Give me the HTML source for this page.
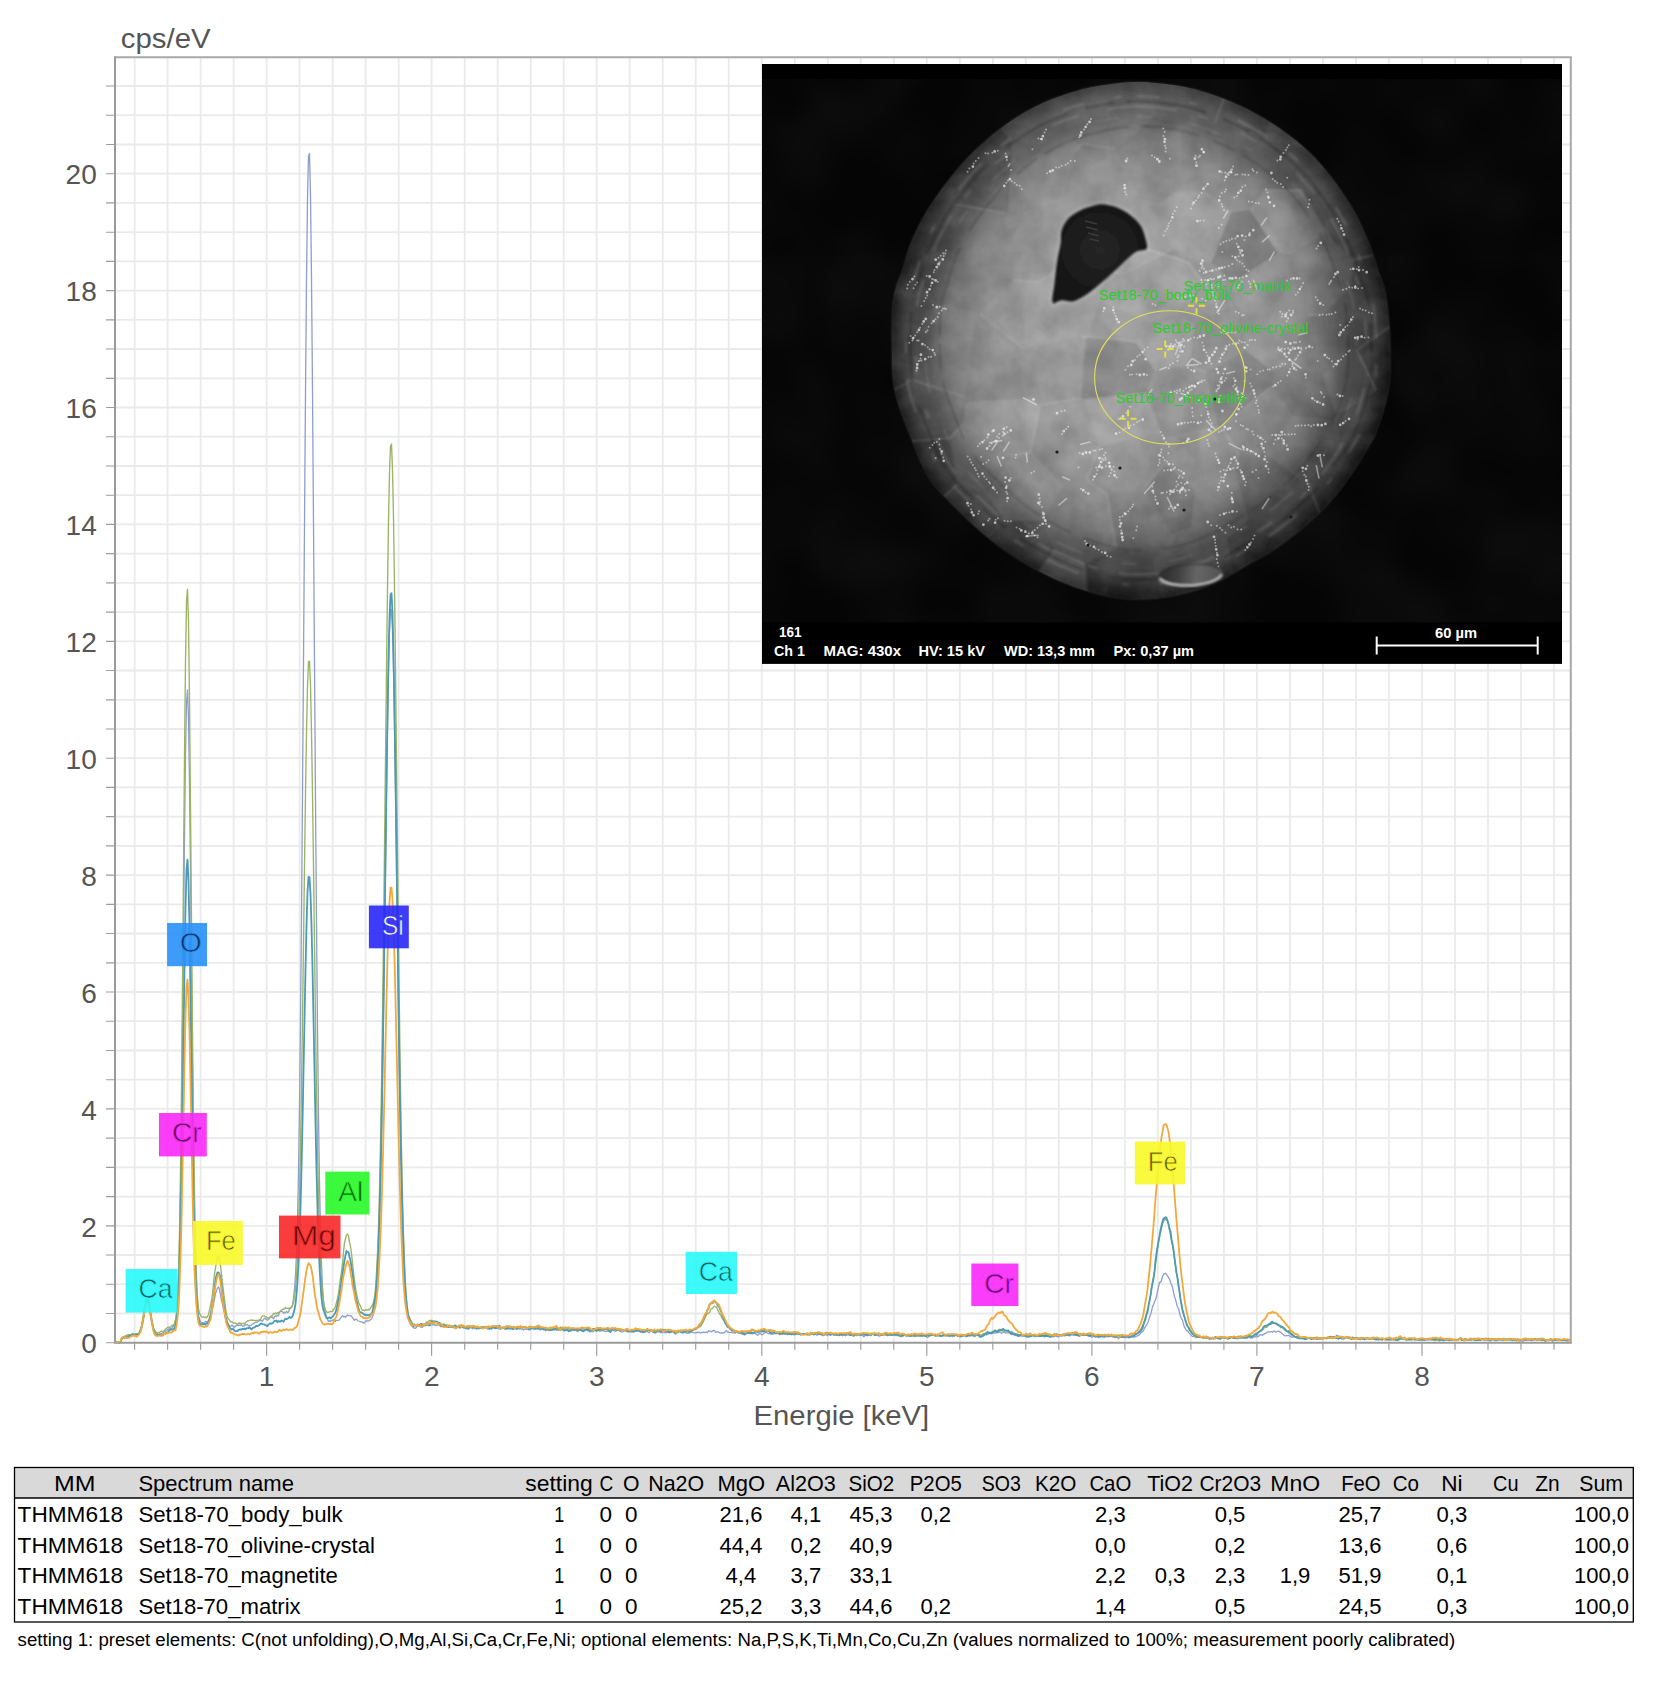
<!DOCTYPE html>
<html><head><meta charset="utf-8"><title>EDS spectrum Set18-70</title>
<style>
html,body{margin:0;padding:0;background:#fff;}
body{width:1659px;height:1692px;overflow:hidden;font-family:"Liberation Sans",sans-serif;}
svg{display:block;}
</style></head><body>
<svg width="1659" height="1692" viewBox="0 0 1659 1692">
<defs>
<clipPath id="plotclip"><rect x="115.0" y="57.3" width="1455.8" height="1286.4"/></clipPath>
<clipPath id="semclip"><rect x="762.0" y="64.0" width="800.0" height="599.8"/></clipPath>
<clipPath id="sphclip"><path d="M1137.0 81.9C1150.1 81.9 1165.8 83.8 1177.8 85.7C1189.8 87.6 1198.5 90.1 1209.0 93.5C1219.5 96.9 1230.0 101.0 1240.5 106.0C1251.0 111.0 1261.3 116.5 1271.8 123.3C1282.2 130.1 1293.8 138.5 1303.2 146.8C1312.6 155.2 1320.5 163.7 1328.3 173.4C1336.1 183.1 1343.9 194.4 1350.2 204.8C1356.5 215.2 1361.5 225.6 1365.9 236.0C1370.4 246.4 1373.6 257.3 1376.9 267.5C1380.2 277.7 1383.8 284.2 1386.0 297.0C1388.2 309.8 1389.7 328.3 1390.0 344.0C1390.3 359.7 1390.3 376.3 1388.0 391.0C1385.7 405.7 1379.5 422.3 1376.0 432.0C1372.5 441.7 1371.0 442.2 1367.0 449.0C1363.0 455.8 1357.5 464.9 1352.0 473.0C1346.5 481.1 1341.0 489.2 1334.0 497.3C1327.0 505.4 1319.0 513.4 1309.9 521.4C1300.9 529.4 1289.8 538.5 1279.7 545.5C1269.7 552.5 1259.4 557.8 1249.6 563.6C1239.8 569.4 1230.8 575.5 1221.0 580.2C1211.2 584.9 1200.7 588.9 1190.5 591.8C1180.3 594.7 1169.2 596.6 1160.0 597.8C1150.8 599.0 1143.2 599.4 1135.0 599.2C1126.8 599.0 1120.0 598.4 1111.0 596.7C1102.0 595.0 1090.8 592.3 1080.8 589.0C1070.8 585.7 1060.7 581.7 1050.7 577.0C1040.7 572.3 1030.7 566.9 1020.6 560.6C1010.5 554.4 1000.5 547.6 990.4 539.5C980.3 531.4 970.1 522.1 960.0 512.0C949.9 501.9 938.0 491.0 930.0 479.0C922.0 467.0 917.8 454.7 912.0 440.0C906.2 425.3 898.3 407.0 895.0 391.0C891.7 375.0 892.2 359.7 892.0 344.0C891.8 328.3 892.1 309.8 894.0 297.0C895.9 284.2 900.6 276.6 903.5 267.5C906.4 258.4 907.4 251.8 911.3 242.4C915.2 233.0 920.7 221.4 927.0 211.0C933.3 200.6 941.2 189.6 949.0 179.7C956.8 169.8 964.6 160.6 974.0 151.5C983.4 142.4 994.9 132.5 1005.4 124.9C1015.9 117.3 1026.3 111.2 1036.7 106.0C1047.1 100.8 1057.5 96.9 1068.0 93.5C1078.5 90.1 1087.9 87.6 1099.4 85.7C1110.9 83.8 1123.9 81.9 1137.0 81.9Z"/></clipPath>
<radialGradient id="sphg" gradientUnits="userSpaceOnUse" cx="1141" cy="340" r="262" fx="1105" fy="300">
<stop offset="0" stop-color="#989898"/><stop offset="0.40" stop-color="#929292"/>
<stop offset="0.65" stop-color="#888888"/><stop offset="0.80" stop-color="#7a7a7a"/>
<stop offset="0.90" stop-color="#686868"/><stop offset="0.96" stop-color="#525252"/>
<stop offset="1" stop-color="#303030"/></radialGradient>
<linearGradient id="shade" gradientUnits="userSpaceOnUse" x1="1000" y1="200" x2="1350" y2="520">
<stop offset="0" stop-color="#000" stop-opacity="0"/><stop offset="0.55" stop-color="#000" stop-opacity="0"/>
<stop offset="1" stop-color="#000" stop-opacity="0.12"/></linearGradient>
<linearGradient id="toplight" gradientUnits="userSpaceOnUse" x1="1141" y1="82" x2="1141" y2="598">
<stop offset="0" stop-color="#fff" stop-opacity="0.17"/><stop offset="0.13" stop-color="#fff" stop-opacity="0.10"/>
<stop offset="0.36" stop-color="#fff" stop-opacity="0"/><stop offset="1" stop-color="#fff" stop-opacity="0"/></linearGradient>
<linearGradient id="cavg" gradientUnits="userSpaceOnUse" x1="1160" y1="570" x2="1224" y2="580">
<stop offset="0" stop-color="#2a2a2a"/><stop offset="0.3" stop-color="#3e3e3e"/><stop offset="0.6" stop-color="#666"/><stop offset="1" stop-color="#505050"/></linearGradient>
<filter id="soft4" x="-5%" y="-5%" width="110%" height="110%"><feGaussianBlur stdDeviation="4"/></filter>
<radialGradient id="holeg" gradientUnits="userSpaceOnUse" cx="1100" cy="250" r="52">
<stop offset="0" stop-color="#262626"/><stop offset="1" stop-color="#151515"/></radialGradient>
<filter id="grain" x="0" y="0" width="100%" height="100%" color-interpolation-filters="sRGB">
<feTurbulence type="fractalNoise" baseFrequency="0.035 0.03" numOctaves="4" seed="5" result="n"/>
<feColorMatrix in="n" type="matrix" values="0 0 0 0 0  0 0 0 0 0  0 0 0 0 0  2.2 0 0 0 -0.75"/>
</filter>
<filter id="grainw" x="0" y="0" width="100%" height="100%" color-interpolation-filters="sRGB">
<feTurbulence type="fractalNoise" baseFrequency="0.03 0.04" numOctaves="4" seed="23" result="n"/>
<feColorMatrix in="n" type="matrix" values="0 0 0 0 1  0 0 0 0 1  0 0 0 0 1  2.0 0 0 0 -0.72"/>
</filter>
<filter id="bgn" x="0" y="0" width="100%" height="100%" color-interpolation-filters="sRGB">
<feTurbulence type="fractalNoise" baseFrequency="0.012" numOctaves="2" seed="3" result="n"/>
<feColorMatrix in="n" type="matrix" values="0 0 0 0 1  0 0 0 0 1  0 0 0 0 1  0.35 0 0 0 -0.1"/>
</filter>
<filter id="soft" x="-5%" y="-5%" width="110%" height="110%"><feGaussianBlur stdDeviation="0.8"/></filter>
<filter id="soft3" x="-5%" y="-5%" width="110%" height="110%"><feGaussianBlur stdDeviation="0.55"/></filter>
<filter id="soft2" x="-5%" y="-5%" width="110%" height="110%"><feGaussianBlur stdDeviation="2.2"/></filter>
</defs>
<rect width="1659" height="1692" fill="#ffffff"/>
<path d="M134.6 57.3V1342.7M167.6 57.3V1342.7M200.6 57.3V1342.7M233.6 57.3V1342.7M266.6 57.3V1342.7M299.6 57.3V1342.7M332.6 57.3V1342.7M365.6 57.3V1342.7M398.6 57.3V1342.7M431.6 57.3V1342.7M464.7 57.3V1342.7M497.7 57.3V1342.7M530.7 57.3V1342.7M563.7 57.3V1342.7M596.7 57.3V1342.7M629.7 57.3V1342.7M662.7 57.3V1342.7M695.7 57.3V1342.7M728.7 57.3V1342.7M761.8 57.3V1342.7M794.8 57.3V1342.7M827.8 57.3V1342.7M860.8 57.3V1342.7M893.8 57.3V1342.7M926.8 57.3V1342.7M959.8 57.3V1342.7M992.8 57.3V1342.7M1025.8 57.3V1342.7M1058.8 57.3V1342.7M1091.9 57.3V1342.7M1124.9 57.3V1342.7M1157.9 57.3V1342.7M1190.9 57.3V1342.7M1223.9 57.3V1342.7M1256.9 57.3V1342.7M1289.9 57.3V1342.7M1322.9 57.3V1342.7M1355.9 57.3V1342.7M1388.9 57.3V1342.7M1422.0 57.3V1342.7M1455.0 57.3V1342.7M1488.0 57.3V1342.7M1521.0 57.3V1342.7M1554.0 57.3V1342.7M115.0 1313.5H1570.8M115.0 1284.2H1570.8M115.0 1255.0H1570.8M115.0 1225.8H1570.8M115.0 1196.6H1570.8M115.0 1167.3H1570.8M115.0 1138.1H1570.8M115.0 1108.9H1570.8M115.0 1079.7H1570.8M115.0 1050.5H1570.8M115.0 1021.2H1570.8M115.0 992.0H1570.8M115.0 962.8H1570.8M115.0 933.5H1570.8M115.0 904.3H1570.8M115.0 875.1H1570.8M115.0 845.9H1570.8M115.0 816.6H1570.8M115.0 787.4H1570.8M115.0 758.2H1570.8M115.0 729.0H1570.8M115.0 699.8H1570.8M115.0 670.5H1570.8M115.0 641.3H1570.8M115.0 612.1H1570.8M115.0 582.9H1570.8M115.0 553.6H1570.8M115.0 524.4H1570.8M115.0 495.2H1570.8M115.0 466.0H1570.8M115.0 436.7H1570.8M115.0 407.5H1570.8M115.0 378.3H1570.8M115.0 349.0H1570.8M115.0 319.8H1570.8M115.0 290.6H1570.8M115.0 261.4H1570.8M115.0 232.2H1570.8M115.0 202.9H1570.8M115.0 173.7H1570.8M115.0 144.5H1570.8M115.0 115.2H1570.8M115.0 86.0H1570.8" fill="none" stroke="#eaeaea" stroke-width="1.8"/>
<path d="M115.0 57.3H1570.8V1342.7" fill="none" stroke="#a9a9a9" stroke-width="2"/>
<path d="M115.0 56.3V1342.7H1571.8" fill="none" stroke="#9a9a9a" stroke-width="2"/>
<path d="M106.0 1342.7H115.0M106.0 1313.5H115.0M106.0 1284.2H115.0M106.0 1255.0H115.0M106.0 1225.8H115.0M106.0 1196.6H115.0M106.0 1167.3H115.0M106.0 1138.1H115.0M106.0 1108.9H115.0M106.0 1079.7H115.0M106.0 1050.5H115.0M106.0 1021.2H115.0M106.0 992.0H115.0M106.0 962.8H115.0M106.0 933.5H115.0M106.0 904.3H115.0M106.0 875.1H115.0M106.0 845.9H115.0M106.0 816.6H115.0M106.0 787.4H115.0M106.0 758.2H115.0M106.0 729.0H115.0M106.0 699.8H115.0M106.0 670.5H115.0M106.0 641.3H115.0M106.0 612.1H115.0M106.0 582.9H115.0M106.0 553.6H115.0M106.0 524.4H115.0M106.0 495.2H115.0M106.0 466.0H115.0M106.0 436.7H115.0M106.0 407.5H115.0M106.0 378.3H115.0M106.0 349.0H115.0M106.0 319.8H115.0M106.0 290.6H115.0M106.0 261.4H115.0M106.0 232.2H115.0M106.0 202.9H115.0M106.0 173.7H115.0M106.0 144.5H115.0M106.0 115.2H115.0M106.0 86.0H115.0M134.6 1342.7V1349.7M167.6 1342.7V1349.7M200.6 1342.7V1349.7M233.6 1342.7V1349.7M266.6 1342.7V1355.7M299.6 1342.7V1349.7M332.6 1342.7V1349.7M365.6 1342.7V1349.7M398.6 1342.7V1349.7M431.6 1342.7V1355.7M464.7 1342.7V1349.7M497.7 1342.7V1349.7M530.7 1342.7V1349.7M563.7 1342.7V1349.7M596.7 1342.7V1355.7M629.7 1342.7V1349.7M662.7 1342.7V1349.7M695.7 1342.7V1349.7M728.7 1342.7V1349.7M761.8 1342.7V1355.7M794.8 1342.7V1349.7M827.8 1342.7V1349.7M860.8 1342.7V1349.7M893.8 1342.7V1349.7M926.8 1342.7V1355.7M959.8 1342.7V1349.7M992.8 1342.7V1349.7M1025.8 1342.7V1349.7M1058.8 1342.7V1349.7M1091.9 1342.7V1355.7M1124.9 1342.7V1349.7M1157.9 1342.7V1349.7M1190.9 1342.7V1349.7M1223.9 1342.7V1349.7M1256.9 1342.7V1355.7M1289.9 1342.7V1349.7M1322.9 1342.7V1349.7M1355.9 1342.7V1349.7M1388.9 1342.7V1349.7M1422.0 1342.7V1355.7M1455.0 1342.7V1349.7M1488.0 1342.7V1349.7M1521.0 1342.7V1349.7M1554.0 1342.7V1349.7" fill="none" stroke="#9c9c9c" stroke-width="1.15"/>
<g font-family="Liberation Sans, sans-serif" fill="#555555" font-size="27.3">
<text x="120.8" y="47.7" textLength="89.8" lengthAdjust="spacingAndGlyphs">cps/eV</text>
<text x="81.2" y="1353.4" textLength="15.6" lengthAdjust="spacingAndGlyphs">0</text>
<text x="81.2" y="1236.5" textLength="15.6" lengthAdjust="spacingAndGlyphs">2</text>
<text x="81.2" y="1119.6" textLength="15.6" lengthAdjust="spacingAndGlyphs">4</text>
<text x="81.2" y="1002.7" textLength="15.6" lengthAdjust="spacingAndGlyphs">6</text>
<text x="81.2" y="885.8" textLength="15.6" lengthAdjust="spacingAndGlyphs">8</text>
<text x="65.6" y="768.9" textLength="31.2" lengthAdjust="spacingAndGlyphs">10</text>
<text x="65.6" y="652.0" textLength="31.2" lengthAdjust="spacingAndGlyphs">12</text>
<text x="65.6" y="535.1" textLength="31.2" lengthAdjust="spacingAndGlyphs">14</text>
<text x="65.6" y="418.2" textLength="31.2" lengthAdjust="spacingAndGlyphs">16</text>
<text x="65.6" y="301.3" textLength="31.2" lengthAdjust="spacingAndGlyphs">18</text>
<text x="65.6" y="184.4" textLength="31.2" lengthAdjust="spacingAndGlyphs">20</text>
<text x="258.8" y="1385.8" textLength="15.6" lengthAdjust="spacingAndGlyphs">1</text>
<text x="423.9" y="1385.8" textLength="15.6" lengthAdjust="spacingAndGlyphs">2</text>
<text x="588.9" y="1385.8" textLength="15.6" lengthAdjust="spacingAndGlyphs">3</text>
<text x="754.0" y="1385.8" textLength="15.6" lengthAdjust="spacingAndGlyphs">4</text>
<text x="919.0" y="1385.8" textLength="15.6" lengthAdjust="spacingAndGlyphs">5</text>
<text x="1084.0" y="1385.8" textLength="15.6" lengthAdjust="spacingAndGlyphs">6</text>
<text x="1249.1" y="1385.8" textLength="15.6" lengthAdjust="spacingAndGlyphs">7</text>
<text x="1414.2" y="1385.8" textLength="15.6" lengthAdjust="spacingAndGlyphs">8</text>
<text x="753.6" y="1425" textLength="175.6" lengthAdjust="spacingAndGlyphs">Energie [keV]</text>
</g>
<g clip-path="url(#plotclip)">
<path d="M116.5 1342.6 117.5 1342.3 118.5 1341.8 119.5 1342.1 120.5 1342.0 121.5 1338.9 122.5 1337.3 123.5 1336.7 124.5 1337.4 125.5 1337.7 126.5 1336.7 127.5 1336.1 128.5 1335.1 129.5 1334.7 130.5 1334.9 131.5 1335.0 132.5 1333.4 133.5 1334.1 134.5 1334.7 135.5 1335.2 136.5 1334.7 137.5 1334.3 138.5 1333.9 139.5 1332.7 140.5 1330.5 141.5 1326.9 142.5 1321.8 143.5 1316.4 144.5 1312.1 145.5 1305.6 146.5 1303.3 147.5 1302.2 148.5 1305.3 149.5 1309.1 150.5 1315.3 151.5 1320.7 152.5 1323.6 153.5 1328.5 154.5 1331.1 155.5 1333.8 156.5 1334.6 157.5 1334.3 158.5 1334.4 159.5 1333.9 160.5 1333.6 161.5 1333.8 162.5 1332.8 163.5 1332.7 164.5 1330.9 165.5 1331.0 166.5 1330.2 167.5 1329.9 168.5 1328.9 169.5 1329.2 170.5 1328.2 171.5 1328.2 172.5 1327.1 173.5 1326.3 174.5 1324.9 175.5 1322.3 176.5 1314.8 177.5 1302.0 178.5 1278.9 179.5 1245.1 180.5 1192.8 181.5 1121.8 182.5 1033.6 183.5 934.8 184.5 836.7 185.5 754.9 186.5 703.0 187.5 689.9 188.5 718.6 189.5 783.6 190.5 874.4 191.5 974.5 192.5 1070.5 193.5 1152.2 194.5 1215.7 195.5 1259.7 196.5 1287.2 197.5 1305.7 198.5 1315.9 199.5 1319.1 200.5 1321.7 201.5 1322.3 202.5 1322.6 203.5 1323.9 204.5 1322.2 205.5 1321.6 206.5 1322.0 207.5 1321.5 208.5 1320.9 209.5 1320.2 210.5 1317.8 211.5 1314.1 212.5 1309.1 213.5 1304.0 214.5 1299.3 215.5 1293.4 216.5 1290.9 217.5 1287.9 218.5 1286.9 219.5 1289.6 220.5 1295.0 221.5 1299.9 222.5 1304.4 223.5 1309.0 224.5 1312.7 225.5 1318.0 226.5 1321.0 227.5 1322.8 228.5 1324.6 229.5 1327.1 230.5 1326.5 231.5 1325.3 232.5 1325.5 233.5 1326.9 234.5 1327.3 235.5 1326.3 236.5 1324.8 237.5 1325.1 238.5 1325.7 239.5 1325.0 240.5 1325.7 241.5 1324.8 242.5 1325.9 243.5 1326.3 244.5 1325.7 245.5 1324.7 246.5 1324.6 247.5 1324.6 248.5 1325.9 249.5 1325.7 250.5 1325.4 251.5 1325.0 252.5 1323.8 253.5 1323.7 254.5 1322.6 255.5 1322.3 256.5 1322.3 257.5 1321.8 258.5 1321.2 259.5 1320.4 260.5 1320.7 261.5 1320.6 262.5 1321.2 263.5 1319.4 264.5 1318.4 265.5 1318.9 266.5 1319.4 267.5 1320.2 268.5 1319.4 269.5 1318.8 270.5 1316.9 271.5 1317.0 272.5 1317.6 273.5 1318.9 274.5 1316.5 275.5 1315.9 276.5 1316.6 277.5 1315.4 278.5 1315.9 279.5 1312.0 280.5 1311.4 281.5 1311.3 282.5 1311.7 283.5 1313.2 284.5 1312.4 285.5 1312.9 286.5 1311.4 287.5 1312.6 288.5 1312.0 289.5 1309.6 290.5 1307.3 291.5 1307.1 292.5 1305.2 293.5 1298.4 294.5 1288.6 295.5 1275.4 296.5 1253.3 297.5 1219.9 298.5 1172.7 299.5 1107.4 300.5 1021.0 301.5 916.4 302.5 793.3 303.5 660.7 304.5 523.6 305.5 393.7 306.5 280.9 307.5 199.0 308.5 155.9 309.5 153.5 310.5 195.3 311.5 277.8 312.5 390.4 313.5 523.3 314.5 664.0 315.5 799.4 316.5 923.0 317.5 1029.1 318.5 1116.0 319.5 1182.7 320.5 1230.2 321.5 1263.5 322.5 1286.6 323.5 1299.6 324.5 1308.9 325.5 1314.0 326.5 1316.4 327.5 1319.2 328.5 1321.5 329.5 1320.8 330.5 1321.4 331.5 1320.3 332.5 1320.3 333.5 1319.8 334.5 1319.6 335.5 1321.4 336.5 1320.3 337.5 1320.4 338.5 1320.3 339.5 1319.7 340.5 1318.2 341.5 1316.9 342.5 1315.7 343.5 1316.8 344.5 1316.3 345.5 1317.3 346.5 1316.1 347.5 1315.0 348.5 1315.7 349.5 1315.6 350.5 1316.0 351.5 1316.0 352.5 1317.8 353.5 1319.2 354.5 1320.2 355.5 1319.2 356.5 1319.4 357.5 1320.5 358.5 1321.0 359.5 1321.4 360.5 1321.6 361.5 1322.0 362.5 1322.2 363.5 1323.0 364.5 1322.9 365.5 1321.2 366.5 1320.9 367.5 1321.0 368.5 1321.0 369.5 1320.6 370.5 1319.6 371.5 1319.0 372.5 1316.7 373.5 1313.4 374.5 1309.1 375.5 1302.1 376.5 1291.5 377.5 1275.9 378.5 1252.0 379.5 1224.5 380.5 1185.4 381.5 1137.7 382.5 1080.8 383.5 1014.8 384.5 942.0 385.5 867.8 386.5 795.0 387.5 728.5 388.5 672.2 389.5 630.5 390.5 609.4 391.5 609.6 392.5 630.4 393.5 670.2 394.5 726.1 395.5 790.9 396.5 864.0 397.5 939.5 398.5 1010.5 399.5 1078.2 400.5 1135.7 401.5 1184.1 402.5 1225.5 403.5 1257.2 404.5 1280.1 405.5 1294.8 406.5 1305.1 407.5 1314.3 408.5 1318.4 409.5 1322.2 410.5 1324.4 411.5 1325.8 412.5 1326.5 413.5 1327.8 414.5 1328.0 415.5 1328.3 416.5 1327.3 417.5 1325.7 418.5 1324.4 419.5 1325.6 420.5 1327.2 421.5 1327.1 422.5 1327.3 423.5 1325.5 424.5 1325.3 425.5 1325.9 426.5 1325.0 427.5 1324.7 428.5 1325.9 429.5 1325.7 430.5 1325.4 431.5 1325.0 432.5 1324.7 433.5 1324.9 434.5 1324.7 435.5 1325.2 436.5 1325.7 437.5 1324.6 438.5 1324.8 439.5 1325.0 440.5 1326.6 441.5 1326.6 442.5 1326.1 443.5 1327.2 444.5 1326.4 445.5 1326.9 446.5 1326.7 447.5 1327.0 448.5 1327.0 449.5 1326.3 450.5 1327.0 451.5 1326.2 452.5 1327.2 453.5 1327.9 454.5 1327.2 455.5 1328.0 456.5 1328.0 457.5 1327.2 458.5 1326.6 459.5 1328.2 460.5 1327.6 461.5 1326.4 462.5 1326.2 463.5 1327.0 464.5 1327.7 465.5 1327.9 466.5 1328.6 467.5 1328.4 468.5 1328.3 469.5 1328.2 470.5 1327.3 471.5 1327.7 472.5 1328.7 473.5 1327.7 474.5 1328.5 475.5 1328.6 476.5 1328.4 477.5 1328.5 478.5 1328.9 479.5 1328.7 480.5 1327.1 481.5 1328.0 482.5 1328.2 483.5 1327.5 484.5 1327.4 485.5 1327.3 486.5 1327.2 487.5 1329.0 488.5 1329.2 489.5 1328.8 490.5 1328.3 491.5 1327.5 492.5 1327.7 493.5 1328.2 494.5 1328.3 495.5 1328.5 496.5 1328.4 497.5 1328.0 498.5 1328.5 499.5 1329.0 500.5 1329.4 501.5 1328.3 502.5 1327.7 503.5 1327.5 504.5 1327.5 505.5 1327.5 506.5 1328.0 507.5 1327.9 508.5 1328.9 509.5 1328.9 510.5 1329.3 511.5 1328.5 512.5 1329.0 513.5 1328.9 514.5 1328.5 515.5 1327.8 516.5 1328.7 517.5 1329.3 518.5 1328.5 519.5 1329.3 520.5 1328.7 521.5 1329.1 522.5 1329.0 523.5 1330.0 524.5 1329.0 525.5 1329.2 526.5 1329.6 527.5 1327.9 528.5 1327.9 529.5 1326.1 530.5 1327.1 531.5 1328.1 532.5 1328.4 533.5 1327.7 534.5 1328.3 535.5 1328.3 536.5 1328.3 537.5 1329.2 538.5 1329.1 539.5 1329.4 540.5 1330.0 541.5 1329.1 542.5 1328.7 543.5 1328.9 544.5 1329.6 545.5 1330.7 546.5 1329.8 547.5 1329.6 548.5 1330.6 549.5 1330.1 550.5 1330.7 551.5 1330.2 552.5 1329.8 553.5 1329.4 554.5 1329.4 555.5 1329.4 556.5 1330.2 557.5 1330.2 558.5 1330.3 559.5 1330.2 560.5 1329.8 561.5 1329.4 562.5 1328.6 563.5 1330.7 564.5 1330.1 565.5 1330.1 566.5 1328.7 567.5 1328.7 568.5 1330.3 569.5 1329.9 570.5 1330.3 571.5 1329.6 572.5 1330.5 573.5 1330.4 574.5 1330.3 575.5 1330.3 576.5 1330.6 577.5 1331.5 578.5 1330.7 579.5 1329.9 580.5 1330.1 581.5 1330.8 582.5 1330.5 583.5 1330.1 584.5 1330.3 585.5 1330.3 586.5 1329.5 587.5 1330.6 588.5 1330.8 589.5 1331.8 590.5 1331.6 591.5 1331.5 592.5 1331.6 593.5 1331.5 594.5 1329.9 595.5 1330.3 596.5 1330.4 597.5 1329.1 598.5 1329.7 599.5 1331.1 600.5 1330.6 601.5 1331.1 602.5 1329.8 603.5 1330.9 604.5 1331.0 605.5 1331.8 606.5 1331.1 607.5 1331.5 608.5 1331.1 609.5 1331.1 610.5 1331.2 611.5 1330.4 612.5 1329.9 613.5 1330.2 614.5 1331.0 615.5 1331.5 616.5 1331.0 617.5 1329.4 618.5 1330.3 619.5 1331.0 620.5 1331.3 621.5 1331.8 622.5 1331.9 623.5 1331.6 624.5 1330.4 625.5 1330.7 626.5 1331.1 627.5 1332.0 628.5 1331.5 629.5 1331.3 630.5 1331.9 631.5 1332.2 632.5 1331.8 633.5 1330.9 634.5 1330.7 635.5 1330.8 636.5 1331.2 637.5 1331.1 638.5 1331.2 639.5 1330.0 640.5 1331.3 641.5 1331.6 642.5 1330.8 643.5 1331.3 644.5 1330.6 645.5 1331.0 646.5 1331.2 647.5 1331.6 648.5 1332.5 649.5 1332.7 650.5 1331.0 651.5 1330.9 652.5 1331.0 653.5 1330.8 654.5 1330.9 655.5 1330.8 656.5 1331.4 657.5 1331.8 658.5 1331.3 659.5 1331.8 660.5 1332.6 661.5 1332.5 662.5 1332.6 663.5 1332.0 664.5 1332.4 665.5 1332.9 666.5 1332.7 667.5 1331.5 668.5 1331.8 669.5 1331.9 670.5 1332.0 671.5 1331.9 672.5 1331.5 673.5 1331.0 674.5 1332.5 675.5 1331.5 676.5 1331.8 677.5 1332.2 678.5 1330.8 679.5 1331.5 680.5 1330.7 681.5 1330.8 682.5 1332.0 683.5 1331.8 684.5 1331.6 685.5 1331.9 686.5 1333.4 687.5 1333.1 688.5 1332.8 689.5 1333.2 690.5 1331.7 691.5 1332.1 692.5 1332.4 693.5 1332.5 694.5 1332.8 695.5 1333.0 696.5 1332.6 697.5 1332.2 698.5 1332.5 699.5 1332.3 700.5 1333.0 701.5 1332.3 702.5 1332.6 703.5 1332.1 704.5 1332.5 705.5 1332.5 706.5 1332.0 707.5 1332.6 708.5 1330.7 709.5 1331.1 710.5 1331.4 711.5 1331.9 712.5 1330.8 713.5 1330.4 714.5 1330.7 715.5 1332.0 716.5 1332.2 717.5 1331.6 718.5 1332.0 719.5 1332.7 720.5 1333.1 721.5 1333.1 722.5 1332.7 723.5 1332.9 724.5 1332.7 725.5 1331.0 726.5 1330.7 727.5 1332.1 728.5 1332.2 729.5 1332.4 730.5 1332.6 731.5 1332.1 732.5 1332.6 733.5 1332.9 734.5 1333.1 735.5 1333.1 736.5 1332.3 737.5 1332.1 738.5 1333.3 739.5 1333.4 740.5 1333.7 741.5 1332.9 742.5 1332.9 743.5 1332.5 744.5 1332.8 745.5 1334.0 746.5 1333.4 747.5 1333.1 748.5 1332.9 749.5 1333.7 750.5 1333.5 751.5 1333.7 752.5 1333.9 753.5 1333.4 754.5 1333.1 755.5 1333.7 756.5 1334.4 757.5 1335.3 758.5 1334.7 759.5 1333.4 760.5 1333.4 761.5 1334.6 762.5 1334.5 763.5 1333.7 764.5 1332.6 765.5 1332.3 766.5 1332.6 767.5 1332.9 768.5 1333.7 769.5 1333.9 770.5 1333.9 771.5 1334.2 772.5 1333.9 773.5 1334.0 774.5 1333.7 775.5 1332.9 776.5 1332.9 777.5 1333.1 778.5 1333.6 779.5 1334.6 780.5 1334.3 781.5 1333.9 782.5 1334.5 783.5 1333.6 784.5 1334.0 785.5 1333.8 786.5 1334.1 787.5 1334.8 788.5 1333.4 789.5 1334.4 790.5 1333.8 791.5 1334.3 792.5 1334.1 793.5 1334.6 794.5 1334.7 795.5 1334.0 796.5 1333.1 797.5 1334.1 798.5 1334.2 799.5 1333.8 800.5 1334.4 801.5 1334.0 802.5 1334.6 803.5 1334.2 804.5 1334.1 805.5 1333.6 806.5 1333.8 807.5 1334.8 808.5 1334.3 809.5 1335.0 810.5 1334.4 811.5 1333.6 812.5 1333.7 813.5 1334.4 814.5 1333.9 815.5 1334.1 816.5 1335.0 817.5 1335.0 818.5 1334.1 819.5 1334.5 820.5 1334.5 821.5 1334.8 822.5 1335.7 823.5 1335.5 824.5 1335.0 825.5 1334.7 826.5 1334.8 827.5 1335.9 828.5 1334.7 829.5 1334.4 830.5 1334.0 831.5 1333.6 832.5 1334.4 833.5 1334.9 834.5 1334.7 835.5 1333.8 836.5 1335.2 837.5 1335.1 838.5 1335.4 839.5 1334.8 840.5 1334.0 841.5 1334.5 842.5 1335.3 843.5 1335.1 844.5 1335.1 845.5 1335.8 846.5 1334.9 847.5 1335.1 848.5 1334.6 849.5 1335.4 850.5 1334.6 851.5 1335.5 852.5 1334.6 853.5 1335.7 854.5 1334.6 855.5 1334.9 856.5 1335.7 857.5 1335.5 858.5 1335.0 859.5 1335.5 860.5 1335.5 861.5 1335.1 862.5 1335.1 863.5 1336.7 864.5 1336.1 865.5 1335.4 866.5 1335.0 867.5 1334.5 868.5 1335.1 869.5 1333.7 870.5 1333.9 871.5 1334.2 872.5 1334.0 873.5 1334.0 874.5 1334.4 875.5 1335.1 876.5 1334.5 877.5 1334.6 878.5 1335.9 879.5 1336.1 880.5 1335.5 881.5 1335.3 882.5 1335.1 883.5 1334.8 884.5 1334.9 885.5 1334.2 886.5 1335.0 887.5 1335.4 888.5 1335.2 889.5 1334.8 890.5 1334.7 891.5 1334.2 892.5 1335.0 893.5 1334.5 894.5 1334.7 895.5 1335.6 896.5 1335.6 897.5 1334.4 898.5 1334.5 899.5 1335.2 900.5 1336.6 901.5 1336.5 902.5 1336.4 903.5 1336.0 904.5 1334.6 905.5 1334.6 906.5 1334.9 907.5 1335.7 908.5 1336.3 909.5 1336.1 910.5 1336.1 911.5 1334.3 912.5 1335.1 913.5 1335.7 914.5 1335.1 915.5 1335.3 916.5 1336.1 917.5 1335.2 918.5 1335.6 919.5 1336.3 920.5 1335.9 921.5 1335.5 922.5 1335.8 923.5 1335.4 924.5 1335.1 925.5 1335.8 926.5 1336.8 927.5 1337.6 928.5 1336.8 929.5 1335.6 930.5 1335.1 931.5 1334.7 932.5 1334.2 933.5 1334.8 934.5 1334.7 935.5 1335.9 936.5 1335.5 937.5 1335.4 938.5 1335.6 939.5 1335.9 940.5 1336.4 941.5 1336.0 942.5 1335.2 943.5 1335.6 944.5 1335.4 945.5 1335.9 946.5 1335.7 947.5 1336.2 948.5 1335.8 949.5 1335.9 950.5 1335.6 951.5 1336.0 952.5 1336.5 953.5 1336.3 954.5 1335.5 955.5 1334.8 956.5 1335.4 957.5 1335.1 958.5 1335.0 959.5 1335.1 960.5 1336.2 961.5 1335.8 962.5 1336.3 963.5 1335.4 964.5 1335.2 965.5 1335.1 966.5 1336.7 967.5 1336.0 968.5 1335.5 969.5 1336.3 970.5 1335.5 971.5 1335.6 972.5 1335.8 973.5 1336.1 974.5 1336.5 975.5 1336.3 976.5 1334.4 977.5 1334.8 978.5 1335.0 979.5 1335.5 980.5 1335.7 981.5 1335.8 982.5 1335.9 983.5 1335.0 984.5 1335.0 985.5 1334.3 986.5 1335.0 987.5 1334.1 988.5 1334.0 989.5 1333.5 990.5 1333.5 991.5 1333.8 992.5 1332.7 993.5 1333.0 994.5 1332.9 995.5 1333.1 996.5 1332.6 997.5 1332.6 998.5 1332.3 999.5 1332.0 1000.5 1332.5 1001.5 1333.2 1002.5 1332.6 1003.5 1332.0 1004.5 1332.0 1005.5 1333.1 1006.5 1332.8 1007.5 1332.9 1008.5 1333.1 1009.5 1333.2 1010.5 1333.8 1011.5 1334.0 1012.5 1333.8 1013.5 1334.5 1014.5 1335.5 1015.5 1335.4 1016.5 1335.3 1017.5 1336.4 1018.5 1336.4 1019.5 1335.8 1020.5 1335.8 1021.5 1335.8 1022.5 1336.5 1023.5 1335.8 1024.5 1335.0 1025.5 1335.5 1026.5 1336.1 1027.5 1336.7 1028.5 1335.9 1029.5 1335.9 1030.5 1336.4 1031.5 1335.6 1032.5 1335.5 1033.5 1335.4 1034.5 1336.6 1035.5 1336.5 1036.5 1336.0 1037.5 1336.7 1038.5 1336.0 1039.5 1335.3 1040.5 1335.1 1041.5 1336.0 1042.5 1336.4 1043.5 1335.8 1044.5 1335.4 1045.5 1335.1 1046.5 1335.0 1047.5 1335.5 1048.5 1336.0 1049.5 1337.0 1050.5 1336.2 1051.5 1335.0 1052.5 1335.7 1053.5 1336.1 1054.5 1335.7 1055.5 1335.6 1056.5 1336.5 1057.5 1336.6 1058.5 1336.8 1059.5 1335.3 1060.5 1335.8 1061.5 1335.3 1062.5 1334.4 1063.5 1333.8 1064.5 1333.8 1065.5 1333.6 1066.5 1334.9 1067.5 1335.2 1068.5 1335.5 1069.5 1335.4 1070.5 1333.7 1071.5 1335.1 1072.5 1334.7 1073.5 1335.4 1074.5 1334.4 1075.5 1333.9 1076.5 1334.6 1077.5 1333.6 1078.5 1334.1 1079.5 1333.8 1080.5 1334.2 1081.5 1334.9 1082.5 1335.3 1083.5 1335.4 1084.5 1335.1 1085.5 1335.2 1086.5 1334.1 1087.5 1334.9 1088.5 1335.6 1089.5 1336.1 1090.5 1336.4 1091.5 1337.0 1092.5 1337.0 1093.5 1336.1 1094.5 1336.1 1095.5 1336.2 1096.5 1336.0 1097.5 1335.5 1098.5 1335.5 1099.5 1335.5 1100.5 1336.1 1101.5 1336.3 1102.5 1336.7 1103.5 1336.6 1104.5 1336.9 1105.5 1336.8 1106.5 1336.7 1107.5 1336.6 1108.5 1336.6 1109.5 1336.8 1110.5 1335.9 1111.5 1336.3 1112.5 1336.9 1113.5 1336.6 1114.5 1337.0 1115.5 1337.3 1116.5 1336.9 1117.5 1337.5 1118.5 1338.7 1119.5 1337.5 1120.5 1336.5 1121.5 1337.4 1122.5 1337.4 1123.5 1336.7 1124.5 1337.6 1125.5 1337.6 1126.5 1337.7 1127.5 1337.3 1128.5 1337.9 1129.5 1336.8 1130.5 1336.7 1131.5 1336.3 1132.5 1336.4 1133.5 1337.3 1134.5 1336.7 1135.5 1336.9 1136.5 1336.1 1137.5 1335.9 1138.5 1335.3 1139.5 1334.6 1140.5 1333.3 1141.5 1332.0 1142.5 1331.8 1143.5 1330.5 1144.5 1328.1 1145.5 1326.4 1146.5 1325.3 1147.5 1323.2 1148.5 1320.9 1149.5 1317.4 1150.5 1314.6 1151.5 1311.3 1152.5 1306.3 1153.5 1304.8 1154.5 1302.1 1155.5 1299.6 1156.5 1296.5 1157.5 1291.1 1158.5 1287.2 1159.5 1282.4 1160.5 1282.4 1161.5 1280.4 1162.5 1276.5 1163.5 1274.5 1164.5 1273.5 1165.5 1273.2 1166.5 1274.4 1167.5 1275.8 1168.5 1277.6 1169.5 1279.0 1170.5 1282.1 1171.5 1284.9 1172.5 1287.0 1173.5 1292.3 1174.5 1296.5 1175.5 1299.4 1176.5 1303.3 1177.5 1307.0 1178.5 1308.7 1179.5 1312.5 1180.5 1316.5 1181.5 1318.7 1182.5 1320.1 1183.5 1324.3 1184.5 1327.1 1185.5 1328.8 1186.5 1330.7 1187.5 1330.7 1188.5 1332.1 1189.5 1333.7 1190.5 1334.3 1191.5 1335.6 1192.5 1336.4 1193.5 1336.6 1194.5 1335.7 1195.5 1337.6 1196.5 1337.4 1197.5 1336.8 1198.5 1336.9 1199.5 1336.4 1200.5 1336.8 1201.5 1337.3 1202.5 1337.6 1203.5 1338.2 1204.5 1337.3 1205.5 1338.2 1206.5 1338.2 1207.5 1338.4 1208.5 1338.6 1209.5 1339.5 1210.5 1339.0 1211.5 1338.6 1212.5 1338.3 1213.5 1337.8 1214.5 1338.1 1215.5 1338.4 1216.5 1338.2 1217.5 1337.9 1218.5 1338.4 1219.5 1339.1 1220.5 1339.2 1221.5 1338.3 1222.5 1337.8 1223.5 1338.4 1224.5 1338.3 1225.5 1337.9 1226.5 1337.4 1227.5 1338.1 1228.5 1338.3 1229.5 1337.6 1230.5 1336.8 1231.5 1336.7 1232.5 1338.0 1233.5 1337.9 1234.5 1338.2 1235.5 1338.3 1236.5 1338.6 1237.5 1338.7 1238.5 1338.5 1239.5 1337.5 1240.5 1337.5 1241.5 1337.6 1242.5 1337.9 1243.5 1338.3 1244.5 1338.3 1245.5 1337.6 1246.5 1337.3 1247.5 1336.6 1248.5 1337.0 1249.5 1337.2 1250.5 1338.1 1251.5 1337.5 1252.5 1338.1 1253.5 1336.8 1254.5 1336.9 1255.5 1336.6 1256.5 1336.9 1257.5 1336.5 1258.5 1336.4 1259.5 1335.0 1260.5 1334.6 1261.5 1334.9 1262.5 1335.3 1263.5 1334.3 1264.5 1333.8 1265.5 1333.7 1266.5 1332.6 1267.5 1332.2 1268.5 1331.8 1269.5 1331.8 1270.5 1331.8 1271.5 1331.7 1272.5 1332.3 1273.5 1331.3 1274.5 1331.0 1275.5 1332.2 1276.5 1331.8 1277.5 1331.2 1278.5 1331.5 1279.5 1331.3 1280.5 1332.2 1281.5 1332.8 1282.5 1334.0 1283.5 1334.7 1284.5 1335.7 1285.5 1336.0 1286.5 1335.7 1287.5 1335.6 1288.5 1335.3 1289.5 1335.9 1290.5 1336.9 1291.5 1336.9 1292.5 1337.3 1293.5 1336.6 1294.5 1336.3 1295.5 1336.7 1296.5 1338.0 1297.5 1338.4 1298.5 1338.4 1299.5 1338.8 1300.5 1338.5 1301.5 1338.3 1302.5 1338.1 1303.5 1338.3 1304.5 1339.0 1305.5 1339.3 1306.5 1339.2 1307.5 1338.5 1308.5 1337.9 1309.5 1337.9 1310.5 1338.2 1311.5 1338.2 1312.5 1338.1 1313.5 1337.9 1314.5 1337.9 1315.5 1339.0 1316.5 1338.5 1317.5 1338.4 1318.5 1338.7 1319.5 1338.4 1320.5 1338.3 1321.5 1338.4 1322.5 1339.1 1323.5 1338.7 1324.5 1338.1 1325.5 1338.1 1326.5 1338.7 1327.5 1338.1 1328.5 1337.5 1329.5 1337.4 1330.5 1337.2 1331.5 1337.4 1332.5 1337.6 1333.5 1337.1 1334.5 1337.2 1335.5 1337.0 1336.5 1335.3 1337.5 1335.6 1338.5 1336.1 1339.5 1337.3 1340.5 1337.0 1341.5 1336.6 1342.5 1337.1 1343.5 1337.2 1344.5 1338.3 1345.5 1337.6 1346.5 1337.8 1347.5 1337.4 1348.5 1336.8 1349.5 1337.4 1350.5 1337.2 1351.5 1337.5 1352.5 1337.9 1353.5 1338.2 1354.5 1338.7 1355.5 1338.0 1356.5 1337.9 1357.5 1338.7 1358.5 1338.4 1359.5 1338.9 1360.5 1339.6 1361.5 1338.8 1362.5 1339.5 1363.5 1338.8 1364.5 1338.8 1365.5 1338.6 1366.5 1338.6 1367.5 1338.4 1368.5 1338.6 1369.5 1338.6 1370.5 1338.8 1371.5 1338.5 1372.5 1339.0 1373.5 1338.7 1374.5 1338.3 1375.5 1338.8 1376.5 1338.8 1377.5 1339.3 1378.5 1339.4 1379.5 1339.3 1380.5 1339.4 1381.5 1339.8 1382.5 1339.6 1383.5 1339.4 1384.5 1339.2 1385.5 1339.0 1386.5 1340.0 1387.5 1339.1 1388.5 1339.3 1389.5 1339.7 1390.5 1339.7 1391.5 1339.4 1392.5 1339.0 1393.5 1339.4 1394.5 1339.3 1395.5 1340.1 1396.5 1339.7 1397.5 1339.6 1398.5 1339.8 1399.5 1339.2 1400.5 1338.5 1401.5 1338.5 1402.5 1339.3 1403.5 1338.7 1404.5 1339.2 1405.5 1339.4 1406.5 1339.7 1407.5 1339.4 1408.5 1339.2 1409.5 1339.3 1410.5 1339.5 1411.5 1339.6 1412.5 1339.8 1413.5 1339.2 1414.5 1339.6 1415.5 1339.7 1416.5 1339.7 1417.5 1340.0 1418.5 1339.9 1419.5 1340.4 1420.5 1339.9 1421.5 1339.5 1422.5 1339.7 1423.5 1339.0 1424.5 1339.7 1425.5 1339.4 1426.5 1339.3 1427.5 1339.7 1428.5 1339.8 1429.5 1339.4 1430.5 1339.5 1431.5 1339.5 1432.5 1339.0 1433.5 1339.2 1434.5 1340.2 1435.5 1340.3 1436.5 1339.7 1437.5 1339.8 1438.5 1340.2 1439.5 1340.9 1440.5 1340.3 1441.5 1339.4 1442.5 1340.1 1443.5 1340.9 1444.5 1340.2 1445.5 1340.3 1446.5 1340.2 1447.5 1340.2 1448.5 1340.4 1449.5 1340.0 1450.5 1339.5 1451.5 1339.5 1452.5 1339.9 1453.5 1339.5 1454.5 1339.7 1455.5 1339.5 1456.5 1340.1 1457.5 1339.7 1458.5 1339.5 1459.5 1339.1 1460.5 1339.5 1461.5 1339.5 1462.5 1339.9 1463.5 1339.6 1464.5 1339.4 1465.5 1339.2 1466.5 1339.7 1467.5 1340.3 1468.5 1340.2 1469.5 1340.2 1470.5 1340.4 1471.5 1340.0 1472.5 1339.6 1473.5 1339.6 1474.5 1339.3 1475.5 1339.4 1476.5 1340.1 1477.5 1340.3 1478.5 1340.3 1479.5 1339.9 1480.5 1339.6 1481.5 1339.7 1482.5 1339.4 1483.5 1340.0 1484.5 1340.1 1485.5 1339.4 1486.5 1339.5 1487.5 1339.3 1488.5 1340.4 1489.5 1341.0 1490.5 1340.9 1491.5 1340.1 1492.5 1339.4 1493.5 1340.0 1494.5 1340.4 1495.5 1340.7 1496.5 1340.8 1497.5 1340.2 1498.5 1340.3 1499.5 1339.4 1500.5 1339.4 1501.5 1340.0 1502.5 1339.9 1503.5 1340.1 1504.5 1339.7 1505.5 1339.5 1506.5 1339.9 1507.5 1339.6 1508.5 1339.6 1509.5 1339.8 1510.5 1339.8 1511.5 1339.7 1512.5 1340.0 1513.5 1340.3 1514.5 1339.7 1515.5 1339.9 1516.5 1340.2 1517.5 1340.0 1518.5 1340.6 1519.5 1340.4 1520.5 1340.8 1521.5 1340.7 1522.5 1341.2 1523.5 1341.0 1524.5 1340.2 1525.5 1340.3 1526.5 1340.7 1527.5 1339.7 1528.5 1340.2 1529.5 1339.5 1530.5 1340.0 1531.5 1340.7 1532.5 1339.7 1533.5 1340.1 1534.5 1339.8 1535.5 1339.5 1536.5 1340.3 1537.5 1340.2 1538.5 1340.4 1539.5 1340.1 1540.5 1340.1 1541.5 1340.7 1542.5 1340.4 1543.5 1340.0 1544.5 1340.2 1545.5 1340.0 1546.5 1340.3 1547.5 1340.3 1548.5 1340.1 1549.5 1340.1 1550.5 1339.6 1551.5 1339.5 1552.5 1339.5 1553.5 1339.5 1554.5 1339.8 1555.5 1340.5 1556.5 1340.0 1557.5 1339.4 1558.5 1339.7 1559.5 1340.1 1560.5 1340.2 1561.5 1339.7 1562.5 1339.9 1563.5 1340.5 1564.5 1340.5 1565.5 1340.7 1566.5 1340.6 1567.5 1340.9 1568.5 1341.0 1569.5 1340.1" fill="none" stroke="#8e9ecb" stroke-width="1.30" stroke-linejoin="round"/>
<path d="M116.5 1341.3 117.5 1342.0 118.5 1341.9 119.5 1342.0 120.5 1341.7 121.5 1338.5 122.5 1337.2 123.5 1336.9 124.5 1336.4 125.5 1335.7 126.5 1335.5 127.5 1334.8 128.5 1334.6 129.5 1334.6 130.5 1334.6 131.5 1334.9 132.5 1335.3 133.5 1334.7 134.5 1334.4 135.5 1333.9 136.5 1333.6 137.5 1334.0 138.5 1333.5 139.5 1332.5 140.5 1329.1 141.5 1325.5 142.5 1320.2 143.5 1314.4 144.5 1308.1 145.5 1301.8 146.5 1297.2 147.5 1295.4 148.5 1299.3 149.5 1303.6 150.5 1310.9 151.5 1317.7 152.5 1323.5 153.5 1327.9 154.5 1330.3 155.5 1331.5 156.5 1332.3 157.5 1333.1 158.5 1332.7 159.5 1332.3 160.5 1331.5 161.5 1331.1 162.5 1331.7 163.5 1331.3 164.5 1330.6 165.5 1329.1 166.5 1328.6 167.5 1327.5 168.5 1327.0 169.5 1327.5 170.5 1326.8 171.5 1325.9 172.5 1325.2 173.5 1325.5 174.5 1322.9 175.5 1319.2 176.5 1312.8 177.5 1298.0 178.5 1274.0 179.5 1233.4 180.5 1170.5 181.5 1086.0 182.5 984.0 183.5 870.2 184.5 755.7 185.5 661.1 186.5 601.9 187.5 589.2 188.5 621.3 189.5 700.0 190.5 806.5 191.5 920.9 192.5 1030.0 193.5 1124.1 194.5 1194.7 195.5 1245.7 196.5 1278.3 197.5 1297.5 198.5 1308.8 199.5 1313.8 200.5 1314.4 201.5 1316.9 202.5 1317.1 203.5 1316.9 204.5 1317.5 205.5 1317.2 206.5 1317.8 207.5 1316.5 208.5 1314.2 209.5 1310.2 210.5 1305.4 211.5 1300.5 212.5 1294.2 213.5 1283.5 214.5 1274.0 215.5 1268.0 216.5 1261.0 217.5 1257.3 218.5 1256.7 219.5 1260.7 220.5 1266.2 221.5 1274.3 222.5 1283.3 223.5 1291.3 224.5 1299.8 225.5 1308.0 226.5 1314.3 227.5 1317.7 228.5 1318.9 229.5 1320.0 230.5 1321.8 231.5 1321.7 232.5 1322.2 233.5 1323.2 234.5 1323.1 235.5 1323.0 236.5 1323.9 237.5 1324.0 238.5 1323.6 239.5 1322.7 240.5 1323.7 241.5 1323.4 242.5 1323.4 243.5 1323.4 244.5 1324.1 245.5 1322.6 246.5 1321.7 247.5 1320.9 248.5 1321.0 249.5 1320.3 250.5 1320.4 251.5 1319.9 252.5 1320.5 253.5 1320.2 254.5 1320.3 255.5 1320.7 256.5 1320.3 257.5 1320.5 258.5 1320.4 259.5 1319.7 260.5 1319.4 261.5 1317.1 262.5 1316.0 263.5 1315.8 264.5 1315.8 265.5 1317.1 266.5 1316.9 267.5 1318.0 268.5 1317.9 269.5 1317.5 270.5 1317.1 271.5 1315.7 272.5 1315.9 273.5 1313.3 274.5 1313.9 275.5 1312.9 276.5 1314.0 277.5 1312.4 278.5 1312.9 279.5 1311.9 280.5 1311.2 281.5 1310.0 282.5 1309.3 283.5 1309.0 284.5 1309.1 285.5 1307.4 286.5 1308.4 287.5 1308.4 288.5 1308.7 289.5 1308.2 290.5 1308.4 291.5 1307.4 292.5 1304.9 293.5 1302.3 294.5 1296.7 295.5 1289.1 296.5 1274.9 297.5 1256.7 298.5 1228.5 299.5 1192.5 300.5 1146.2 301.5 1087.5 302.5 1019.1 303.5 943.7 304.5 866.6 305.5 793.7 306.5 733.0 307.5 685.9 308.5 661.7 309.5 661.2 310.5 684.5 311.5 732.1 312.5 794.0 313.5 866.0 314.5 944.6 315.5 1021.4 316.5 1089.2 317.5 1148.2 318.5 1195.5 319.5 1231.9 320.5 1261.6 321.5 1280.1 322.5 1294.4 323.5 1302.5 324.5 1306.4 325.5 1310.2 326.5 1311.9 327.5 1312.6 328.5 1312.2 329.5 1311.9 330.5 1311.4 331.5 1311.6 332.5 1311.4 333.5 1309.6 334.5 1308.7 335.5 1306.6 336.5 1302.3 337.5 1298.6 338.5 1293.7 339.5 1285.5 340.5 1278.1 341.5 1272.1 342.5 1263.3 343.5 1252.3 344.5 1242.6 345.5 1238.7 346.5 1235.1 347.5 1234.0 348.5 1235.9 349.5 1242.1 350.5 1246.5 351.5 1253.9 352.5 1262.6 353.5 1272.7 354.5 1280.7 355.5 1287.5 356.5 1293.6 357.5 1298.2 358.5 1302.5 359.5 1304.4 360.5 1306.3 361.5 1309.1 362.5 1310.3 363.5 1310.1 364.5 1310.8 365.5 1309.5 366.5 1310.3 367.5 1309.9 368.5 1309.2 369.5 1309.9 370.5 1307.8 371.5 1306.9 372.5 1305.2 373.5 1301.9 374.5 1297.1 375.5 1288.6 376.5 1272.5 377.5 1253.3 378.5 1226.6 379.5 1190.3 380.5 1143.2 381.5 1086.4 382.5 1017.2 383.5 937.4 384.5 849.5 385.5 759.1 386.5 668.8 387.5 588.3 388.5 520.7 389.5 472.8 390.5 446.0 391.5 444.1 392.5 469.2 393.5 517.7 394.5 586.4 395.5 668.5 396.5 758.4 397.5 849.9 398.5 937.1 399.5 1018.1 400.5 1088.7 401.5 1147.9 402.5 1197.4 403.5 1233.9 404.5 1262.6 405.5 1284.7 406.5 1299.1 407.5 1308.3 408.5 1315.6 409.5 1317.3 410.5 1320.3 411.5 1321.5 412.5 1323.7 413.5 1324.1 414.5 1324.2 415.5 1325.0 416.5 1324.8 417.5 1324.8 418.5 1324.6 419.5 1325.5 420.5 1324.7 421.5 1324.8 422.5 1325.0 423.5 1326.0 424.5 1324.9 425.5 1324.3 426.5 1321.9 427.5 1322.8 428.5 1321.3 429.5 1320.5 430.5 1320.5 431.5 1320.6 432.5 1320.4 433.5 1321.8 434.5 1320.6 435.5 1321.3 436.5 1322.2 437.5 1322.3 438.5 1324.5 439.5 1324.9 440.5 1325.3 441.5 1325.9 442.5 1324.9 443.5 1323.8 444.5 1324.3 445.5 1325.0 446.5 1324.9 447.5 1325.5 448.5 1325.4 449.5 1325.2 450.5 1325.6 451.5 1325.9 452.5 1325.8 453.5 1325.7 454.5 1325.3 455.5 1326.5 456.5 1326.9 457.5 1326.8 458.5 1326.0 459.5 1326.8 460.5 1325.6 461.5 1324.8 462.5 1325.8 463.5 1325.2 464.5 1326.9 465.5 1326.6 466.5 1327.5 467.5 1326.2 468.5 1325.6 469.5 1325.5 470.5 1326.2 471.5 1327.0 472.5 1326.4 473.5 1326.7 474.5 1326.1 475.5 1327.3 476.5 1326.6 477.5 1326.2 478.5 1327.8 479.5 1328.1 480.5 1327.8 481.5 1327.7 482.5 1328.3 483.5 1327.5 484.5 1327.9 485.5 1327.4 486.5 1328.3 487.5 1328.3 488.5 1327.2 489.5 1328.1 490.5 1327.5 491.5 1326.3 492.5 1326.0 493.5 1327.2 494.5 1325.6 495.5 1326.6 496.5 1326.1 497.5 1325.9 498.5 1326.6 499.5 1326.3 500.5 1328.4 501.5 1327.7 502.5 1327.3 503.5 1327.4 504.5 1327.2 505.5 1326.4 506.5 1326.1 507.5 1326.9 508.5 1326.5 509.5 1326.0 510.5 1326.4 511.5 1326.5 512.5 1328.3 513.5 1328.8 514.5 1327.8 515.5 1328.4 516.5 1327.3 517.5 1326.4 518.5 1327.4 519.5 1328.0 520.5 1327.7 521.5 1327.3 522.5 1326.7 523.5 1327.1 524.5 1327.1 525.5 1327.8 526.5 1327.4 527.5 1327.8 528.5 1326.9 529.5 1326.7 530.5 1328.0 531.5 1327.5 532.5 1328.2 533.5 1327.2 534.5 1328.0 535.5 1327.0 536.5 1326.6 537.5 1325.8 538.5 1326.4 539.5 1326.9 540.5 1326.5 541.5 1327.8 542.5 1327.8 543.5 1328.0 544.5 1328.0 545.5 1329.0 546.5 1329.6 547.5 1329.9 548.5 1328.1 549.5 1328.3 550.5 1327.8 551.5 1328.1 552.5 1328.3 553.5 1327.4 554.5 1329.3 555.5 1329.0 556.5 1329.2 557.5 1329.4 558.5 1330.0 559.5 1330.3 560.5 1330.3 561.5 1328.8 562.5 1329.2 563.5 1329.2 564.5 1329.1 565.5 1328.5 566.5 1328.0 567.5 1328.2 568.5 1328.5 569.5 1328.4 570.5 1329.1 571.5 1328.9 572.5 1327.9 573.5 1328.8 574.5 1329.5 575.5 1330.2 576.5 1329.7 577.5 1329.1 578.5 1329.4 579.5 1329.5 580.5 1328.7 581.5 1328.9 582.5 1328.6 583.5 1329.2 584.5 1328.4 585.5 1328.3 586.5 1328.9 587.5 1329.5 588.5 1327.9 589.5 1329.2 590.5 1329.9 591.5 1331.2 592.5 1330.0 593.5 1329.7 594.5 1329.6 595.5 1330.5 596.5 1330.0 597.5 1330.2 598.5 1330.6 599.5 1330.2 600.5 1329.7 601.5 1329.7 602.5 1329.9 603.5 1329.2 604.5 1329.2 605.5 1329.5 606.5 1329.2 607.5 1329.1 608.5 1328.8 609.5 1328.6 610.5 1328.6 611.5 1329.4 612.5 1328.7 613.5 1328.5 614.5 1329.3 615.5 1328.7 616.5 1329.1 617.5 1330.0 618.5 1329.9 619.5 1330.6 620.5 1329.6 621.5 1330.4 622.5 1329.3 623.5 1330.1 624.5 1330.1 625.5 1329.2 626.5 1329.3 627.5 1330.6 628.5 1330.4 629.5 1331.4 630.5 1330.4 631.5 1330.9 632.5 1330.6 633.5 1330.5 634.5 1331.3 635.5 1330.6 636.5 1329.4 637.5 1330.3 638.5 1330.7 639.5 1330.3 640.5 1329.6 641.5 1330.5 642.5 1330.4 643.5 1330.2 644.5 1329.7 645.5 1330.6 646.5 1329.1 647.5 1328.6 648.5 1330.3 649.5 1330.9 650.5 1330.6 651.5 1331.0 652.5 1331.2 653.5 1331.0 654.5 1331.3 655.5 1331.5 656.5 1331.1 657.5 1331.2 658.5 1330.8 659.5 1330.2 660.5 1329.9 661.5 1330.3 662.5 1329.4 663.5 1330.3 664.5 1330.1 665.5 1329.4 666.5 1330.0 667.5 1330.0 668.5 1330.8 669.5 1331.2 670.5 1331.0 671.5 1330.8 672.5 1330.7 673.5 1330.5 674.5 1330.6 675.5 1330.9 676.5 1331.3 677.5 1331.3 678.5 1331.2 679.5 1331.1 680.5 1331.8 681.5 1330.7 682.5 1330.2 683.5 1330.5 684.5 1331.0 685.5 1330.4 686.5 1330.8 687.5 1331.0 688.5 1330.6 689.5 1331.0 690.5 1330.8 691.5 1331.0 692.5 1330.3 693.5 1329.9 694.5 1329.4 695.5 1329.0 696.5 1328.5 697.5 1327.9 698.5 1326.9 699.5 1326.9 700.5 1326.5 701.5 1324.8 702.5 1323.1 703.5 1321.6 704.5 1318.8 705.5 1317.1 706.5 1314.8 707.5 1313.5 708.5 1313.3 709.5 1312.6 710.5 1309.8 711.5 1308.8 712.5 1308.5 713.5 1306.9 714.5 1305.9 715.5 1306.8 716.5 1307.1 717.5 1309.2 718.5 1311.6 719.5 1314.2 720.5 1314.4 721.5 1317.3 722.5 1318.9 723.5 1320.3 724.5 1321.4 725.5 1324.3 726.5 1325.4 727.5 1326.9 728.5 1326.7 729.5 1328.0 730.5 1329.3 731.5 1328.8 732.5 1329.6 733.5 1329.8 734.5 1330.3 735.5 1331.0 736.5 1330.9 737.5 1331.7 738.5 1332.5 739.5 1332.6 740.5 1331.9 741.5 1332.2 742.5 1331.5 743.5 1331.3 744.5 1331.5 745.5 1331.1 746.5 1331.2 747.5 1331.3 748.5 1331.7 749.5 1331.8 750.5 1331.8 751.5 1331.1 752.5 1330.4 753.5 1330.2 754.5 1330.5 755.5 1330.9 756.5 1330.8 757.5 1331.1 758.5 1330.9 759.5 1331.0 760.5 1330.8 761.5 1332.0 762.5 1331.3 763.5 1330.5 764.5 1331.1 765.5 1329.8 766.5 1330.1 767.5 1330.7 768.5 1330.0 769.5 1331.0 770.5 1329.5 771.5 1330.8 772.5 1330.6 773.5 1330.3 774.5 1330.7 775.5 1331.3 776.5 1332.1 777.5 1332.3 778.5 1332.3 779.5 1331.9 780.5 1333.5 781.5 1332.9 782.5 1333.5 783.5 1333.6 784.5 1333.4 785.5 1333.6 786.5 1333.1 787.5 1334.0 788.5 1333.4 789.5 1333.9 790.5 1333.8 791.5 1333.6 792.5 1334.2 793.5 1333.6 794.5 1332.3 795.5 1333.2 796.5 1333.8 797.5 1332.8 798.5 1332.2 799.5 1333.9 800.5 1333.9 801.5 1334.2 802.5 1333.8 803.5 1333.7 804.5 1334.2 805.5 1334.2 806.5 1333.3 807.5 1334.0 808.5 1333.7 809.5 1333.3 810.5 1332.6 811.5 1332.8 812.5 1333.1 813.5 1333.9 814.5 1333.7 815.5 1333.0 816.5 1333.1 817.5 1332.8 818.5 1333.5 819.5 1333.2 820.5 1333.6 821.5 1334.1 822.5 1334.3 823.5 1333.5 824.5 1333.3 825.5 1333.7 826.5 1333.9 827.5 1333.5 828.5 1333.9 829.5 1333.3 830.5 1333.4 831.5 1333.9 832.5 1334.0 833.5 1334.6 834.5 1334.9 835.5 1334.7 836.5 1334.6 837.5 1334.5 838.5 1334.7 839.5 1334.7 840.5 1334.2 841.5 1334.8 842.5 1335.8 843.5 1334.1 844.5 1334.0 845.5 1333.9 846.5 1333.3 847.5 1333.0 848.5 1332.7 849.5 1332.8 850.5 1332.9 851.5 1333.1 852.5 1333.6 853.5 1333.8 854.5 1335.8 855.5 1334.1 856.5 1334.2 857.5 1334.6 858.5 1333.8 859.5 1334.3 860.5 1334.0 861.5 1334.5 862.5 1334.9 863.5 1334.0 864.5 1334.0 865.5 1334.9 866.5 1334.2 867.5 1333.7 868.5 1334.1 869.5 1333.8 870.5 1333.3 871.5 1333.1 872.5 1333.3 873.5 1333.4 874.5 1332.9 875.5 1333.5 876.5 1334.0 877.5 1334.3 878.5 1332.7 879.5 1334.0 880.5 1334.2 881.5 1335.3 882.5 1335.0 883.5 1334.9 884.5 1334.8 885.5 1334.3 886.5 1333.6 887.5 1334.0 888.5 1334.7 889.5 1334.9 890.5 1334.8 891.5 1335.1 892.5 1335.0 893.5 1334.6 894.5 1334.6 895.5 1333.6 896.5 1335.0 897.5 1334.9 898.5 1334.3 899.5 1335.1 900.5 1335.9 901.5 1334.4 902.5 1334.1 903.5 1334.2 904.5 1333.9 905.5 1334.9 906.5 1335.5 907.5 1334.5 908.5 1334.7 909.5 1335.7 910.5 1335.4 911.5 1334.4 912.5 1335.3 913.5 1336.0 914.5 1336.8 915.5 1336.1 916.5 1335.7 917.5 1335.8 918.5 1335.8 919.5 1335.6 920.5 1335.7 921.5 1335.8 922.5 1335.0 923.5 1335.0 924.5 1334.8 925.5 1335.9 926.5 1336.1 927.5 1335.1 928.5 1335.1 929.5 1334.6 930.5 1335.6 931.5 1335.1 932.5 1335.4 933.5 1335.3 934.5 1335.6 935.5 1335.9 936.5 1336.1 937.5 1335.8 938.5 1334.9 939.5 1335.6 940.5 1335.7 941.5 1336.0 942.5 1336.1 943.5 1335.3 944.5 1335.5 945.5 1335.8 946.5 1335.2 947.5 1335.0 948.5 1334.9 949.5 1334.9 950.5 1335.4 951.5 1334.9 952.5 1335.3 953.5 1335.2 954.5 1335.1 955.5 1334.5 956.5 1334.9 957.5 1334.6 958.5 1335.8 959.5 1335.5 960.5 1335.2 961.5 1335.2 962.5 1336.2 963.5 1335.4 964.5 1335.6 965.5 1335.8 966.5 1334.7 967.5 1335.1 968.5 1334.7 969.5 1335.8 970.5 1335.2 971.5 1335.1 972.5 1335.0 973.5 1335.5 974.5 1335.2 975.5 1335.2 976.5 1334.4 977.5 1334.9 978.5 1335.7 979.5 1334.7 980.5 1335.2 981.5 1335.0 982.5 1334.3 983.5 1333.3 984.5 1333.2 985.5 1333.0 986.5 1333.0 987.5 1332.9 988.5 1332.9 989.5 1332.5 990.5 1332.8 991.5 1332.2 992.5 1331.2 993.5 1331.1 994.5 1331.1 995.5 1330.5 996.5 1331.0 997.5 1330.9 998.5 1329.3 999.5 1329.3 1000.5 1329.4 1001.5 1330.0 1002.5 1330.7 1003.5 1331.5 1004.5 1331.3 1005.5 1330.6 1006.5 1331.2 1007.5 1331.1 1008.5 1331.9 1009.5 1332.2 1010.5 1332.4 1011.5 1331.2 1012.5 1332.2 1013.5 1333.5 1014.5 1333.3 1015.5 1333.8 1016.5 1333.9 1017.5 1334.6 1018.5 1334.3 1019.5 1335.0 1020.5 1334.8 1021.5 1335.2 1022.5 1335.6 1023.5 1335.2 1024.5 1335.1 1025.5 1336.2 1026.5 1335.5 1027.5 1335.1 1028.5 1335.2 1029.5 1335.1 1030.5 1335.2 1031.5 1335.2 1032.5 1335.5 1033.5 1335.0 1034.5 1334.6 1035.5 1335.4 1036.5 1335.5 1037.5 1336.0 1038.5 1336.0 1039.5 1335.3 1040.5 1335.4 1041.5 1335.4 1042.5 1335.6 1043.5 1334.4 1044.5 1334.3 1045.5 1334.7 1046.5 1335.0 1047.5 1334.4 1048.5 1334.3 1049.5 1334.7 1050.5 1335.2 1051.5 1335.9 1052.5 1335.0 1053.5 1334.4 1054.5 1333.6 1055.5 1334.3 1056.5 1334.3 1057.5 1335.7 1058.5 1335.2 1059.5 1335.5 1060.5 1335.8 1061.5 1335.8 1062.5 1335.9 1063.5 1335.7 1064.5 1335.0 1065.5 1335.2 1066.5 1335.1 1067.5 1334.9 1068.5 1333.6 1069.5 1333.5 1070.5 1334.2 1071.5 1333.8 1072.5 1333.1 1073.5 1333.7 1074.5 1333.5 1075.5 1333.3 1076.5 1334.4 1077.5 1334.3 1078.5 1334.4 1079.5 1334.0 1080.5 1333.5 1081.5 1334.2 1082.5 1335.2 1083.5 1335.3 1084.5 1335.1 1085.5 1335.3 1086.5 1335.1 1087.5 1335.7 1088.5 1335.2 1089.5 1334.8 1090.5 1334.0 1091.5 1334.7 1092.5 1334.5 1093.5 1335.3 1094.5 1335.8 1095.5 1336.1 1096.5 1335.9 1097.5 1336.4 1098.5 1337.0 1099.5 1335.3 1100.5 1335.6 1101.5 1335.6 1102.5 1335.6 1103.5 1335.9 1104.5 1335.9 1105.5 1335.3 1106.5 1335.3 1107.5 1335.0 1108.5 1335.9 1109.5 1335.6 1110.5 1336.2 1111.5 1336.6 1112.5 1335.9 1113.5 1335.7 1114.5 1335.4 1115.5 1335.3 1116.5 1336.5 1117.5 1336.0 1118.5 1335.0 1119.5 1335.3 1120.5 1335.1 1121.5 1334.7 1122.5 1334.4 1123.5 1336.3 1124.5 1336.3 1125.5 1336.2 1126.5 1336.2 1127.5 1335.5 1128.5 1336.2 1129.5 1337.2 1130.5 1336.3 1131.5 1336.0 1132.5 1335.1 1133.5 1334.4 1134.5 1334.2 1135.5 1333.4 1136.5 1334.0 1137.5 1333.3 1138.5 1333.1 1139.5 1330.6 1140.5 1329.7 1141.5 1327.6 1142.5 1325.7 1143.5 1323.2 1144.5 1320.2 1145.5 1316.7 1146.5 1313.1 1147.5 1309.6 1148.5 1304.7 1149.5 1301.7 1150.5 1296.5 1151.5 1288.6 1152.5 1282.0 1153.5 1277.1 1154.5 1271.1 1155.5 1264.6 1156.5 1257.2 1157.5 1249.1 1158.5 1242.9 1159.5 1236.4 1160.5 1232.8 1161.5 1228.2 1162.5 1224.3 1163.5 1221.4 1164.5 1219.5 1165.5 1219.4 1166.5 1219.7 1167.5 1220.9 1168.5 1224.2 1169.5 1229.8 1170.5 1235.0 1171.5 1240.9 1172.5 1244.9 1173.5 1250.9 1174.5 1258.1 1175.5 1265.9 1176.5 1273.3 1177.5 1278.4 1178.5 1285.6 1179.5 1292.6 1180.5 1298.9 1181.5 1303.4 1182.5 1309.8 1183.5 1314.0 1184.5 1317.0 1185.5 1319.9 1186.5 1322.7 1187.5 1325.8 1188.5 1327.6 1189.5 1328.7 1190.5 1331.3 1191.5 1333.1 1192.5 1334.1 1193.5 1334.7 1194.5 1335.6 1195.5 1336.3 1196.5 1337.5 1197.5 1336.8 1198.5 1337.4 1199.5 1337.3 1200.5 1337.5 1201.5 1337.1 1202.5 1337.8 1203.5 1338.1 1204.5 1337.8 1205.5 1337.6 1206.5 1337.8 1207.5 1337.5 1208.5 1337.7 1209.5 1337.8 1210.5 1338.2 1211.5 1337.9 1212.5 1337.3 1213.5 1337.5 1214.5 1337.6 1215.5 1337.1 1216.5 1337.5 1217.5 1337.9 1218.5 1337.7 1219.5 1336.9 1220.5 1337.4 1221.5 1337.6 1222.5 1337.5 1223.5 1337.8 1224.5 1337.9 1225.5 1337.2 1226.5 1338.2 1227.5 1337.8 1228.5 1337.3 1229.5 1336.9 1230.5 1337.2 1231.5 1337.2 1232.5 1337.7 1233.5 1338.5 1234.5 1338.0 1235.5 1337.8 1236.5 1337.6 1237.5 1337.0 1238.5 1336.1 1239.5 1336.5 1240.5 1336.2 1241.5 1336.7 1242.5 1336.9 1243.5 1337.5 1244.5 1337.3 1245.5 1337.5 1246.5 1337.1 1247.5 1337.6 1248.5 1336.6 1249.5 1337.2 1250.5 1336.4 1251.5 1337.0 1252.5 1336.2 1253.5 1335.4 1254.5 1334.4 1255.5 1333.2 1256.5 1333.7 1257.5 1333.1 1258.5 1332.5 1259.5 1331.6 1260.5 1330.1 1261.5 1330.0 1262.5 1329.8 1263.5 1329.1 1264.5 1327.4 1265.5 1327.2 1266.5 1327.4 1267.5 1326.4 1268.5 1324.6 1269.5 1323.2 1270.5 1323.7 1271.5 1324.0 1272.5 1323.1 1273.5 1322.6 1274.5 1323.1 1275.5 1323.4 1276.5 1323.4 1277.5 1325.1 1278.5 1324.5 1279.5 1326.0 1280.5 1327.7 1281.5 1327.1 1282.5 1327.9 1283.5 1328.2 1284.5 1330.2 1285.5 1330.6 1286.5 1331.1 1287.5 1331.8 1288.5 1332.6 1289.5 1333.4 1290.5 1334.1 1291.5 1335.3 1292.5 1334.5 1293.5 1335.6 1294.5 1336.7 1295.5 1336.7 1296.5 1337.0 1297.5 1337.6 1298.5 1336.1 1299.5 1336.7 1300.5 1338.1 1301.5 1338.3 1302.5 1338.4 1303.5 1338.3 1304.5 1338.0 1305.5 1337.9 1306.5 1337.2 1307.5 1337.9 1308.5 1338.2 1309.5 1337.8 1310.5 1337.5 1311.5 1338.0 1312.5 1338.4 1313.5 1337.9 1314.5 1337.8 1315.5 1337.5 1316.5 1337.4 1317.5 1337.5 1318.5 1337.8 1319.5 1337.9 1320.5 1338.0 1321.5 1338.7 1322.5 1338.2 1323.5 1337.7 1324.5 1337.5 1325.5 1338.0 1326.5 1338.0 1327.5 1337.4 1328.5 1337.1 1329.5 1337.8 1330.5 1338.4 1331.5 1337.9 1332.5 1338.5 1333.5 1337.1 1334.5 1337.3 1335.5 1337.1 1336.5 1338.1 1337.5 1337.7 1338.5 1337.5 1339.5 1338.2 1340.5 1337.0 1341.5 1337.2 1342.5 1337.1 1343.5 1337.5 1344.5 1337.4 1345.5 1337.2 1346.5 1337.3 1347.5 1337.3 1348.5 1338.3 1349.5 1338.1 1350.5 1338.7 1351.5 1338.3 1352.5 1338.5 1353.5 1339.2 1354.5 1338.0 1355.5 1338.3 1356.5 1338.5 1357.5 1338.4 1358.5 1338.5 1359.5 1338.2 1360.5 1337.6 1361.5 1338.2 1362.5 1338.1 1363.5 1338.0 1364.5 1338.9 1365.5 1338.4 1366.5 1338.1 1367.5 1338.4 1368.5 1338.7 1369.5 1339.1 1370.5 1338.5 1371.5 1338.9 1372.5 1338.7 1373.5 1339.3 1374.5 1339.2 1375.5 1339.7 1376.5 1339.7 1377.5 1338.9 1378.5 1339.4 1379.5 1339.6 1380.5 1339.6 1381.5 1339.5 1382.5 1339.7 1383.5 1339.2 1384.5 1339.3 1385.5 1338.8 1386.5 1338.6 1387.5 1338.6 1388.5 1338.6 1389.5 1338.5 1390.5 1339.5 1391.5 1338.3 1392.5 1339.4 1393.5 1338.5 1394.5 1339.1 1395.5 1340.0 1396.5 1340.1 1397.5 1340.5 1398.5 1339.7 1399.5 1339.5 1400.5 1338.1 1401.5 1338.4 1402.5 1339.0 1403.5 1338.4 1404.5 1337.3 1405.5 1338.4 1406.5 1339.1 1407.5 1339.1 1408.5 1339.6 1409.5 1339.7 1410.5 1338.7 1411.5 1338.4 1412.5 1338.2 1413.5 1338.5 1414.5 1338.2 1415.5 1339.4 1416.5 1338.6 1417.5 1339.5 1418.5 1339.7 1419.5 1339.3 1420.5 1339.7 1421.5 1339.3 1422.5 1339.1 1423.5 1338.7 1424.5 1338.9 1425.5 1339.0 1426.5 1339.2 1427.5 1339.2 1428.5 1339.3 1429.5 1339.3 1430.5 1339.0 1431.5 1338.6 1432.5 1338.8 1433.5 1340.3 1434.5 1339.7 1435.5 1340.3 1436.5 1340.3 1437.5 1339.6 1438.5 1340.5 1439.5 1340.3 1440.5 1339.8 1441.5 1339.6 1442.5 1339.7 1443.5 1340.1 1444.5 1338.9 1445.5 1339.7 1446.5 1339.9 1447.5 1339.3 1448.5 1339.3 1449.5 1339.0 1450.5 1338.6 1451.5 1339.4 1452.5 1339.2 1453.5 1339.6 1454.5 1339.4 1455.5 1339.5 1456.5 1339.8 1457.5 1339.6 1458.5 1339.9 1459.5 1338.4 1460.5 1337.7 1461.5 1338.4 1462.5 1339.5 1463.5 1340.7 1464.5 1340.9 1465.5 1339.7 1466.5 1340.1 1467.5 1340.0 1468.5 1339.9 1469.5 1339.9 1470.5 1339.9 1471.5 1339.9 1472.5 1339.0 1473.5 1339.0 1474.5 1338.2 1475.5 1338.6 1476.5 1338.8 1477.5 1338.1 1478.5 1339.0 1479.5 1338.5 1480.5 1339.3 1481.5 1338.8 1482.5 1338.9 1483.5 1338.9 1484.5 1339.3 1485.5 1338.1 1486.5 1338.4 1487.5 1339.1 1488.5 1338.3 1489.5 1339.1 1490.5 1338.9 1491.5 1338.7 1492.5 1338.9 1493.5 1338.8 1494.5 1339.2 1495.5 1339.0 1496.5 1339.5 1497.5 1339.7 1498.5 1339.7 1499.5 1339.4 1500.5 1339.5 1501.5 1338.7 1502.5 1339.3 1503.5 1338.3 1504.5 1338.7 1505.5 1339.0 1506.5 1339.2 1507.5 1338.8 1508.5 1339.3 1509.5 1339.0 1510.5 1339.2 1511.5 1340.0 1512.5 1339.7 1513.5 1338.7 1514.5 1339.4 1515.5 1339.0 1516.5 1339.7 1517.5 1339.0 1518.5 1339.7 1519.5 1339.9 1520.5 1339.6 1521.5 1339.4 1522.5 1339.5 1523.5 1338.7 1524.5 1338.7 1525.5 1339.3 1526.5 1339.1 1527.5 1339.2 1528.5 1339.1 1529.5 1339.4 1530.5 1339.6 1531.5 1339.5 1532.5 1339.9 1533.5 1339.8 1534.5 1338.4 1535.5 1339.1 1536.5 1340.1 1537.5 1339.9 1538.5 1340.0 1539.5 1340.3 1540.5 1340.0 1541.5 1339.9 1542.5 1339.4 1543.5 1338.8 1544.5 1339.8 1545.5 1339.8 1546.5 1340.4 1547.5 1340.6 1548.5 1340.2 1549.5 1339.7 1550.5 1339.9 1551.5 1338.9 1552.5 1340.0 1553.5 1339.9 1554.5 1339.7 1555.5 1340.1 1556.5 1340.0 1557.5 1340.6 1558.5 1340.7 1559.5 1340.3 1560.5 1340.5 1561.5 1340.1 1562.5 1339.8 1563.5 1339.2 1564.5 1339.2 1565.5 1339.7 1566.5 1340.1 1567.5 1339.7 1568.5 1340.0 1569.5 1338.9" fill="none" stroke="#9ab464" stroke-width="1.35" stroke-linejoin="round"/>
<path d="M116.5 1342.4 117.5 1342.5 118.5 1342.7 119.5 1342.7 120.5 1341.9 121.5 1339.3 122.5 1338.2 123.5 1338.2 124.5 1337.9 125.5 1337.5 126.5 1337.3 127.5 1337.4 128.5 1336.8 129.5 1335.7 130.5 1335.6 131.5 1335.9 132.5 1334.1 133.5 1334.8 134.5 1334.6 135.5 1334.9 136.5 1334.4 137.5 1334.1 138.5 1334.2 139.5 1332.3 140.5 1330.1 141.5 1327.8 142.5 1323.6 143.5 1318.2 144.5 1310.4 145.5 1304.7 146.5 1301.0 147.5 1299.5 148.5 1301.1 149.5 1306.8 150.5 1313.2 151.5 1320.0 152.5 1325.7 153.5 1329.9 154.5 1332.8 155.5 1334.0 156.5 1334.3 157.5 1335.5 158.5 1335.1 159.5 1335.1 160.5 1334.9 161.5 1335.2 162.5 1335.6 163.5 1334.4 164.5 1333.8 165.5 1333.3 166.5 1332.6 167.5 1332.6 168.5 1331.5 169.5 1330.2 170.5 1329.5 171.5 1329.5 172.5 1329.5 173.5 1329.1 174.5 1328.1 175.5 1325.7 176.5 1320.9 177.5 1312.0 178.5 1292.1 179.5 1266.7 180.5 1228.8 181.5 1177.0 182.5 1113.2 183.5 1040.2 184.5 968.9 185.5 907.6 186.5 869.3 187.5 859.6 188.5 880.9 189.5 928.7 190.5 996.0 191.5 1070.7 192.5 1142.8 193.5 1201.8 194.5 1246.4 195.5 1278.7 196.5 1299.9 197.5 1312.2 198.5 1318.9 199.5 1322.9 200.5 1324.2 201.5 1324.1 202.5 1324.2 203.5 1324.3 204.5 1323.8 205.5 1324.8 206.5 1323.1 207.5 1323.1 208.5 1321.9 209.5 1318.5 210.5 1314.9 211.5 1310.3 212.5 1303.5 213.5 1297.7 214.5 1289.1 215.5 1279.7 216.5 1275.2 217.5 1272.4 218.5 1272.4 219.5 1273.9 220.5 1278.3 221.5 1286.1 222.5 1295.4 223.5 1302.9 224.5 1310.1 225.5 1317.1 226.5 1319.7 227.5 1323.7 228.5 1325.0 229.5 1328.1 230.5 1328.3 231.5 1329.5 232.5 1329.0 233.5 1329.2 234.5 1330.8 235.5 1331.3 236.5 1331.1 237.5 1331.2 238.5 1329.9 239.5 1329.5 240.5 1329.4 241.5 1329.6 242.5 1328.8 243.5 1329.0 244.5 1328.5 245.5 1329.3 246.5 1328.4 247.5 1328.2 248.5 1328.0 249.5 1327.3 250.5 1328.4 251.5 1329.5 252.5 1328.4 253.5 1327.5 254.5 1327.4 255.5 1326.8 256.5 1325.7 257.5 1326.2 258.5 1325.4 259.5 1325.0 260.5 1323.8 261.5 1323.4 262.5 1324.1 263.5 1324.4 264.5 1324.5 265.5 1325.2 266.5 1325.6 267.5 1326.1 268.5 1324.5 269.5 1323.9 270.5 1323.4 271.5 1323.5 272.5 1323.3 273.5 1322.0 274.5 1320.9 275.5 1320.8 276.5 1320.5 277.5 1322.3 278.5 1321.0 279.5 1321.5 280.5 1321.6 281.5 1320.4 282.5 1321.2 283.5 1321.7 284.5 1319.9 285.5 1318.7 286.5 1319.2 287.5 1318.7 288.5 1317.8 289.5 1316.8 290.5 1317.9 291.5 1317.7 292.5 1316.2 293.5 1313.0 294.5 1309.6 295.5 1303.8 296.5 1294.6 297.5 1281.2 298.5 1263.0 299.5 1240.0 300.5 1207.8 301.5 1168.6 302.5 1122.7 303.5 1071.6 304.5 1019.7 305.5 969.4 306.5 926.3 307.5 892.3 308.5 877.0 309.5 877.1 310.5 894.3 311.5 925.2 312.5 967.6 313.5 1018.6 314.5 1070.2 315.5 1122.7 316.5 1169.7 317.5 1209.6 318.5 1241.6 319.5 1266.2 320.5 1283.9 321.5 1297.9 322.5 1305.8 323.5 1310.2 324.5 1312.8 325.5 1315.8 326.5 1317.9 327.5 1318.5 328.5 1317.6 329.5 1317.4 330.5 1318.5 331.5 1317.3 332.5 1317.0 333.5 1315.6 334.5 1313.9 335.5 1312.4 336.5 1309.4 337.5 1304.7 338.5 1299.1 339.5 1294.6 340.5 1288.0 341.5 1280.7 342.5 1274.0 343.5 1266.9 344.5 1260.5 345.5 1255.2 346.5 1251.0 347.5 1252.2 348.5 1252.2 349.5 1256.8 350.5 1260.8 351.5 1267.1 352.5 1274.2 353.5 1281.8 354.5 1290.4 355.5 1295.8 356.5 1300.8 357.5 1304.1 358.5 1308.6 359.5 1311.8 360.5 1312.2 361.5 1312.4 362.5 1313.3 363.5 1314.0 364.5 1314.8 365.5 1314.5 366.5 1315.4 367.5 1314.9 368.5 1314.9 369.5 1315.7 370.5 1314.2 371.5 1314.2 372.5 1311.5 373.5 1306.7 374.5 1301.6 375.5 1296.0 376.5 1286.1 377.5 1267.8 378.5 1246.5 379.5 1214.3 380.5 1176.0 381.5 1128.3 382.5 1069.1 383.5 1004.6 384.5 934.6 385.5 858.8 386.5 782.4 387.5 715.7 388.5 658.2 389.5 618.5 390.5 594.8 391.5 593.1 392.5 612.9 393.5 653.8 394.5 710.0 395.5 777.4 396.5 852.5 397.5 930.1 398.5 1004.8 399.5 1072.4 400.5 1130.2 401.5 1180.4 402.5 1220.0 403.5 1250.3 404.5 1275.5 405.5 1292.1 406.5 1304.4 407.5 1312.1 408.5 1316.6 409.5 1319.6 410.5 1321.8 411.5 1323.0 412.5 1325.4 413.5 1326.1 414.5 1325.7 415.5 1325.3 416.5 1325.3 417.5 1325.3 418.5 1324.6 419.5 1325.4 420.5 1323.9 421.5 1323.9 422.5 1325.0 423.5 1324.3 424.5 1324.4 425.5 1324.8 426.5 1324.6 427.5 1323.6 428.5 1324.9 429.5 1325.1 430.5 1323.1 431.5 1321.4 432.5 1322.7 433.5 1323.1 434.5 1322.1 435.5 1322.1 436.5 1321.6 437.5 1322.1 438.5 1323.3 439.5 1322.7 440.5 1323.8 441.5 1325.2 442.5 1325.7 443.5 1325.0 444.5 1326.2 445.5 1326.1 446.5 1325.7 447.5 1326.1 448.5 1327.0 449.5 1326.0 450.5 1326.8 451.5 1326.6 452.5 1327.0 453.5 1326.7 454.5 1326.2 455.5 1325.5 456.5 1326.8 457.5 1326.7 458.5 1327.2 459.5 1327.0 460.5 1326.9 461.5 1326.9 462.5 1327.4 463.5 1327.6 464.5 1327.6 465.5 1327.9 466.5 1327.3 467.5 1328.7 468.5 1328.7 469.5 1327.4 470.5 1326.9 471.5 1326.4 472.5 1326.9 473.5 1326.5 474.5 1326.3 475.5 1328.0 476.5 1328.6 477.5 1327.6 478.5 1328.2 479.5 1328.1 480.5 1327.7 481.5 1327.5 482.5 1327.2 483.5 1326.9 484.5 1327.3 485.5 1327.1 486.5 1327.5 487.5 1327.1 488.5 1327.3 489.5 1328.7 490.5 1328.1 491.5 1328.8 492.5 1327.2 493.5 1327.2 494.5 1327.4 495.5 1328.0 496.5 1327.9 497.5 1327.2 498.5 1327.1 499.5 1325.5 500.5 1327.2 501.5 1328.2 502.5 1328.1 503.5 1327.4 504.5 1328.7 505.5 1328.8 506.5 1328.8 507.5 1327.9 508.5 1328.4 509.5 1327.6 510.5 1328.0 511.5 1327.6 512.5 1329.1 513.5 1329.2 514.5 1327.2 515.5 1328.1 516.5 1329.0 517.5 1327.4 518.5 1327.4 519.5 1327.3 520.5 1327.5 521.5 1326.9 522.5 1327.5 523.5 1327.3 524.5 1327.0 525.5 1326.9 526.5 1327.9 527.5 1328.6 528.5 1329.4 529.5 1329.7 530.5 1328.7 531.5 1328.6 532.5 1328.0 533.5 1328.8 534.5 1328.7 535.5 1328.9 536.5 1328.1 537.5 1328.4 538.5 1327.8 539.5 1327.7 540.5 1328.5 541.5 1327.7 542.5 1328.9 543.5 1329.6 544.5 1328.4 545.5 1329.3 546.5 1329.6 547.5 1328.7 548.5 1329.7 549.5 1329.3 550.5 1329.7 551.5 1329.9 552.5 1329.8 553.5 1328.8 554.5 1329.7 555.5 1328.7 556.5 1327.9 557.5 1328.7 558.5 1329.2 559.5 1328.8 560.5 1327.5 561.5 1328.5 562.5 1328.1 563.5 1329.7 564.5 1330.5 565.5 1330.3 566.5 1330.0 567.5 1329.7 568.5 1331.3 569.5 1330.9 570.5 1330.9 571.5 1329.6 572.5 1328.9 573.5 1328.6 574.5 1330.2 575.5 1328.8 576.5 1330.1 577.5 1330.0 578.5 1330.1 579.5 1329.4 580.5 1329.4 581.5 1330.2 582.5 1330.9 583.5 1331.3 584.5 1330.1 585.5 1329.6 586.5 1329.0 587.5 1329.9 588.5 1329.6 589.5 1330.5 590.5 1330.2 591.5 1330.3 592.5 1329.3 593.5 1328.9 594.5 1329.4 595.5 1330.1 596.5 1331.2 597.5 1330.2 598.5 1329.7 599.5 1330.0 600.5 1328.1 601.5 1329.0 602.5 1329.9 603.5 1329.3 604.5 1329.3 605.5 1329.0 606.5 1329.3 607.5 1329.1 608.5 1330.2 609.5 1331.0 610.5 1332.0 611.5 1330.3 612.5 1329.4 613.5 1329.2 614.5 1329.3 615.5 1329.7 616.5 1329.7 617.5 1329.3 618.5 1329.6 619.5 1328.7 620.5 1329.4 621.5 1329.8 622.5 1330.3 623.5 1329.8 624.5 1330.3 625.5 1330.6 626.5 1330.4 627.5 1331.0 628.5 1331.3 629.5 1331.3 630.5 1330.7 631.5 1330.8 632.5 1330.8 633.5 1331.8 634.5 1331.1 635.5 1331.0 636.5 1330.7 637.5 1330.2 638.5 1329.8 639.5 1331.0 640.5 1331.8 641.5 1331.2 642.5 1332.3 643.5 1331.8 644.5 1332.0 645.5 1331.5 646.5 1330.8 647.5 1330.1 648.5 1330.0 649.5 1330.1 650.5 1330.0 651.5 1330.1 652.5 1331.3 653.5 1332.2 654.5 1332.5 655.5 1332.5 656.5 1331.6 657.5 1331.0 658.5 1330.4 659.5 1330.7 660.5 1331.5 661.5 1330.9 662.5 1329.7 663.5 1330.1 664.5 1330.5 665.5 1331.3 666.5 1330.9 667.5 1331.8 668.5 1331.9 669.5 1332.5 670.5 1331.8 671.5 1331.8 672.5 1331.1 673.5 1332.0 674.5 1332.4 675.5 1333.8 676.5 1332.8 677.5 1332.3 678.5 1331.9 679.5 1330.9 680.5 1331.8 681.5 1332.1 682.5 1332.8 683.5 1332.5 684.5 1331.8 685.5 1331.4 686.5 1331.6 687.5 1330.8 688.5 1331.7 689.5 1331.7 690.5 1331.9 691.5 1330.8 692.5 1330.4 693.5 1330.0 694.5 1328.9 695.5 1329.1 696.5 1328.5 697.5 1327.3 698.5 1326.9 699.5 1325.2 700.5 1323.4 701.5 1323.3 702.5 1320.4 703.5 1318.6 704.5 1316.0 705.5 1314.5 706.5 1312.6 707.5 1309.9 708.5 1308.6 709.5 1304.7 710.5 1304.0 711.5 1302.4 712.5 1303.3 713.5 1301.3 714.5 1301.5 715.5 1302.1 716.5 1303.2 717.5 1304.8 718.5 1306.4 719.5 1307.4 720.5 1310.6 721.5 1312.5 722.5 1315.2 723.5 1317.9 724.5 1321.0 725.5 1323.0 726.5 1324.1 727.5 1326.8 728.5 1326.9 729.5 1327.5 730.5 1329.0 731.5 1330.1 732.5 1330.7 733.5 1330.8 734.5 1332.1 735.5 1331.0 736.5 1331.7 737.5 1331.8 738.5 1332.1 739.5 1332.2 740.5 1332.3 741.5 1332.7 742.5 1333.8 743.5 1333.9 744.5 1334.6 745.5 1333.5 746.5 1333.4 747.5 1333.0 748.5 1332.9 749.5 1332.6 750.5 1332.9 751.5 1332.9 752.5 1332.8 753.5 1332.6 754.5 1332.6 755.5 1331.1 756.5 1331.8 757.5 1332.3 758.5 1332.0 759.5 1331.1 760.5 1331.4 761.5 1331.1 762.5 1330.9 763.5 1331.3 764.5 1330.9 765.5 1330.8 766.5 1331.2 767.5 1330.8 768.5 1330.7 769.5 1331.8 770.5 1332.9 771.5 1333.0 772.5 1332.8 773.5 1332.2 774.5 1332.5 775.5 1333.3 776.5 1333.3 777.5 1333.1 778.5 1332.8 779.5 1333.7 780.5 1333.8 781.5 1332.5 782.5 1333.1 783.5 1333.0 784.5 1333.2 785.5 1333.6 786.5 1333.3 787.5 1333.3 788.5 1334.1 789.5 1334.0 790.5 1333.3 791.5 1334.5 792.5 1333.8 793.5 1334.1 794.5 1334.3 795.5 1334.1 796.5 1333.7 797.5 1333.3 798.5 1333.8 799.5 1333.6 800.5 1334.6 801.5 1334.3 802.5 1333.9 803.5 1334.2 804.5 1333.9 805.5 1334.2 806.5 1334.5 807.5 1334.3 808.5 1334.0 809.5 1334.4 810.5 1334.4 811.5 1334.2 812.5 1333.4 813.5 1334.6 814.5 1334.2 815.5 1333.4 816.5 1333.1 817.5 1332.6 818.5 1333.6 819.5 1334.1 820.5 1333.9 821.5 1333.1 822.5 1334.3 823.5 1334.8 824.5 1334.2 825.5 1333.1 826.5 1332.7 827.5 1333.8 828.5 1333.8 829.5 1334.2 830.5 1335.0 831.5 1334.2 832.5 1333.8 833.5 1334.7 834.5 1334.3 835.5 1334.4 836.5 1335.1 837.5 1334.3 838.5 1334.1 839.5 1335.2 840.5 1334.5 841.5 1334.8 842.5 1333.9 843.5 1334.6 844.5 1334.0 845.5 1334.6 846.5 1333.7 847.5 1333.4 848.5 1333.3 849.5 1333.5 850.5 1335.0 851.5 1334.8 852.5 1334.8 853.5 1335.9 854.5 1333.9 855.5 1334.0 856.5 1333.8 857.5 1334.5 858.5 1334.2 859.5 1333.7 860.5 1334.8 861.5 1334.7 862.5 1333.7 863.5 1334.3 864.5 1334.7 865.5 1334.7 866.5 1334.8 867.5 1335.5 868.5 1334.3 869.5 1334.5 870.5 1335.4 871.5 1334.7 872.5 1333.6 873.5 1334.5 874.5 1335.0 875.5 1335.0 876.5 1334.8 877.5 1334.5 878.5 1335.0 879.5 1333.7 880.5 1334.4 881.5 1334.8 882.5 1334.5 883.5 1334.1 884.5 1333.4 885.5 1334.5 886.5 1334.4 887.5 1335.3 888.5 1335.0 889.5 1334.4 890.5 1334.6 891.5 1335.2 892.5 1334.6 893.5 1334.3 894.5 1334.6 895.5 1334.4 896.5 1334.5 897.5 1334.5 898.5 1335.5 899.5 1335.9 900.5 1335.5 901.5 1335.5 902.5 1334.9 903.5 1335.2 904.5 1334.9 905.5 1334.9 906.5 1335.8 907.5 1335.4 908.5 1335.2 909.5 1334.9 910.5 1336.1 911.5 1335.8 912.5 1335.5 913.5 1335.5 914.5 1335.1 915.5 1335.6 916.5 1335.2 917.5 1335.7 918.5 1335.2 919.5 1334.3 920.5 1335.8 921.5 1335.2 922.5 1336.0 923.5 1335.5 924.5 1335.8 925.5 1336.0 926.5 1336.0 927.5 1334.9 928.5 1335.4 929.5 1335.7 930.5 1335.2 931.5 1335.1 932.5 1334.8 933.5 1334.6 934.5 1335.2 935.5 1335.7 936.5 1335.1 937.5 1334.4 938.5 1335.3 939.5 1335.9 940.5 1335.8 941.5 1335.7 942.5 1335.7 943.5 1334.5 944.5 1335.1 945.5 1335.1 946.5 1335.3 947.5 1334.7 948.5 1335.4 949.5 1336.0 950.5 1335.7 951.5 1335.4 952.5 1334.9 953.5 1334.5 954.5 1335.8 955.5 1335.2 956.5 1334.8 957.5 1336.0 958.5 1335.9 959.5 1336.2 960.5 1336.6 961.5 1335.9 962.5 1335.8 963.5 1335.1 964.5 1335.7 965.5 1335.5 966.5 1336.0 967.5 1336.0 968.5 1334.8 969.5 1335.3 970.5 1335.1 971.5 1334.3 972.5 1334.7 973.5 1334.7 974.5 1334.9 975.5 1334.3 976.5 1334.3 977.5 1335.0 978.5 1334.8 979.5 1336.7 980.5 1337.0 981.5 1336.4 982.5 1336.2 983.5 1335.6 984.5 1334.5 985.5 1333.9 986.5 1333.8 987.5 1331.8 988.5 1332.6 989.5 1333.1 990.5 1333.0 991.5 1333.2 992.5 1332.6 993.5 1331.9 994.5 1330.9 995.5 1330.4 996.5 1332.0 997.5 1332.0 998.5 1331.1 999.5 1330.7 1000.5 1330.0 1001.5 1330.6 1002.5 1329.2 1003.5 1328.9 1004.5 1330.4 1005.5 1330.3 1006.5 1330.6 1007.5 1330.6 1008.5 1330.5 1009.5 1332.2 1010.5 1332.6 1011.5 1334.2 1012.5 1333.0 1013.5 1334.1 1014.5 1334.1 1015.5 1334.2 1016.5 1334.8 1017.5 1334.6 1018.5 1335.6 1019.5 1335.5 1020.5 1335.2 1021.5 1334.5 1022.5 1335.0 1023.5 1335.3 1024.5 1335.7 1025.5 1336.2 1026.5 1336.2 1027.5 1336.9 1028.5 1336.6 1029.5 1336.6 1030.5 1336.4 1031.5 1336.1 1032.5 1335.3 1033.5 1335.6 1034.5 1335.3 1035.5 1335.7 1036.5 1335.9 1037.5 1335.5 1038.5 1335.6 1039.5 1336.1 1040.5 1336.0 1041.5 1336.2 1042.5 1335.0 1043.5 1335.7 1044.5 1336.5 1045.5 1335.8 1046.5 1336.1 1047.5 1335.8 1048.5 1336.1 1049.5 1336.5 1050.5 1336.9 1051.5 1336.2 1052.5 1336.4 1053.5 1336.5 1054.5 1336.2 1055.5 1335.0 1056.5 1334.2 1057.5 1334.6 1058.5 1335.5 1059.5 1334.8 1060.5 1334.9 1061.5 1335.3 1062.5 1335.1 1063.5 1335.0 1064.5 1335.5 1065.5 1335.3 1066.5 1334.4 1067.5 1334.7 1068.5 1334.7 1069.5 1335.6 1070.5 1334.2 1071.5 1333.5 1072.5 1332.9 1073.5 1333.8 1074.5 1334.7 1075.5 1335.0 1076.5 1334.9 1077.5 1335.3 1078.5 1335.5 1079.5 1336.0 1080.5 1334.6 1081.5 1334.6 1082.5 1334.8 1083.5 1334.6 1084.5 1334.3 1085.5 1334.8 1086.5 1334.9 1087.5 1334.4 1088.5 1335.6 1089.5 1335.9 1090.5 1335.3 1091.5 1335.2 1092.5 1335.0 1093.5 1335.5 1094.5 1336.2 1095.5 1336.9 1096.5 1336.6 1097.5 1336.0 1098.5 1337.2 1099.5 1336.3 1100.5 1336.8 1101.5 1336.2 1102.5 1336.4 1103.5 1336.3 1104.5 1336.5 1105.5 1336.1 1106.5 1335.3 1107.5 1336.2 1108.5 1336.2 1109.5 1336.0 1110.5 1335.4 1111.5 1335.0 1112.5 1335.9 1113.5 1336.7 1114.5 1336.9 1115.5 1336.7 1116.5 1336.3 1117.5 1336.0 1118.5 1336.3 1119.5 1336.7 1120.5 1336.6 1121.5 1336.6 1122.5 1337.1 1123.5 1336.9 1124.5 1336.8 1125.5 1335.9 1126.5 1336.1 1127.5 1335.6 1128.5 1337.2 1129.5 1337.4 1130.5 1337.2 1131.5 1336.1 1132.5 1336.7 1133.5 1336.1 1134.5 1335.3 1135.5 1334.2 1136.5 1334.1 1137.5 1333.2 1138.5 1332.2 1139.5 1332.2 1140.5 1330.8 1141.5 1329.7 1142.5 1328.2 1143.5 1324.8 1144.5 1321.8 1145.5 1319.0 1146.5 1314.6 1147.5 1312.2 1148.5 1306.9 1149.5 1300.5 1150.5 1295.4 1151.5 1288.6 1152.5 1283.6 1153.5 1278.5 1154.5 1271.9 1155.5 1260.7 1156.5 1253.1 1157.5 1247.0 1158.5 1241.0 1159.5 1236.2 1160.5 1230.0 1161.5 1225.8 1162.5 1221.8 1163.5 1218.3 1164.5 1218.3 1165.5 1217.1 1166.5 1218.0 1167.5 1220.9 1168.5 1224.0 1169.5 1228.6 1170.5 1231.4 1171.5 1239.2 1172.5 1244.0 1173.5 1249.8 1174.5 1258.2 1175.5 1265.4 1176.5 1272.9 1177.5 1277.8 1178.5 1285.5 1179.5 1291.3 1180.5 1299.3 1181.5 1304.8 1182.5 1310.4 1183.5 1313.4 1184.5 1316.9 1185.5 1320.9 1186.5 1324.0 1187.5 1326.1 1188.5 1327.1 1189.5 1330.2 1190.5 1330.7 1191.5 1332.3 1192.5 1333.4 1193.5 1334.5 1194.5 1335.2 1195.5 1335.7 1196.5 1335.9 1197.5 1336.5 1198.5 1337.0 1199.5 1336.5 1200.5 1336.9 1201.5 1337.2 1202.5 1337.5 1203.5 1337.1 1204.5 1336.9 1205.5 1337.5 1206.5 1337.1 1207.5 1337.1 1208.5 1337.8 1209.5 1338.1 1210.5 1337.8 1211.5 1338.5 1212.5 1337.8 1213.5 1338.9 1214.5 1338.0 1215.5 1336.9 1216.5 1337.5 1217.5 1338.4 1218.5 1338.3 1219.5 1338.4 1220.5 1338.1 1221.5 1337.7 1222.5 1337.2 1223.5 1337.6 1224.5 1337.5 1225.5 1337.6 1226.5 1338.1 1227.5 1338.9 1228.5 1338.2 1229.5 1338.4 1230.5 1337.8 1231.5 1337.3 1232.5 1337.3 1233.5 1337.4 1234.5 1337.8 1235.5 1338.0 1236.5 1337.9 1237.5 1337.9 1238.5 1337.9 1239.5 1337.8 1240.5 1337.9 1241.5 1337.4 1242.5 1337.2 1243.5 1337.4 1244.5 1336.9 1245.5 1337.3 1246.5 1337.9 1247.5 1337.2 1248.5 1335.9 1249.5 1335.8 1250.5 1336.0 1251.5 1336.8 1252.5 1336.4 1253.5 1335.6 1254.5 1335.1 1255.5 1334.5 1256.5 1335.1 1257.5 1333.0 1258.5 1332.2 1259.5 1331.3 1260.5 1331.0 1261.5 1330.7 1262.5 1328.8 1263.5 1326.8 1264.5 1326.2 1265.5 1325.9 1266.5 1325.6 1267.5 1325.3 1268.5 1324.5 1269.5 1324.4 1270.5 1324.2 1271.5 1321.9 1272.5 1321.7 1273.5 1323.2 1274.5 1323.4 1275.5 1323.4 1276.5 1323.9 1277.5 1324.4 1278.5 1325.2 1279.5 1325.6 1280.5 1325.9 1281.5 1326.6 1282.5 1326.9 1283.5 1327.7 1284.5 1328.5 1285.5 1329.7 1286.5 1330.6 1287.5 1331.4 1288.5 1331.0 1289.5 1332.1 1290.5 1333.2 1291.5 1334.0 1292.5 1334.8 1293.5 1335.8 1294.5 1336.5 1295.5 1336.8 1296.5 1336.6 1297.5 1336.5 1298.5 1337.8 1299.5 1337.7 1300.5 1337.8 1301.5 1338.2 1302.5 1338.6 1303.5 1338.7 1304.5 1339.0 1305.5 1339.0 1306.5 1338.7 1307.5 1338.2 1308.5 1338.2 1309.5 1338.4 1310.5 1338.6 1311.5 1339.2 1312.5 1339.0 1313.5 1338.7 1314.5 1338.1 1315.5 1338.1 1316.5 1338.6 1317.5 1338.9 1318.5 1338.5 1319.5 1338.9 1320.5 1338.6 1321.5 1338.7 1322.5 1337.9 1323.5 1338.1 1324.5 1338.1 1325.5 1337.9 1326.5 1338.3 1327.5 1338.2 1328.5 1338.0 1329.5 1336.9 1330.5 1336.7 1331.5 1336.8 1332.5 1336.8 1333.5 1336.9 1334.5 1337.6 1335.5 1337.9 1336.5 1337.8 1337.5 1338.0 1338.5 1338.9 1339.5 1338.1 1340.5 1337.6 1341.5 1338.6 1342.5 1338.3 1343.5 1338.7 1344.5 1338.4 1345.5 1337.4 1346.5 1337.3 1347.5 1336.9 1348.5 1338.2 1349.5 1338.1 1350.5 1338.4 1351.5 1339.2 1352.5 1337.4 1353.5 1338.0 1354.5 1338.3 1355.5 1338.4 1356.5 1338.0 1357.5 1338.2 1358.5 1339.2 1359.5 1338.8 1360.5 1338.5 1361.5 1338.1 1362.5 1338.4 1363.5 1338.8 1364.5 1339.5 1365.5 1339.0 1366.5 1338.3 1367.5 1338.1 1368.5 1338.6 1369.5 1338.7 1370.5 1338.9 1371.5 1338.7 1372.5 1338.2 1373.5 1338.4 1374.5 1338.9 1375.5 1339.4 1376.5 1339.4 1377.5 1339.0 1378.5 1339.7 1379.5 1338.6 1380.5 1339.2 1381.5 1339.2 1382.5 1339.6 1383.5 1339.0 1384.5 1339.1 1385.5 1339.7 1386.5 1338.8 1387.5 1339.7 1388.5 1339.3 1389.5 1339.7 1390.5 1339.6 1391.5 1339.6 1392.5 1339.4 1393.5 1339.5 1394.5 1339.6 1395.5 1339.6 1396.5 1339.6 1397.5 1339.7 1398.5 1339.5 1399.5 1338.6 1400.5 1338.2 1401.5 1338.9 1402.5 1338.6 1403.5 1338.7 1404.5 1338.7 1405.5 1339.7 1406.5 1339.9 1407.5 1339.3 1408.5 1339.7 1409.5 1338.9 1410.5 1339.5 1411.5 1339.5 1412.5 1338.9 1413.5 1339.4 1414.5 1339.5 1415.5 1339.6 1416.5 1339.5 1417.5 1339.3 1418.5 1339.4 1419.5 1338.9 1420.5 1339.7 1421.5 1339.7 1422.5 1339.9 1423.5 1339.6 1424.5 1340.1 1425.5 1339.7 1426.5 1339.7 1427.5 1339.2 1428.5 1339.5 1429.5 1338.7 1430.5 1339.3 1431.5 1339.6 1432.5 1339.5 1433.5 1339.0 1434.5 1339.1 1435.5 1339.6 1436.5 1338.9 1437.5 1338.5 1438.5 1339.1 1439.5 1339.9 1440.5 1339.9 1441.5 1339.6 1442.5 1339.9 1443.5 1340.1 1444.5 1339.6 1445.5 1339.6 1446.5 1338.8 1447.5 1339.4 1448.5 1339.8 1449.5 1340.3 1450.5 1339.5 1451.5 1339.8 1452.5 1339.8 1453.5 1339.9 1454.5 1340.1 1455.5 1339.9 1456.5 1339.6 1457.5 1340.1 1458.5 1339.4 1459.5 1338.8 1460.5 1338.7 1461.5 1340.0 1462.5 1339.9 1463.5 1339.8 1464.5 1339.3 1465.5 1338.9 1466.5 1339.4 1467.5 1340.2 1468.5 1339.5 1469.5 1339.2 1470.5 1338.7 1471.5 1339.2 1472.5 1339.2 1473.5 1339.5 1474.5 1340.1 1475.5 1340.0 1476.5 1340.3 1477.5 1340.1 1478.5 1339.7 1479.5 1340.2 1480.5 1340.2 1481.5 1339.4 1482.5 1339.2 1483.5 1339.2 1484.5 1339.5 1485.5 1339.7 1486.5 1339.3 1487.5 1339.8 1488.5 1339.1 1489.5 1339.4 1490.5 1340.0 1491.5 1339.6 1492.5 1339.1 1493.5 1339.1 1494.5 1339.3 1495.5 1339.8 1496.5 1339.8 1497.5 1338.9 1498.5 1338.6 1499.5 1339.5 1500.5 1339.2 1501.5 1339.7 1502.5 1340.0 1503.5 1339.8 1504.5 1339.9 1505.5 1339.7 1506.5 1339.7 1507.5 1339.2 1508.5 1339.8 1509.5 1339.0 1510.5 1339.3 1511.5 1339.3 1512.5 1340.3 1513.5 1339.7 1514.5 1339.8 1515.5 1340.4 1516.5 1340.3 1517.5 1339.4 1518.5 1339.6 1519.5 1340.5 1520.5 1340.0 1521.5 1340.3 1522.5 1339.8 1523.5 1339.2 1524.5 1339.5 1525.5 1339.3 1526.5 1339.3 1527.5 1339.2 1528.5 1339.4 1529.5 1339.8 1530.5 1339.9 1531.5 1339.6 1532.5 1339.2 1533.5 1339.4 1534.5 1339.5 1535.5 1339.0 1536.5 1339.6 1537.5 1339.3 1538.5 1339.1 1539.5 1339.2 1540.5 1338.7 1541.5 1338.7 1542.5 1339.2 1543.5 1340.0 1544.5 1340.3 1545.5 1341.0 1546.5 1340.3 1547.5 1339.8 1548.5 1340.3 1549.5 1339.3 1550.5 1339.2 1551.5 1339.8 1552.5 1340.8 1553.5 1340.1 1554.5 1340.1 1555.5 1339.9 1556.5 1339.2 1557.5 1339.6 1558.5 1339.7 1559.5 1339.5 1560.5 1340.1 1561.5 1340.1 1562.5 1340.4 1563.5 1339.6 1564.5 1339.9 1565.5 1339.8 1566.5 1340.4 1567.5 1339.7 1568.5 1339.9 1569.5 1339.6" fill="none" stroke="#4b9ab8" stroke-width="1.80" stroke-linejoin="round"/>
<path d="M116.5 1342.4 117.5 1342.0 118.5 1341.8 119.5 1341.6 120.5 1341.3 121.5 1338.3 122.5 1337.3 123.5 1337.9 124.5 1337.1 125.5 1337.5 126.5 1338.1 127.5 1337.9 128.5 1337.9 129.5 1337.6 130.5 1336.6 131.5 1336.5 132.5 1335.4 133.5 1335.9 134.5 1335.6 135.5 1335.8 136.5 1336.8 137.5 1336.1 138.5 1335.0 139.5 1333.3 140.5 1332.2 141.5 1327.9 142.5 1322.3 143.5 1317.5 144.5 1310.7 145.5 1303.8 146.5 1302.3 147.5 1300.6 148.5 1305.0 149.5 1308.8 150.5 1313.4 151.5 1320.5 152.5 1325.7 153.5 1331.3 154.5 1334.1 155.5 1335.6 156.5 1335.7 157.5 1336.2 158.5 1335.7 159.5 1335.7 160.5 1335.9 161.5 1335.4 162.5 1334.9 163.5 1334.7 164.5 1333.8 165.5 1334.1 166.5 1333.5 167.5 1332.7 168.5 1332.9 169.5 1332.6 170.5 1332.3 171.5 1332.9 172.5 1331.2 173.5 1331.2 174.5 1329.9 175.5 1330.3 176.5 1325.0 177.5 1318.4 178.5 1307.2 179.5 1287.7 180.5 1257.8 181.5 1220.9 182.5 1170.7 183.5 1118.0 184.5 1062.3 185.5 1016.8 186.5 986.7 187.5 979.4 188.5 997.2 189.5 1034.0 190.5 1082.9 191.5 1138.2 192.5 1190.5 193.5 1236.1 194.5 1269.1 195.5 1290.6 196.5 1306.5 197.5 1316.4 198.5 1322.9 199.5 1325.5 200.5 1325.6 201.5 1326.4 202.5 1326.2 203.5 1326.8 204.5 1327.0 205.5 1326.6 206.5 1326.5 207.5 1325.9 208.5 1323.9 209.5 1321.6 210.5 1319.6 211.5 1313.3 212.5 1305.4 213.5 1298.3 214.5 1291.4 215.5 1285.3 216.5 1279.8 217.5 1275.9 218.5 1274.0 219.5 1276.8 220.5 1282.5 221.5 1290.9 222.5 1298.4 223.5 1307.1 224.5 1312.4 225.5 1318.7 226.5 1323.8 227.5 1326.2 228.5 1328.0 229.5 1330.3 230.5 1332.6 231.5 1332.4 232.5 1333.4 233.5 1333.3 234.5 1334.3 235.5 1334.6 236.5 1334.7 237.5 1335.2 238.5 1335.6 239.5 1334.6 240.5 1334.9 241.5 1334.0 242.5 1333.9 243.5 1334.1 244.5 1334.0 245.5 1334.4 246.5 1334.5 247.5 1334.2 248.5 1334.1 249.5 1334.5 250.5 1333.8 251.5 1333.6 252.5 1332.8 253.5 1333.5 254.5 1332.1 255.5 1332.6 256.5 1332.3 257.5 1332.3 258.5 1333.6 259.5 1333.5 260.5 1332.5 261.5 1331.8 262.5 1332.3 263.5 1331.5 264.5 1331.3 265.5 1332.2 266.5 1331.5 267.5 1332.0 268.5 1333.1 269.5 1332.4 270.5 1332.2 271.5 1332.4 272.5 1332.9 273.5 1332.7 274.5 1331.5 275.5 1331.8 276.5 1332.2 277.5 1332.3 278.5 1331.0 279.5 1329.8 280.5 1330.9 281.5 1331.0 282.5 1330.3 283.5 1329.6 284.5 1330.2 285.5 1329.9 286.5 1328.9 287.5 1329.8 288.5 1330.1 289.5 1329.9 290.5 1329.5 291.5 1329.5 292.5 1330.0 293.5 1329.3 294.5 1328.0 295.5 1327.9 296.5 1326.9 297.5 1325.0 298.5 1320.4 299.5 1317.2 300.5 1313.3 301.5 1306.0 302.5 1298.5 303.5 1292.0 304.5 1284.1 305.5 1276.8 306.5 1270.1 307.5 1265.9 308.5 1263.2 309.5 1263.8 310.5 1265.7 311.5 1269.4 312.5 1275.4 313.5 1283.0 314.5 1292.1 315.5 1298.1 316.5 1304.5 317.5 1309.6 318.5 1312.6 319.5 1316.5 320.5 1319.6 321.5 1321.2 322.5 1323.8 323.5 1324.3 324.5 1324.6 325.5 1324.3 326.5 1324.1 327.5 1323.6 328.5 1323.8 329.5 1324.1 330.5 1323.7 331.5 1324.4 332.5 1323.9 333.5 1322.6 334.5 1319.9 335.5 1317.9 336.5 1316.4 337.5 1312.0 338.5 1307.4 339.5 1302.3 340.5 1295.5 341.5 1289.6 342.5 1282.2 343.5 1276.1 344.5 1271.8 345.5 1267.0 346.5 1263.4 347.5 1260.8 348.5 1263.3 349.5 1266.4 350.5 1272.3 351.5 1278.0 352.5 1285.4 353.5 1290.1 354.5 1294.6 355.5 1301.1 356.5 1304.3 357.5 1308.0 358.5 1311.5 359.5 1313.5 360.5 1316.0 361.5 1316.5 362.5 1316.8 363.5 1318.3 364.5 1317.8 365.5 1318.2 366.5 1318.3 367.5 1318.3 368.5 1317.6 369.5 1317.4 370.5 1316.1 371.5 1314.4 372.5 1313.9 373.5 1312.9 374.5 1309.7 375.5 1306.6 376.5 1300.0 377.5 1290.7 378.5 1276.0 379.5 1257.8 380.5 1234.5 381.5 1208.2 382.5 1172.9 383.5 1132.8 384.5 1091.0 385.5 1043.5 386.5 999.3 387.5 957.1 388.5 924.1 389.5 902.4 390.5 887.6 391.5 887.7 392.5 899.9 393.5 923.3 394.5 958.8 395.5 998.4 396.5 1044.3 397.5 1088.4 398.5 1132.2 399.5 1172.9 400.5 1208.5 401.5 1237.8 402.5 1262.2 403.5 1283.1 404.5 1295.3 405.5 1304.9 406.5 1311.7 407.5 1316.9 408.5 1319.6 409.5 1321.3 410.5 1322.5 411.5 1325.1 412.5 1325.5 413.5 1325.0 414.5 1325.3 415.5 1324.7 416.5 1325.2 417.5 1324.4 418.5 1326.0 419.5 1325.8 420.5 1324.8 421.5 1326.2 422.5 1326.0 423.5 1324.5 424.5 1324.6 425.5 1324.4 426.5 1324.0 427.5 1324.2 428.5 1324.0 429.5 1322.5 430.5 1322.3 431.5 1323.0 432.5 1323.0 433.5 1323.6 434.5 1322.5 435.5 1322.7 436.5 1322.9 437.5 1322.9 438.5 1324.4 439.5 1324.0 440.5 1324.4 441.5 1324.4 442.5 1325.4 443.5 1325.8 444.5 1326.8 445.5 1326.9 446.5 1327.1 447.5 1325.4 448.5 1325.7 449.5 1326.1 450.5 1325.9 451.5 1326.1 452.5 1326.8 453.5 1326.6 454.5 1326.8 455.5 1328.5 456.5 1328.1 457.5 1327.3 458.5 1326.7 459.5 1325.2 460.5 1325.3 461.5 1327.1 462.5 1326.1 463.5 1326.3 464.5 1326.5 465.5 1327.1 466.5 1326.3 467.5 1325.7 468.5 1326.7 469.5 1326.1 470.5 1326.8 471.5 1326.9 472.5 1325.7 473.5 1326.0 474.5 1326.2 475.5 1327.6 476.5 1327.4 477.5 1326.6 478.5 1327.1 479.5 1327.4 480.5 1327.1 481.5 1327.7 482.5 1328.5 483.5 1328.0 484.5 1327.1 485.5 1326.7 486.5 1328.0 487.5 1327.6 488.5 1326.1 489.5 1327.1 490.5 1326.8 491.5 1326.3 492.5 1326.5 493.5 1326.2 494.5 1326.3 495.5 1326.2 496.5 1326.2 497.5 1327.2 498.5 1326.2 499.5 1326.7 500.5 1326.7 501.5 1328.3 502.5 1328.1 503.5 1327.7 504.5 1327.9 505.5 1327.1 506.5 1326.6 507.5 1326.0 508.5 1326.3 509.5 1327.2 510.5 1326.8 511.5 1326.8 512.5 1327.1 513.5 1326.7 514.5 1328.5 515.5 1327.4 516.5 1327.1 517.5 1326.4 518.5 1327.0 519.5 1327.2 520.5 1325.8 521.5 1327.7 522.5 1326.7 523.5 1326.8 524.5 1326.8 525.5 1327.0 526.5 1328.1 527.5 1328.1 528.5 1327.2 529.5 1327.3 530.5 1326.4 531.5 1327.1 532.5 1327.2 533.5 1327.6 534.5 1326.8 535.5 1326.7 536.5 1326.5 537.5 1326.9 538.5 1325.3 539.5 1326.4 540.5 1327.5 541.5 1327.3 542.5 1327.2 543.5 1327.4 544.5 1327.8 545.5 1327.9 546.5 1327.7 547.5 1328.4 548.5 1328.5 549.5 1328.5 550.5 1327.3 551.5 1328.4 552.5 1327.3 553.5 1327.4 554.5 1327.3 555.5 1326.1 556.5 1325.9 557.5 1327.4 558.5 1328.3 559.5 1329.3 560.5 1328.7 561.5 1327.9 562.5 1327.2 563.5 1328.1 564.5 1328.4 565.5 1327.1 566.5 1327.6 567.5 1328.0 568.5 1327.1 569.5 1328.0 570.5 1328.2 571.5 1328.5 572.5 1328.2 573.5 1328.2 574.5 1328.3 575.5 1328.5 576.5 1328.6 577.5 1328.0 578.5 1328.6 579.5 1328.3 580.5 1327.8 581.5 1327.7 582.5 1327.5 583.5 1327.7 584.5 1328.2 585.5 1328.1 586.5 1327.5 587.5 1327.4 588.5 1327.3 589.5 1327.6 590.5 1329.1 591.5 1329.8 592.5 1330.1 593.5 1330.2 594.5 1329.3 595.5 1329.2 596.5 1327.9 597.5 1327.9 598.5 1328.3 599.5 1327.8 600.5 1328.3 601.5 1328.2 602.5 1329.0 603.5 1328.4 604.5 1328.4 605.5 1328.9 606.5 1328.2 607.5 1327.9 608.5 1327.9 609.5 1328.8 610.5 1329.1 611.5 1327.8 612.5 1328.2 613.5 1328.6 614.5 1328.1 615.5 1327.9 616.5 1329.0 617.5 1328.6 618.5 1329.0 619.5 1328.9 620.5 1328.8 621.5 1330.2 622.5 1330.1 623.5 1330.0 624.5 1329.8 625.5 1330.0 626.5 1329.0 627.5 1328.6 628.5 1330.1 629.5 1330.3 630.5 1330.2 631.5 1329.6 632.5 1329.7 633.5 1329.7 634.5 1329.9 635.5 1328.1 636.5 1329.1 637.5 1328.9 638.5 1329.0 639.5 1329.3 640.5 1329.4 641.5 1330.5 642.5 1329.9 643.5 1330.0 644.5 1330.5 645.5 1330.0 646.5 1329.6 647.5 1329.7 648.5 1329.6 649.5 1329.6 650.5 1330.0 651.5 1330.9 652.5 1331.4 653.5 1330.1 654.5 1329.5 655.5 1330.8 656.5 1330.3 657.5 1329.7 658.5 1329.8 659.5 1329.8 660.5 1329.2 661.5 1329.8 662.5 1330.4 663.5 1331.0 664.5 1330.7 665.5 1330.4 666.5 1330.6 667.5 1329.9 668.5 1329.7 669.5 1329.8 670.5 1329.9 671.5 1330.3 672.5 1330.8 673.5 1331.0 674.5 1331.0 675.5 1331.5 676.5 1332.9 677.5 1330.5 678.5 1330.4 679.5 1331.0 680.5 1330.1 681.5 1331.1 682.5 1330.2 683.5 1330.3 684.5 1330.2 685.5 1329.6 686.5 1330.3 687.5 1330.8 688.5 1330.0 689.5 1329.6 690.5 1329.6 691.5 1329.6 692.5 1329.7 693.5 1329.8 694.5 1328.1 695.5 1328.7 696.5 1328.0 697.5 1327.4 698.5 1326.2 699.5 1324.2 700.5 1323.8 701.5 1322.3 702.5 1319.9 703.5 1318.0 704.5 1315.2 705.5 1313.6 706.5 1313.1 707.5 1310.3 708.5 1307.6 709.5 1304.5 710.5 1303.5 711.5 1302.7 712.5 1302.8 713.5 1300.9 714.5 1300.3 715.5 1302.3 716.5 1302.7 717.5 1303.8 718.5 1304.3 719.5 1306.1 720.5 1308.7 721.5 1311.4 722.5 1314.6 723.5 1316.0 724.5 1318.3 725.5 1320.2 726.5 1323.0 727.5 1324.5 728.5 1326.0 729.5 1327.0 730.5 1327.9 731.5 1328.4 732.5 1329.5 733.5 1330.0 734.5 1331.6 735.5 1331.2 736.5 1331.6 737.5 1331.3 738.5 1331.6 739.5 1332.4 740.5 1331.9 741.5 1330.9 742.5 1331.1 743.5 1331.5 744.5 1331.6 745.5 1331.9 746.5 1332.3 747.5 1331.4 748.5 1330.9 749.5 1331.1 750.5 1331.4 751.5 1329.3 752.5 1329.6 753.5 1329.9 754.5 1330.5 755.5 1331.1 756.5 1330.7 757.5 1330.8 758.5 1330.3 759.5 1330.6 760.5 1329.9 761.5 1329.2 762.5 1329.5 763.5 1329.0 764.5 1328.6 765.5 1330.0 766.5 1330.3 767.5 1330.9 768.5 1330.1 769.5 1330.2 770.5 1330.2 771.5 1331.5 772.5 1330.6 773.5 1330.8 774.5 1331.3 775.5 1332.1 776.5 1332.4 777.5 1332.0 778.5 1332.1 779.5 1332.1 780.5 1331.9 781.5 1332.2 782.5 1331.7 783.5 1330.7 784.5 1331.7 785.5 1332.2 786.5 1332.3 787.5 1331.8 788.5 1332.1 789.5 1332.3 790.5 1332.3 791.5 1332.4 792.5 1332.6 793.5 1331.9 794.5 1332.0 795.5 1331.7 796.5 1332.6 797.5 1332.2 798.5 1332.9 799.5 1332.8 800.5 1333.8 801.5 1334.3 802.5 1334.7 803.5 1334.8 804.5 1334.7 805.5 1333.9 806.5 1333.9 807.5 1333.1 808.5 1334.8 809.5 1333.7 810.5 1334.2 811.5 1333.6 812.5 1333.4 813.5 1333.5 814.5 1332.8 815.5 1332.8 816.5 1332.8 817.5 1332.4 818.5 1332.6 819.5 1332.2 820.5 1333.0 821.5 1332.9 822.5 1333.1 823.5 1334.6 824.5 1334.1 825.5 1333.1 826.5 1333.9 827.5 1332.6 828.5 1332.9 829.5 1333.0 830.5 1332.4 831.5 1333.3 832.5 1333.5 833.5 1333.4 834.5 1333.7 835.5 1332.9 836.5 1333.5 837.5 1333.6 838.5 1333.6 839.5 1333.2 840.5 1333.1 841.5 1332.9 842.5 1333.7 843.5 1333.2 844.5 1333.1 845.5 1333.5 846.5 1333.1 847.5 1333.5 848.5 1332.7 849.5 1332.8 850.5 1332.0 851.5 1333.4 852.5 1334.8 853.5 1334.1 854.5 1333.3 855.5 1333.7 856.5 1334.0 857.5 1334.5 858.5 1334.0 859.5 1333.9 860.5 1333.8 861.5 1333.6 862.5 1332.9 863.5 1333.0 864.5 1333.1 865.5 1333.2 866.5 1333.1 867.5 1333.3 868.5 1333.2 869.5 1333.9 870.5 1334.4 871.5 1333.8 872.5 1333.9 873.5 1334.0 874.5 1332.7 875.5 1333.6 876.5 1333.5 877.5 1334.2 878.5 1334.1 879.5 1334.0 880.5 1334.5 881.5 1333.6 882.5 1334.4 883.5 1334.9 884.5 1334.0 885.5 1332.6 886.5 1332.9 887.5 1333.2 888.5 1333.5 889.5 1333.7 890.5 1333.0 891.5 1333.4 892.5 1333.7 893.5 1333.2 894.5 1333.0 895.5 1333.1 896.5 1332.9 897.5 1332.7 898.5 1332.6 899.5 1333.5 900.5 1334.6 901.5 1333.9 902.5 1333.5 903.5 1334.0 904.5 1334.4 905.5 1335.6 906.5 1335.1 907.5 1334.9 908.5 1334.3 909.5 1334.5 910.5 1334.6 911.5 1334.1 912.5 1334.8 913.5 1333.8 914.5 1333.7 915.5 1333.4 916.5 1334.7 917.5 1334.0 918.5 1334.6 919.5 1334.2 920.5 1334.1 921.5 1333.4 922.5 1333.7 923.5 1334.4 924.5 1334.4 925.5 1334.7 926.5 1334.4 927.5 1334.1 928.5 1334.1 929.5 1333.6 930.5 1334.0 931.5 1333.5 932.5 1334.3 933.5 1335.0 934.5 1334.3 935.5 1334.2 936.5 1335.0 937.5 1335.6 938.5 1334.5 939.5 1333.9 940.5 1333.2 941.5 1332.6 942.5 1332.4 943.5 1333.3 944.5 1334.7 945.5 1334.8 946.5 1334.3 947.5 1334.7 948.5 1333.9 949.5 1334.5 950.5 1334.2 951.5 1334.1 952.5 1334.2 953.5 1334.2 954.5 1334.2 955.5 1334.7 956.5 1333.9 957.5 1334.9 958.5 1336.0 959.5 1334.7 960.5 1334.9 961.5 1334.3 962.5 1334.9 963.5 1335.8 964.5 1334.9 965.5 1335.1 966.5 1334.5 967.5 1333.8 968.5 1333.5 969.5 1333.9 970.5 1334.2 971.5 1332.6 972.5 1333.0 973.5 1333.9 974.5 1334.0 975.5 1333.9 976.5 1334.1 977.5 1333.9 978.5 1333.2 979.5 1332.2 980.5 1331.7 981.5 1331.0 982.5 1331.0 983.5 1330.2 984.5 1330.2 985.5 1329.1 986.5 1326.6 987.5 1324.9 988.5 1324.3 989.5 1321.8 990.5 1319.7 991.5 1318.0 992.5 1318.8 993.5 1317.8 994.5 1317.4 995.5 1315.7 996.5 1314.2 997.5 1313.6 998.5 1312.4 999.5 1313.1 1000.5 1313.0 1001.5 1311.6 1002.5 1311.7 1003.5 1314.2 1004.5 1315.5 1005.5 1315.8 1006.5 1317.2 1007.5 1319.1 1008.5 1320.3 1009.5 1321.8 1010.5 1322.6 1011.5 1323.3 1012.5 1324.5 1013.5 1326.3 1014.5 1327.8 1015.5 1328.8 1016.5 1330.0 1017.5 1330.8 1018.5 1332.1 1019.5 1332.1 1020.5 1332.3 1021.5 1333.7 1022.5 1335.2 1023.5 1334.6 1024.5 1334.8 1025.5 1334.2 1026.5 1333.7 1027.5 1334.7 1028.5 1334.3 1029.5 1334.0 1030.5 1333.2 1031.5 1334.8 1032.5 1334.8 1033.5 1334.6 1034.5 1334.4 1035.5 1334.9 1036.5 1335.7 1037.5 1335.1 1038.5 1334.9 1039.5 1333.7 1040.5 1334.4 1041.5 1334.0 1042.5 1334.1 1043.5 1333.7 1044.5 1333.4 1045.5 1332.6 1046.5 1333.6 1047.5 1334.2 1048.5 1334.1 1049.5 1334.3 1050.5 1334.5 1051.5 1335.3 1052.5 1335.1 1053.5 1335.5 1054.5 1335.7 1055.5 1334.9 1056.5 1334.8 1057.5 1335.1 1058.5 1334.6 1059.5 1335.7 1060.5 1335.1 1061.5 1335.2 1062.5 1335.3 1063.5 1334.8 1064.5 1334.6 1065.5 1334.2 1066.5 1333.3 1067.5 1333.0 1068.5 1333.6 1069.5 1333.1 1070.5 1333.1 1071.5 1333.7 1072.5 1333.7 1073.5 1333.4 1074.5 1332.3 1075.5 1331.9 1076.5 1332.1 1077.5 1333.2 1078.5 1333.3 1079.5 1334.0 1080.5 1335.5 1081.5 1334.9 1082.5 1333.7 1083.5 1333.3 1084.5 1334.5 1085.5 1334.1 1086.5 1334.1 1087.5 1333.7 1088.5 1333.3 1089.5 1333.0 1090.5 1333.3 1091.5 1333.7 1092.5 1334.9 1093.5 1334.0 1094.5 1334.6 1095.5 1335.5 1096.5 1335.3 1097.5 1334.5 1098.5 1334.3 1099.5 1334.9 1100.5 1335.1 1101.5 1334.6 1102.5 1334.8 1103.5 1334.8 1104.5 1334.6 1105.5 1334.6 1106.5 1335.5 1107.5 1334.9 1108.5 1334.3 1109.5 1335.5 1110.5 1335.0 1111.5 1334.4 1112.5 1335.5 1113.5 1335.4 1114.5 1335.3 1115.5 1335.7 1116.5 1335.1 1117.5 1335.8 1118.5 1336.3 1119.5 1336.7 1120.5 1335.8 1121.5 1335.7 1122.5 1335.4 1123.5 1335.3 1124.5 1335.7 1125.5 1335.2 1126.5 1335.5 1127.5 1335.9 1128.5 1335.5 1129.5 1334.8 1130.5 1333.5 1131.5 1333.6 1132.5 1333.4 1133.5 1333.6 1134.5 1333.0 1135.5 1331.9 1136.5 1330.7 1137.5 1330.2 1138.5 1328.2 1139.5 1325.8 1140.5 1323.9 1141.5 1321.1 1142.5 1317.8 1143.5 1313.4 1144.5 1307.5 1145.5 1301.3 1146.5 1295.8 1147.5 1289.4 1148.5 1279.9 1149.5 1270.9 1150.5 1260.5 1151.5 1248.9 1152.5 1237.5 1153.5 1225.9 1154.5 1212.5 1155.5 1198.7 1156.5 1187.1 1157.5 1176.1 1158.5 1166.1 1159.5 1153.6 1160.5 1145.7 1161.5 1137.1 1162.5 1132.1 1163.5 1125.3 1164.5 1124.5 1165.5 1123.9 1166.5 1125.1 1167.5 1128.3 1168.5 1131.7 1169.5 1139.1 1170.5 1147.9 1171.5 1158.7 1172.5 1169.0 1173.5 1182.2 1174.5 1194.3 1175.5 1207.6 1176.5 1219.9 1177.5 1231.9 1178.5 1243.4 1179.5 1256.0 1180.5 1266.5 1181.5 1276.0 1182.5 1283.5 1183.5 1292.2 1184.5 1299.4 1185.5 1306.0 1186.5 1311.2 1187.5 1315.4 1188.5 1320.2 1189.5 1323.7 1190.5 1325.4 1191.5 1328.0 1192.5 1330.0 1193.5 1331.8 1194.5 1333.7 1195.5 1333.9 1196.5 1335.0 1197.5 1334.8 1198.5 1336.0 1199.5 1335.5 1200.5 1336.6 1201.5 1337.3 1202.5 1336.7 1203.5 1336.2 1204.5 1337.3 1205.5 1336.5 1206.5 1336.3 1207.5 1337.5 1208.5 1337.3 1209.5 1337.6 1210.5 1337.6 1211.5 1338.0 1212.5 1338.1 1213.5 1337.9 1214.5 1338.3 1215.5 1338.6 1216.5 1337.5 1217.5 1337.1 1218.5 1337.2 1219.5 1337.4 1220.5 1336.5 1221.5 1337.1 1222.5 1337.6 1223.5 1337.7 1224.5 1337.1 1225.5 1337.4 1226.5 1338.0 1227.5 1338.1 1228.5 1336.8 1229.5 1336.8 1230.5 1337.3 1231.5 1337.2 1232.5 1337.0 1233.5 1336.5 1234.5 1336.4 1235.5 1337.2 1236.5 1337.0 1237.5 1337.6 1238.5 1337.8 1239.5 1337.5 1240.5 1336.3 1241.5 1336.5 1242.5 1336.7 1243.5 1336.4 1244.5 1336.4 1245.5 1335.7 1246.5 1335.8 1247.5 1335.4 1248.5 1334.5 1249.5 1334.5 1250.5 1334.5 1251.5 1333.1 1252.5 1332.9 1253.5 1331.6 1254.5 1331.0 1255.5 1330.0 1256.5 1329.6 1257.5 1328.8 1258.5 1328.1 1259.5 1326.2 1260.5 1325.6 1261.5 1322.8 1262.5 1320.8 1263.5 1320.4 1264.5 1319.3 1265.5 1318.2 1266.5 1316.3 1267.5 1314.6 1268.5 1313.1 1269.5 1313.1 1270.5 1312.7 1271.5 1312.9 1272.5 1311.4 1273.5 1312.8 1274.5 1312.3 1275.5 1312.7 1276.5 1313.3 1277.5 1314.0 1278.5 1315.9 1279.5 1316.5 1280.5 1317.0 1281.5 1318.6 1282.5 1320.1 1283.5 1320.8 1284.5 1322.2 1285.5 1323.6 1286.5 1325.1 1287.5 1325.6 1288.5 1327.3 1289.5 1327.9 1290.5 1331.2 1291.5 1330.8 1292.5 1331.8 1293.5 1332.4 1294.5 1333.6 1295.5 1334.0 1296.5 1334.2 1297.5 1334.2 1298.5 1335.8 1299.5 1336.7 1300.5 1337.1 1301.5 1337.3 1302.5 1336.9 1303.5 1337.0 1304.5 1337.0 1305.5 1337.0 1306.5 1337.4 1307.5 1338.3 1308.5 1337.8 1309.5 1337.7 1310.5 1337.7 1311.5 1338.0 1312.5 1338.6 1313.5 1339.0 1314.5 1338.8 1315.5 1338.1 1316.5 1337.3 1317.5 1338.0 1318.5 1338.6 1319.5 1338.3 1320.5 1338.7 1321.5 1338.4 1322.5 1337.9 1323.5 1338.8 1324.5 1337.8 1325.5 1338.0 1326.5 1337.7 1327.5 1337.4 1328.5 1337.8 1329.5 1337.5 1330.5 1337.9 1331.5 1337.2 1332.5 1337.6 1333.5 1338.1 1334.5 1337.5 1335.5 1336.7 1336.5 1337.2 1337.5 1337.5 1338.5 1337.2 1339.5 1336.9 1340.5 1336.4 1341.5 1336.9 1342.5 1338.0 1343.5 1337.3 1344.5 1337.6 1345.5 1337.8 1346.5 1336.6 1347.5 1337.1 1348.5 1336.8 1349.5 1337.6 1350.5 1338.9 1351.5 1338.0 1352.5 1338.8 1353.5 1339.0 1354.5 1338.5 1355.5 1338.8 1356.5 1338.2 1357.5 1338.9 1358.5 1338.4 1359.5 1338.2 1360.5 1338.3 1361.5 1338.3 1362.5 1338.4 1363.5 1337.6 1364.5 1338.0 1365.5 1338.4 1366.5 1338.3 1367.5 1338.3 1368.5 1338.1 1369.5 1338.3 1370.5 1338.3 1371.5 1339.2 1372.5 1337.6 1373.5 1337.3 1374.5 1337.9 1375.5 1337.9 1376.5 1337.5 1377.5 1337.7 1378.5 1338.0 1379.5 1338.4 1380.5 1338.3 1381.5 1338.3 1382.5 1338.1 1383.5 1338.5 1384.5 1339.6 1385.5 1338.3 1386.5 1338.1 1387.5 1338.0 1388.5 1337.8 1389.5 1337.3 1390.5 1338.2 1391.5 1338.7 1392.5 1339.1 1393.5 1338.1 1394.5 1338.8 1395.5 1338.1 1396.5 1337.7 1397.5 1338.1 1398.5 1337.4 1399.5 1336.5 1400.5 1336.2 1401.5 1337.7 1402.5 1338.2 1403.5 1338.6 1404.5 1338.2 1405.5 1338.9 1406.5 1338.7 1407.5 1338.8 1408.5 1338.3 1409.5 1337.8 1410.5 1338.1 1411.5 1338.1 1412.5 1338.5 1413.5 1339.2 1414.5 1338.0 1415.5 1338.4 1416.5 1339.1 1417.5 1339.2 1418.5 1338.9 1419.5 1338.5 1420.5 1338.5 1421.5 1338.2 1422.5 1338.1 1423.5 1338.6 1424.5 1339.0 1425.5 1339.4 1426.5 1339.1 1427.5 1339.0 1428.5 1338.6 1429.5 1338.9 1430.5 1338.4 1431.5 1338.6 1432.5 1337.7 1433.5 1338.1 1434.5 1337.8 1435.5 1337.5 1436.5 1338.0 1437.5 1338.0 1438.5 1338.4 1439.5 1338.3 1440.5 1337.4 1441.5 1338.5 1442.5 1338.3 1443.5 1338.6 1444.5 1339.1 1445.5 1339.3 1446.5 1339.3 1447.5 1340.1 1448.5 1339.2 1449.5 1338.4 1450.5 1339.2 1451.5 1338.8 1452.5 1339.1 1453.5 1340.1 1454.5 1339.6 1455.5 1340.2 1456.5 1340.5 1457.5 1340.1 1458.5 1339.8 1459.5 1339.4 1460.5 1338.8 1461.5 1338.5 1462.5 1339.0 1463.5 1339.9 1464.5 1340.0 1465.5 1339.9 1466.5 1339.4 1467.5 1340.0 1468.5 1339.5 1469.5 1339.0 1470.5 1338.5 1471.5 1338.6 1472.5 1338.7 1473.5 1339.3 1474.5 1339.3 1475.5 1339.4 1476.5 1339.3 1477.5 1339.1 1478.5 1338.4 1479.5 1338.6 1480.5 1339.1 1481.5 1339.7 1482.5 1339.1 1483.5 1339.3 1484.5 1339.8 1485.5 1339.2 1486.5 1339.2 1487.5 1339.5 1488.5 1339.6 1489.5 1339.7 1490.5 1339.1 1491.5 1338.6 1492.5 1339.0 1493.5 1339.4 1494.5 1338.9 1495.5 1339.0 1496.5 1339.4 1497.5 1339.0 1498.5 1338.8 1499.5 1339.6 1500.5 1339.6 1501.5 1339.6 1502.5 1339.4 1503.5 1339.4 1504.5 1340.1 1505.5 1339.4 1506.5 1339.4 1507.5 1339.4 1508.5 1339.2 1509.5 1339.1 1510.5 1338.5 1511.5 1338.9 1512.5 1339.2 1513.5 1339.6 1514.5 1338.9 1515.5 1339.4 1516.5 1340.6 1517.5 1340.5 1518.5 1340.7 1519.5 1339.5 1520.5 1339.4 1521.5 1340.1 1522.5 1339.7 1523.5 1338.7 1524.5 1338.8 1525.5 1338.4 1526.5 1338.7 1527.5 1339.6 1528.5 1339.2 1529.5 1339.7 1530.5 1339.1 1531.5 1338.6 1532.5 1339.4 1533.5 1338.8 1534.5 1339.3 1535.5 1339.6 1536.5 1339.6 1537.5 1339.5 1538.5 1340.2 1539.5 1339.9 1540.5 1339.0 1541.5 1338.8 1542.5 1338.3 1543.5 1338.8 1544.5 1339.5 1545.5 1340.0 1546.5 1339.8 1547.5 1340.2 1548.5 1340.0 1549.5 1340.0 1550.5 1339.6 1551.5 1339.0 1552.5 1339.8 1553.5 1339.5 1554.5 1338.9 1555.5 1338.9 1556.5 1339.0 1557.5 1340.3 1558.5 1340.1 1559.5 1340.1 1560.5 1339.4 1561.5 1339.7 1562.5 1339.3 1563.5 1339.2 1564.5 1339.2 1565.5 1339.3 1566.5 1339.3 1567.5 1339.2 1568.5 1339.7 1569.5 1340.5" fill="none" stroke="#f2a93b" stroke-width="1.80" stroke-linejoin="round"/>
</g>
<g font-family="Liberation Sans, sans-serif" font-size="28">
<rect x="167.1" y="923.0" width="39.9" height="43.2" fill="#2890f8" fill-opacity="0.9"/>
<text x="180.1" y="952.0" fill="#0a2a4a" fill-opacity="0.95" stroke="#2890f8" stroke-width="0.75" textLength="21.6" lengthAdjust="spacingAndGlyphs">O</text>
<rect x="368.9" y="905.5" width="39.9" height="42.8" fill="#2828f8" fill-opacity="0.9"/>
<text x="381.9" y="934.5" fill="#fff" stroke="#2828f8" stroke-width="0.6" textLength="21.7" lengthAdjust="spacingAndGlyphs">Si</text>
<rect x="159.0" y="1113.0" width="47.8" height="43.4" fill="#f828f8" fill-opacity="0.9"/>
<text x="172.0" y="1142.0" fill="#4a0a4a" fill-opacity="0.95" stroke="#f828f8" stroke-width="0.75" textLength="29.7" lengthAdjust="spacingAndGlyphs">Cr</text>
<rect x="125.6" y="1269.0" width="51.9" height="43.6" fill="#28f8f8" fill-opacity="0.9"/>
<text x="138.6" y="1298.0" fill="#0a4a4a" fill-opacity="0.95" stroke="#28f8f8" stroke-width="0.75" textLength="34.0" lengthAdjust="spacingAndGlyphs">Ca</text>
<rect x="192.9" y="1221.0" width="49.9" height="44.0" fill="#f8f828" fill-opacity="0.9"/>
<text x="205.9" y="1250.0" fill="#4a4a0a" fill-opacity="0.95" stroke="#f8f828" stroke-width="0.75" textLength="29.9" lengthAdjust="spacingAndGlyphs">Fe</text>
<rect x="279.0" y="1215.6" width="61.5" height="42.8" fill="#f82828" fill-opacity="0.9"/>
<text x="292.0" y="1244.6" fill="#4a0a0a" fill-opacity="0.95" stroke="#f82828" stroke-width="0.75" textLength="43.8" lengthAdjust="spacingAndGlyphs">Mg</text>
<rect x="325.3" y="1171.6" width="44.2" height="42.9" fill="#28f828" fill-opacity="0.9"/>
<text x="338.3" y="1200.6" fill="#0a4a0a" fill-opacity="0.95" stroke="#28f828" stroke-width="0.75" textLength="24.9" lengthAdjust="spacingAndGlyphs">Al</text>
<rect x="685.7" y="1251.8" width="51.3" height="42.2" fill="#28f8f8" fill-opacity="0.9"/>
<text x="698.7" y="1280.8" fill="#0a4a4a" fill-opacity="0.95" stroke="#28f8f8" stroke-width="0.75" textLength="34.0" lengthAdjust="spacingAndGlyphs">Ca</text>
<rect x="971.3" y="1263.5" width="47.1" height="42.5" fill="#f828f8" fill-opacity="0.9"/>
<text x="984.3" y="1292.5" fill="#4a0a4a" fill-opacity="0.95" stroke="#f828f8" stroke-width="0.75" textLength="29.7" lengthAdjust="spacingAndGlyphs">Cr</text>
<rect x="1134.8" y="1141.5" width="50.4" height="42.9" fill="#f8f828" fill-opacity="0.9"/>
<text x="1147.8" y="1170.5" fill="#4a4a0a" fill-opacity="0.95" stroke="#f8f828" stroke-width="0.75" textLength="29.9" lengthAdjust="spacingAndGlyphs">Fe</text>
</g>
<g clip-path="url(#semclip)">
<rect x="762.0" y="64.0" width="800.0" height="599.8" fill="#000"/>
<rect x="762.0" y="79" width="800.0" height="544" fill="#050505"/>
<rect x="762.0" y="79" width="800.0" height="544" filter="url(#bgn)" opacity="0.18"/>
<path d="M1137.0 81.9C1150.1 81.9 1165.8 83.8 1177.8 85.7C1189.8 87.6 1198.5 90.1 1209.0 93.5C1219.5 96.9 1230.0 101.0 1240.5 106.0C1251.0 111.0 1261.3 116.5 1271.8 123.3C1282.2 130.1 1293.8 138.5 1303.2 146.8C1312.6 155.2 1320.5 163.7 1328.3 173.4C1336.1 183.1 1343.9 194.4 1350.2 204.8C1356.5 215.2 1361.5 225.6 1365.9 236.0C1370.4 246.4 1373.6 257.3 1376.9 267.5C1380.2 277.7 1383.8 284.2 1386.0 297.0C1388.2 309.8 1389.7 328.3 1390.0 344.0C1390.3 359.7 1390.3 376.3 1388.0 391.0C1385.7 405.7 1379.5 422.3 1376.0 432.0C1372.5 441.7 1371.0 442.2 1367.0 449.0C1363.0 455.8 1357.5 464.9 1352.0 473.0C1346.5 481.1 1341.0 489.2 1334.0 497.3C1327.0 505.4 1319.0 513.4 1309.9 521.4C1300.9 529.4 1289.8 538.5 1279.7 545.5C1269.7 552.5 1259.4 557.8 1249.6 563.6C1239.8 569.4 1230.8 575.5 1221.0 580.2C1211.2 584.9 1200.7 588.9 1190.5 591.8C1180.3 594.7 1169.2 596.6 1160.0 597.8C1150.8 599.0 1143.2 599.4 1135.0 599.2C1126.8 599.0 1120.0 598.4 1111.0 596.7C1102.0 595.0 1090.8 592.3 1080.8 589.0C1070.8 585.7 1060.7 581.7 1050.7 577.0C1040.7 572.3 1030.7 566.9 1020.6 560.6C1010.5 554.4 1000.5 547.6 990.4 539.5C980.3 531.4 970.1 522.1 960.0 512.0C949.9 501.9 938.0 491.0 930.0 479.0C922.0 467.0 917.8 454.7 912.0 440.0C906.2 425.3 898.3 407.0 895.0 391.0C891.7 375.0 892.2 359.7 892.0 344.0C891.8 328.3 892.1 309.8 894.0 297.0C895.9 284.2 900.6 276.6 903.5 267.5C906.4 258.4 907.4 251.8 911.3 242.4C915.2 233.0 920.7 221.4 927.0 211.0C933.3 200.6 941.2 189.6 949.0 179.7C956.8 169.8 964.6 160.6 974.0 151.5C983.4 142.4 994.9 132.5 1005.4 124.9C1015.9 117.3 1026.3 111.2 1036.7 106.0C1047.1 100.8 1057.5 96.9 1068.0 93.5C1078.5 90.1 1087.9 87.6 1099.4 85.7C1110.9 83.8 1123.9 81.9 1137.0 81.9Z" fill="#3a3a3a" filter="url(#soft)"/>
<g clip-path="url(#sphclip)">
<rect x="880" y="70" width="520" height="540" fill="#181818"/>
<g filter="url(#soft4)">
<path d="M1137.0 81.9C1150.1 81.9 1165.8 83.8 1177.8 85.7C1189.8 87.6 1198.5 90.1 1209.0 93.5C1219.5 96.9 1230.0 101.0 1240.5 106.0C1251.0 111.0 1261.3 116.5 1271.8 123.3C1282.2 130.1 1293.8 138.5 1303.2 146.8C1312.6 155.2 1320.5 163.7 1328.3 173.4C1336.1 183.1 1343.9 194.4 1350.2 204.8C1356.5 215.2 1361.5 225.6 1365.9 236.0C1370.4 246.4 1373.6 257.3 1376.9 267.5C1380.2 277.7 1383.8 284.2 1386.0 297.0C1388.2 309.8 1389.7 328.3 1390.0 344.0C1390.3 359.7 1390.3 376.3 1388.0 391.0C1385.7 405.7 1379.5 422.3 1376.0 432.0C1372.5 441.7 1371.0 442.2 1367.0 449.0C1363.0 455.8 1357.5 464.9 1352.0 473.0C1346.5 481.1 1341.0 489.2 1334.0 497.3C1327.0 505.4 1319.0 513.4 1309.9 521.4C1300.9 529.4 1289.8 538.5 1279.7 545.5C1269.7 552.5 1259.4 557.8 1249.6 563.6C1239.8 569.4 1230.8 575.5 1221.0 580.2C1211.2 584.9 1200.7 588.9 1190.5 591.8C1180.3 594.7 1169.2 596.6 1160.0 597.8C1150.8 599.0 1143.2 599.4 1135.0 599.2C1126.8 599.0 1120.0 598.4 1111.0 596.7C1102.0 595.0 1090.8 592.3 1080.8 589.0C1070.8 585.7 1060.7 581.7 1050.7 577.0C1040.7 572.3 1030.7 566.9 1020.6 560.6C1010.5 554.4 1000.5 547.6 990.4 539.5C980.3 531.4 970.1 522.1 960.0 512.0C949.9 501.9 938.0 491.0 930.0 479.0C922.0 467.0 917.8 454.7 912.0 440.0C906.2 425.3 898.3 407.0 895.0 391.0C891.7 375.0 892.2 359.7 892.0 344.0C891.8 328.3 892.1 309.8 894.0 297.0C895.9 284.2 900.6 276.6 903.5 267.5C906.4 258.4 907.4 251.8 911.3 242.4C915.2 233.0 920.7 221.4 927.0 211.0C933.3 200.6 941.2 189.6 949.0 179.7C956.8 169.8 964.6 160.6 974.0 151.5C983.4 142.4 994.9 132.5 1005.4 124.9C1015.9 117.3 1026.3 111.2 1036.7 106.0C1047.1 100.8 1057.5 96.9 1068.0 93.5C1078.5 90.1 1087.9 87.6 1099.4 85.7C1110.9 83.8 1123.9 81.9 1137.0 81.9Z" fill="rgb(22,22,22)"/>
<path d="M1136.8 85.4C1149.7 85.4 1165.2 87.3 1177.0 89.2C1188.8 91.1 1197.4 93.5 1207.7 96.9C1218.0 100.2 1228.4 104.3 1238.7 109.2C1249.0 114.1 1259.3 119.5 1269.6 126.2C1279.9 132.9 1291.2 141.1 1300.5 149.4C1309.8 157.6 1317.5 166.0 1325.2 175.6C1332.9 185.1 1340.6 196.2 1346.8 206.5C1353.0 216.8 1357.9 226.9 1362.3 237.2C1366.6 247.5 1369.8 258.2 1373.1 268.2C1376.4 278.3 1379.9 284.7 1382.1 297.3C1384.2 309.9 1385.7 328.2 1386.0 343.6C1386.3 359.0 1386.3 375.4 1384.0 389.9C1381.7 404.3 1375.7 420.8 1372.2 430.3C1368.8 439.8 1367.3 440.3 1363.3 447.0C1359.4 453.8 1354.0 462.7 1348.6 470.7C1343.1 478.6 1337.7 486.6 1330.8 494.6C1323.9 502.5 1316.0 510.4 1307.1 518.3C1298.2 526.2 1287.2 535.1 1277.3 542.1C1267.5 549.0 1257.3 554.2 1247.7 559.9C1238.1 565.6 1229.2 571.6 1219.5 576.3C1209.8 580.9 1199.5 584.8 1189.5 587.7C1179.5 590.6 1168.6 592.4 1159.4 593.6C1150.3 594.8 1142.9 595.1 1134.8 595.0C1126.8 594.8 1120.1 594.2 1111.2 592.5C1102.3 590.8 1091.3 588.2 1081.4 584.9C1071.5 581.7 1061.7 577.8 1051.8 573.1C1041.9 568.4 1032.0 563.1 1022.1 556.9C1012.2 550.8 1002.3 544.1 992.4 536.2C982.4 528.2 972.4 519.0 962.4 509.1C952.5 499.1 940.8 488.4 932.9 476.6C925.0 464.8 920.9 452.6 915.2 438.2C909.4 423.7 901.7 405.7 898.4 389.9C895.1 374.1 895.6 359.0 895.5 343.6C895.3 328.2 895.5 309.9 897.4 297.3C899.3 284.7 904.0 277.2 906.8 268.2C909.6 259.3 910.6 252.8 914.5 243.5C918.3 234.2 923.8 222.9 929.9 212.6C936.1 202.3 943.9 191.5 951.6 181.8C959.3 172.0 967.0 163.0 976.2 154.0C985.5 145.0 996.9 135.3 1007.2 127.8C1017.5 120.3 1027.7 114.3 1038.0 109.2C1048.3 104.0 1058.5 100.2 1068.8 96.9C1079.1 93.5 1088.4 91.1 1099.8 89.2C1111.1 87.3 1123.9 85.4 1136.8 85.4Z" fill="rgb(34,34,34)"/>
<path d="M1136.6 89.0C1149.3 89.0 1164.5 90.8 1176.2 92.6C1187.8 94.5 1196.3 96.9 1206.4 100.2C1216.6 103.5 1226.8 107.5 1237.0 112.3C1247.1 117.1 1257.2 122.5 1267.3 129.1C1277.5 135.7 1288.7 143.8 1297.8 151.9C1306.9 160.0 1314.5 168.3 1322.1 177.7C1329.7 187.1 1337.3 198.0 1343.4 208.2C1349.5 218.3 1354.3 228.3 1358.6 238.4C1362.9 248.6 1366.0 259.1 1369.3 269.0C1372.5 278.8 1376.0 285.2 1378.1 297.6C1380.2 310.0 1381.7 328.0 1382.0 343.2C1382.3 358.4 1382.3 374.6 1380.0 388.8C1377.8 403.0 1371.8 419.2 1368.4 428.5C1365.0 437.9 1363.6 438.4 1359.7 445.0C1355.8 451.7 1350.5 460.5 1345.1 468.3C1339.8 476.1 1334.5 484.1 1327.7 491.9C1320.9 499.7 1313.1 507.5 1304.3 515.3C1295.5 523.1 1284.7 531.8 1275.0 538.6C1265.3 545.5 1255.3 550.6 1245.8 556.2C1236.3 561.8 1227.6 567.7 1218.1 572.3C1208.5 576.9 1198.3 580.7 1188.5 583.6C1178.6 586.4 1167.9 588.2 1158.9 589.4C1149.9 590.6 1142.6 590.9 1134.6 590.7C1126.7 590.6 1120.1 590.0 1111.4 588.3C1102.6 586.7 1091.8 584.0 1082.1 580.8C1072.3 577.7 1062.6 573.8 1052.9 569.2C1043.1 564.6 1033.4 559.4 1023.7 553.3C1013.9 547.2 1004.2 540.7 994.4 532.8C984.6 525.0 974.7 515.9 964.9 506.1C955.1 496.4 943.6 485.8 935.8 474.1C928.0 462.5 924.0 450.5 918.3 436.3C912.7 422.1 905.1 404.3 901.8 388.8C898.6 373.3 899.1 358.4 898.9 343.2C898.8 328.0 899.0 310.0 900.9 297.6C902.7 285.2 907.3 277.8 910.1 269.0C912.9 260.2 913.9 253.8 917.7 244.6C921.5 235.5 926.8 224.3 932.9 214.2C939.0 204.0 946.6 193.4 954.2 183.8C961.8 174.2 969.4 165.3 978.5 156.5C987.6 147.6 998.8 138.0 1008.9 130.7C1019.1 123.3 1029.2 117.4 1039.3 112.3C1049.4 107.3 1059.5 103.5 1069.7 100.2C1079.8 96.9 1089.0 94.5 1100.1 92.6C1111.3 90.8 1123.9 89.0 1136.6 89.0Z" fill="rgb(46,46,46)"/>
<path d="M1136.3 93.7C1148.7 93.7 1163.7 95.4 1175.1 97.3C1186.5 99.1 1194.8 101.5 1204.7 104.7C1214.6 107.9 1224.7 111.8 1234.6 116.6C1244.6 121.3 1254.4 126.5 1264.4 133.0C1274.3 139.4 1285.2 147.4 1294.2 155.3C1303.1 163.2 1310.6 171.4 1318.0 180.6C1325.5 189.8 1332.9 200.5 1338.8 210.4C1344.8 220.3 1349.5 230.1 1353.8 240.1C1358.0 250.0 1361.0 260.3 1364.2 270.0C1367.4 279.6 1370.8 285.9 1372.8 298.0C1374.9 310.1 1376.3 327.8 1376.6 342.6C1377.0 357.5 1377.0 373.4 1374.8 387.3C1372.5 401.2 1366.7 417.1 1363.3 426.2C1360.0 435.4 1358.6 435.9 1354.8 442.4C1351.0 448.9 1345.8 457.6 1340.5 465.2C1335.3 472.8 1330.1 480.6 1323.4 488.3C1316.8 495.9 1309.2 503.5 1300.6 511.2C1292.0 518.8 1281.4 527.4 1271.9 534.1C1262.3 540.8 1252.6 545.8 1243.3 551.3C1234.0 556.8 1225.5 562.6 1216.1 567.0C1206.7 571.5 1196.8 575.3 1187.1 578.1C1177.5 580.8 1166.9 582.6 1158.1 583.8C1149.4 584.9 1142.2 585.3 1134.4 585.1C1126.6 584.9 1120.2 584.3 1111.6 582.7C1103.0 581.1 1092.5 578.5 1082.9 575.4C1073.4 572.3 1063.8 568.5 1054.3 564.0C1044.8 559.5 1035.3 554.4 1025.7 548.4C1016.2 542.5 1006.6 536.1 997.0 528.4C987.4 520.7 977.7 511.8 968.1 502.2C958.6 492.7 947.2 482.3 939.6 470.9C932.0 459.5 928.1 447.8 922.6 433.8C917.0 419.9 909.6 402.5 906.4 387.3C903.2 372.1 903.7 357.5 903.6 342.6C903.4 327.8 903.6 310.1 905.5 298.0C907.3 285.9 911.7 278.6 914.5 270.0C917.2 261.3 918.2 255.1 921.9 246.1C925.6 237.2 930.8 226.2 936.8 216.3C942.8 206.4 950.3 196.0 957.7 186.6C965.1 177.1 972.5 168.5 981.5 159.8C990.4 151.1 1001.4 141.7 1011.3 134.5C1021.2 127.3 1031.1 121.5 1041.0 116.6C1050.9 111.6 1060.8 107.9 1070.8 104.7C1080.7 101.5 1089.7 99.1 1100.6 97.3C1111.5 95.4 1123.9 93.7 1136.3 93.7Z" fill="rgb(58,58,58)"/>
<path d="M1136.0 98.4C1148.2 98.4 1162.8 100.1 1174.0 101.9C1185.1 103.7 1193.3 106.0 1203.0 109.1C1212.7 112.3 1222.5 116.2 1232.3 120.8C1242.0 125.4 1251.7 130.5 1261.4 136.9C1271.1 143.2 1281.8 150.9 1290.6 158.7C1299.3 166.5 1306.6 174.5 1313.9 183.5C1321.2 192.4 1328.5 203.0 1334.3 212.7C1340.1 222.4 1344.8 232.0 1348.9 241.7C1353.0 251.4 1356.0 261.5 1359.1 271.0C1362.2 280.4 1365.6 286.5 1367.6 298.4C1369.6 310.3 1371.0 327.5 1371.3 342.1C1371.6 356.7 1371.6 372.2 1369.5 385.8C1367.3 399.5 1361.5 415.0 1358.3 423.9C1355.0 432.9 1353.6 433.4 1349.9 439.8C1346.2 446.1 1341.1 454.6 1336.0 462.1C1330.9 469.6 1325.8 477.2 1319.2 484.7C1312.7 492.2 1305.2 499.6 1296.8 507.1C1288.4 514.6 1278.1 523.0 1268.7 529.5C1259.4 536.0 1249.8 541.0 1240.7 546.3C1231.6 551.7 1223.3 557.4 1214.1 561.8C1205.0 566.1 1195.2 569.8 1185.8 572.6C1176.3 575.3 1166.0 577.0 1157.4 578.1C1148.8 579.3 1141.8 579.6 1134.2 579.4C1126.6 579.3 1120.2 578.7 1111.8 577.1C1103.4 575.5 1093.1 573.0 1083.8 570.0C1074.4 566.9 1065.1 563.2 1055.8 558.8C1046.4 554.4 1037.1 549.4 1027.8 543.5C1018.4 537.7 1009.1 531.5 999.7 523.9C990.3 516.4 980.8 507.7 971.4 498.3C962.0 489.0 951.0 478.8 943.5 467.7C936.1 456.5 932.2 445.0 926.8 431.4C921.3 417.8 914.1 400.7 911.0 385.8C907.9 370.9 908.3 356.7 908.2 342.1C908.0 327.5 908.2 310.3 910.0 298.4C911.8 286.5 916.2 279.4 918.9 271.0C921.5 262.5 922.5 256.4 926.1 247.6C929.8 238.9 934.9 228.1 940.7 218.4C946.6 208.7 953.9 198.5 961.2 189.3C968.5 180.1 975.7 171.6 984.4 163.1C993.2 154.6 1003.9 145.4 1013.6 138.3C1023.4 131.3 1033.0 125.6 1042.7 120.8C1052.4 115.9 1062.1 112.3 1071.8 109.1C1081.6 106.0 1090.4 103.7 1101.1 101.9C1111.7 100.1 1123.9 98.4 1136.0 98.4Z" fill="rgb(67,67,67)"/>
<path d="M1135.3 110.1C1146.8 110.1 1160.7 111.8 1171.2 113.5C1181.8 115.2 1189.5 117.3 1198.7 120.3C1207.9 123.3 1217.2 126.9 1226.4 131.3C1235.6 135.7 1244.7 140.6 1253.9 146.5C1263.1 152.5 1273.3 159.9 1281.6 167.2C1289.9 174.6 1296.8 182.1 1303.7 190.6C1310.6 199.1 1317.4 209.1 1322.9 218.3C1328.5 227.4 1332.8 236.5 1336.8 245.7C1340.7 254.9 1343.5 264.5 1346.4 273.4C1349.4 282.4 1352.5 288.2 1354.4 299.4C1356.4 310.6 1357.7 327.0 1358.0 340.8C1358.3 354.5 1358.3 369.2 1356.2 382.1C1354.1 395.0 1348.7 409.7 1345.6 418.2C1342.6 426.7 1341.2 427.1 1337.7 433.2C1334.2 439.2 1329.4 447.2 1324.5 454.3C1319.7 461.4 1314.9 468.6 1308.7 475.7C1302.5 482.8 1295.4 489.8 1287.5 496.9C1279.5 503.9 1269.7 511.9 1260.9 518.1C1252.1 524.3 1243.0 528.9 1234.4 534.0C1225.8 539.1 1217.9 544.5 1209.2 548.6C1200.6 552.8 1191.3 556.2 1182.4 558.8C1173.5 561.4 1163.7 563.0 1155.6 564.1C1147.4 565.2 1140.7 565.5 1133.6 565.3C1126.4 565.2 1120.4 564.6 1112.4 563.1C1104.5 561.6 1094.7 559.2 1085.9 556.4C1077.0 553.5 1068.2 550.0 1059.4 545.8C1050.5 541.6 1041.7 536.9 1032.9 531.4C1024.0 525.9 1015.2 519.9 1006.3 512.8C997.4 505.7 988.4 497.5 979.6 488.6C970.7 479.7 960.2 470.1 953.2 459.6C946.1 449.0 942.5 438.1 937.3 425.2C932.2 412.3 925.3 396.2 922.4 382.1C919.4 368.0 919.9 354.5 919.7 340.8C919.6 327.0 919.8 310.6 921.5 299.4C923.2 288.2 927.3 281.4 929.8 273.4C932.4 265.4 933.3 259.6 936.7 251.4C940.2 243.1 945.0 232.9 950.5 223.7C956.0 214.5 963.0 204.9 969.9 196.2C976.8 187.4 983.6 179.4 991.9 171.4C1000.2 163.3 1010.3 154.6 1019.5 148.0C1028.7 141.3 1037.9 135.9 1047.1 131.3C1056.2 126.7 1065.4 123.3 1074.6 120.3C1083.8 117.3 1092.1 115.2 1102.2 113.5C1112.4 111.8 1123.8 110.1 1135.3 110.1Z" fill="rgb(74,74,74)"/>
<path d="M1134.8 119.5C1145.7 119.5 1159.0 121.1 1169.0 122.7C1179.1 124.3 1186.5 126.4 1195.2 129.3C1204.0 132.1 1212.9 135.6 1221.7 139.8C1230.5 143.9 1239.2 148.6 1248.0 154.3C1256.8 160.0 1266.5 167.0 1274.4 174.0C1282.3 181.0 1288.9 188.3 1295.5 196.4C1302.0 204.5 1308.6 214.0 1313.8 222.8C1319.1 231.5 1323.3 240.2 1327.0 249.0C1330.8 257.7 1333.5 266.9 1336.3 275.4C1339.1 284.0 1342.1 289.5 1343.9 300.2C1345.8 310.9 1347.0 326.5 1347.3 339.7C1347.6 352.8 1347.6 366.8 1345.6 379.2C1343.6 391.5 1338.5 405.5 1335.5 413.6C1332.6 421.7 1331.3 422.1 1328.0 427.9C1324.6 433.6 1320.0 441.3 1315.4 448.0C1310.7 454.8 1306.1 461.7 1300.2 468.5C1294.3 475.2 1287.6 481.9 1280.0 488.7C1272.4 495.4 1263.1 503.0 1254.6 508.9C1246.2 514.8 1237.6 519.3 1229.3 524.1C1221.1 529.0 1213.6 534.1 1205.3 538.1C1197.0 542.0 1188.2 545.4 1179.7 547.8C1171.2 550.3 1161.8 551.8 1154.1 552.9C1146.3 553.9 1139.9 554.2 1133.1 554.0C1126.2 553.9 1120.5 553.4 1112.9 551.9C1105.3 550.5 1096.0 548.2 1087.6 545.5C1079.1 542.7 1070.7 539.4 1062.3 535.4C1053.8 531.4 1045.4 526.9 1037.0 521.6C1028.5 516.4 1020.1 510.7 1011.6 503.9C1003.1 497.1 994.5 489.3 986.1 480.8C977.6 472.3 967.6 463.2 960.9 453.1C954.2 443.0 950.7 432.6 945.8 420.3C940.9 408.0 934.3 392.6 931.5 379.2C928.7 365.7 929.1 352.8 929.0 339.7C928.8 326.5 929.0 310.9 930.6 300.2C932.2 289.5 936.2 283.1 938.6 275.4C941.0 267.8 941.9 262.2 945.2 254.3C948.5 246.4 953.1 236.7 958.4 228.0C963.6 219.2 970.3 210.0 976.8 201.7C983.4 193.3 989.9 185.7 997.8 178.0C1005.7 170.3 1015.4 162.0 1024.2 155.6C1033.0 149.3 1041.7 144.2 1050.5 139.8C1059.3 135.4 1068.0 132.1 1076.8 129.3C1085.6 126.4 1093.5 124.3 1103.2 122.7C1112.8 121.1 1123.8 119.5 1134.8 119.5Z" fill="rgb(82,82,82)"/>
<path d="M1134.3 126.6C1144.9 126.6 1157.7 128.1 1167.4 129.6C1177.1 131.2 1184.2 133.2 1192.7 136.0C1201.1 138.7 1209.7 142.1 1218.2 146.1C1226.7 150.1 1235.1 154.6 1243.5 160.1C1252.0 165.6 1261.3 172.4 1269.0 179.1C1276.6 185.9 1282.9 192.9 1289.3 200.7C1295.6 208.5 1302.0 217.7 1307.0 226.1C1312.1 234.6 1316.1 242.9 1319.7 251.4C1323.4 259.9 1325.9 268.7 1328.7 276.9C1331.4 285.1 1334.3 290.5 1336.0 300.8C1337.8 311.1 1339.0 326.2 1339.3 338.9C1339.5 351.6 1339.5 365.1 1337.6 376.9C1335.8 388.8 1330.8 402.3 1327.9 410.1C1325.1 418.0 1323.9 418.4 1320.6 423.9C1317.4 429.5 1312.9 436.8 1308.5 443.4C1304.0 449.9 1299.6 456.5 1293.9 463.0C1288.2 469.6 1281.7 476.1 1274.4 482.6C1267.1 489.1 1258.1 496.4 1249.9 502.1C1241.8 507.8 1233.5 512.1 1225.5 516.7C1217.6 521.4 1210.4 526.4 1202.4 530.2C1194.4 534.0 1185.9 537.2 1177.7 539.6C1169.4 542.0 1160.5 543.4 1153.0 544.4C1145.5 545.4 1139.3 545.7 1132.7 545.6C1126.1 545.4 1120.6 544.9 1113.3 543.6C1106.0 542.2 1097.0 540.0 1088.8 537.3C1080.7 534.7 1072.6 531.4 1064.4 527.6C1056.3 523.8 1048.2 519.4 1040.1 514.3C1031.9 509.3 1023.8 503.8 1015.6 497.2C1007.4 490.7 999.1 483.1 991.0 474.9C982.8 466.8 973.1 457.9 966.7 448.2C960.2 438.5 956.8 428.5 952.1 416.6C947.4 404.8 941.0 389.9 938.3 376.9C935.6 364.0 936.0 351.6 935.9 338.9C935.8 326.2 936.0 311.1 937.5 300.8C939.1 290.5 942.9 284.3 945.2 276.9C947.5 269.5 948.4 264.2 951.5 256.6C954.7 248.9 959.2 239.6 964.2 231.1C969.3 222.7 975.7 213.8 982.1 205.8C988.4 197.8 994.7 190.3 1002.3 182.9C1009.9 175.5 1019.3 167.5 1027.7 161.4C1036.2 155.3 1044.6 150.3 1053.1 146.1C1061.5 141.9 1070.0 138.7 1078.4 136.0C1086.9 133.2 1094.6 131.2 1103.9 129.6C1113.2 128.1 1123.8 126.6 1134.3 126.6Z" fill="rgb(100,100,100)"/>
<path d="M1133.9 133.6C1144.1 133.6 1156.4 135.1 1165.7 136.6C1175.1 138.1 1181.9 140.0 1190.1 142.7C1198.2 145.3 1206.5 148.5 1214.6 152.4C1222.8 156.3 1230.9 160.6 1239.1 165.9C1247.2 171.2 1256.2 177.7 1263.6 184.2C1270.9 190.8 1277.0 197.5 1283.1 205.0C1289.2 212.5 1295.3 221.3 1300.2 229.5C1305.1 237.6 1309.0 245.7 1312.5 253.8C1315.9 262.0 1318.4 270.5 1321.0 278.4C1323.7 286.3 1326.4 291.5 1328.1 301.4C1329.8 311.3 1331.0 325.8 1331.3 338.1C1331.5 350.3 1331.5 363.3 1329.7 374.7C1327.9 386.2 1323.1 399.2 1320.3 406.7C1317.6 414.2 1316.4 414.6 1313.3 420.0C1310.2 425.3 1305.9 432.4 1301.6 438.7C1297.3 445.0 1293.1 451.3 1287.6 457.6C1282.1 463.9 1275.8 470.2 1268.8 476.4C1261.7 482.7 1253.1 489.7 1245.2 495.2C1237.4 500.7 1229.4 504.8 1221.7 509.3C1214.1 513.9 1207.1 518.6 1199.4 522.3C1191.8 526.0 1183.6 529.1 1175.6 531.3C1167.7 533.6 1159.1 535.1 1151.9 536.0C1144.6 537.0 1138.7 537.3 1132.4 537.1C1126.0 537.0 1120.7 536.5 1113.6 535.2C1106.6 533.8 1097.9 531.7 1090.1 529.2C1082.2 526.6 1074.4 523.5 1066.6 519.8C1058.8 516.1 1051.0 511.9 1043.1 507.0C1035.3 502.1 1027.4 496.9 1019.6 490.6C1011.7 484.2 1003.7 477.0 995.9 469.1C988.0 461.2 978.7 452.7 972.5 443.4C966.2 434.0 963.0 424.4 958.4 412.9C953.9 401.5 947.8 387.2 945.2 374.7C942.6 362.2 942.9 350.3 942.8 338.1C942.7 325.8 942.9 311.3 944.4 301.4C945.9 291.5 949.5 285.5 951.8 278.4C954.0 271.3 954.8 266.2 957.9 258.8C960.9 251.5 965.2 242.5 970.1 234.3C975.0 226.2 981.2 217.6 987.3 209.9C993.4 202.2 999.4 195.0 1006.8 187.9C1014.1 180.8 1023.1 173.1 1031.3 167.2C1039.4 161.2 1047.5 156.5 1055.7 152.4C1063.8 148.3 1071.9 145.3 1080.1 142.7C1088.3 140.0 1095.6 138.1 1104.6 136.6C1113.6 135.1 1123.7 133.6 1133.9 133.6Z" fill="rgb(114,114,114)"/>
<path d="M1133.4 143.0C1143.0 143.0 1154.7 144.4 1163.6 145.8C1172.4 147.3 1178.9 149.1 1186.6 151.6C1194.4 154.1 1202.2 157.2 1210.0 160.9C1217.7 164.5 1225.4 168.6 1233.1 173.7C1240.8 178.7 1249.4 184.9 1256.3 191.1C1263.3 197.2 1269.1 203.6 1274.9 210.7C1280.7 217.9 1286.5 226.3 1291.1 234.0C1295.8 241.7 1299.5 249.3 1302.7 257.1C1306.0 264.8 1308.4 272.8 1310.9 280.4C1313.4 287.9 1316.0 292.8 1317.6 302.2C1319.2 311.6 1320.3 325.4 1320.6 337.0C1320.8 348.6 1320.8 360.9 1319.1 371.8C1317.4 382.6 1312.8 394.9 1310.2 402.1C1307.6 409.3 1306.5 409.6 1303.6 414.7C1300.6 419.7 1296.5 426.5 1292.5 432.4C1288.4 438.4 1284.3 444.5 1279.1 450.4C1273.9 456.4 1268.0 462.3 1261.3 468.3C1254.6 474.2 1246.4 480.9 1239.0 486.1C1231.5 491.3 1223.9 495.2 1216.7 499.5C1209.4 503.8 1202.8 508.3 1195.5 511.8C1188.2 515.2 1180.5 518.2 1173.0 520.4C1165.4 522.5 1157.2 523.9 1150.4 524.8C1143.5 525.7 1137.9 526.0 1131.9 525.8C1125.8 525.7 1120.8 525.2 1114.1 524.0C1107.4 522.7 1099.2 520.7 1091.8 518.3C1084.3 515.9 1076.9 512.9 1069.5 509.4C1062.1 505.9 1054.7 501.9 1047.2 497.3C1039.8 492.6 1032.3 487.6 1024.9 481.6C1017.4 475.7 1009.8 468.8 1002.4 461.3C994.9 453.8 986.1 445.8 980.2 436.9C974.3 428.0 971.2 418.9 966.9 408.0C962.5 397.2 956.7 383.6 954.3 371.8C951.8 359.9 952.2 348.6 952.1 337.0C951.9 325.4 952.1 311.6 953.5 302.2C955.0 292.8 958.4 287.1 960.6 280.4C962.7 273.6 963.4 268.8 966.3 261.8C969.2 254.8 973.3 246.3 978.0 238.6C982.6 230.8 988.4 222.7 994.2 215.4C1000.0 208.1 1005.8 201.3 1012.7 194.5C1019.7 187.8 1028.2 180.5 1036.0 174.8C1043.7 169.2 1051.4 164.7 1059.1 160.9C1066.9 157.0 1074.6 154.1 1082.3 151.6C1090.0 149.1 1097.0 147.3 1105.5 145.8C1114.0 144.4 1123.7 143.0 1133.4 143.0Z" fill="rgb(126,126,126)"/>
<path d="M1132.5 157.1C1141.4 157.1 1152.1 158.4 1160.3 159.7C1168.4 161.0 1174.4 162.7 1181.5 165.0C1188.6 167.3 1195.8 170.1 1202.9 173.5C1210.0 176.9 1217.1 180.7 1224.2 185.3C1231.3 189.9 1239.1 195.6 1245.5 201.3C1251.9 206.9 1257.3 212.8 1262.6 219.4C1267.9 225.9 1273.2 233.6 1277.5 240.7C1281.8 247.8 1285.1 254.8 1288.2 261.9C1291.2 269.0 1293.4 276.4 1295.7 283.3C1297.9 290.3 1300.4 294.7 1301.8 303.4C1303.3 312.1 1304.3 324.7 1304.6 335.4C1304.8 346.0 1304.8 357.3 1303.2 367.3C1301.6 377.3 1297.4 388.6 1295.0 395.2C1292.7 401.8 1291.6 402.1 1288.9 406.8C1286.2 411.4 1282.5 417.6 1278.7 423.1C1275.0 428.6 1271.3 434.1 1266.5 439.6C1261.7 445.1 1256.2 450.5 1250.1 456.0C1243.9 461.5 1236.4 467.6 1229.6 472.4C1222.7 477.2 1215.7 480.8 1209.1 484.7C1202.4 488.6 1196.3 492.8 1189.6 496.0C1182.9 499.2 1175.8 501.9 1168.9 503.9C1162.0 505.9 1154.5 507.1 1148.2 507.9C1141.9 508.8 1136.7 509.0 1131.2 508.9C1125.6 508.8 1121.0 508.4 1114.8 507.2C1108.7 506.0 1101.1 504.2 1094.3 502.0C1087.5 499.7 1080.7 497.0 1073.8 493.8C1067.0 490.6 1060.2 486.9 1053.4 482.6C1046.5 478.4 1039.7 473.8 1032.8 468.3C1026.0 462.8 1019.0 456.5 1012.2 449.6C1005.3 442.7 997.2 435.3 991.8 427.2C986.3 419.0 983.5 410.6 979.5 400.6C975.6 390.7 970.2 378.2 968.0 367.3C965.7 356.4 966.0 346.0 965.9 335.4C965.8 324.7 966.0 312.1 967.3 303.4C968.6 294.7 971.8 289.5 973.7 283.3C975.7 277.2 976.4 272.7 979.0 266.3C981.7 259.9 985.4 252.0 989.7 244.9C994.0 237.8 999.4 230.4 1004.7 223.6C1010.0 216.9 1015.3 210.7 1021.7 204.5C1028.1 198.2 1035.9 191.5 1043.0 186.4C1050.1 181.2 1057.2 177.1 1064.3 173.5C1071.4 170.0 1078.5 167.3 1085.6 165.0C1092.7 162.7 1099.1 161.0 1107.0 159.7C1114.8 158.4 1123.6 157.1 1132.5 157.1Z" fill="rgb(137,137,137)"/>
<path d="M1131.7 171.2C1139.8 171.2 1149.5 172.4 1157.0 173.6C1164.4 174.8 1169.8 176.3 1176.3 178.4C1182.8 180.5 1189.4 183.1 1195.9 186.2C1202.3 189.3 1208.8 192.7 1215.3 196.9C1221.7 201.1 1228.9 206.3 1234.7 211.5C1240.6 216.7 1245.4 222.0 1250.3 228.0C1255.1 234.0 1260.0 241.0 1263.9 247.4C1267.7 253.9 1270.8 260.3 1273.6 266.8C1276.4 273.3 1278.3 280.0 1280.4 286.3C1282.5 292.6 1284.7 296.7 1286.1 304.6C1287.4 312.5 1288.3 324.0 1288.5 333.7C1288.7 343.5 1288.7 353.8 1287.3 362.9C1285.9 372.0 1282.0 382.3 1279.9 388.3C1277.7 394.3 1276.8 394.6 1274.3 398.8C1271.8 403.1 1268.4 408.7 1265.0 413.7C1261.6 418.7 1258.2 423.8 1253.8 428.8C1249.5 433.8 1244.5 438.7 1238.9 443.7C1233.3 448.7 1226.4 454.3 1220.2 458.7C1213.9 463.0 1207.6 466.3 1201.5 469.9C1195.4 473.5 1189.9 477.3 1183.8 480.2C1177.7 483.1 1171.2 485.6 1164.9 487.4C1158.5 489.2 1151.7 490.3 1145.9 491.1C1140.2 491.9 1135.5 492.1 1130.4 492.0C1125.4 491.9 1121.2 491.5 1115.6 490.4C1110.0 489.4 1103.1 487.7 1096.8 485.6C1090.6 483.6 1084.4 481.1 1078.2 478.2C1072.0 475.3 1065.7 471.9 1059.5 468.0C1053.3 464.2 1047.0 460.0 1040.8 454.9C1034.5 449.9 1028.2 444.2 1021.9 437.9C1015.7 431.6 1008.3 424.9 1003.3 417.4C998.4 410.0 995.8 402.4 992.2 393.3C988.6 384.2 983.7 372.8 981.6 362.9C979.6 353.0 979.9 343.5 979.8 333.7C979.7 324.0 979.8 312.5 981.0 304.6C982.2 296.7 985.1 292.0 986.9 286.3C988.7 280.7 989.3 276.6 991.7 270.7C994.2 264.9 997.6 257.8 1001.5 251.3C1005.4 244.8 1010.3 238.0 1015.1 231.9C1020.0 225.7 1024.8 220.1 1030.6 214.4C1036.4 208.7 1043.6 202.6 1050.1 197.9C1056.6 193.2 1063.0 189.4 1069.5 186.2C1076.0 182.9 1082.4 180.5 1088.9 178.4C1095.4 176.3 1101.2 174.8 1108.4 173.6C1115.5 172.4 1123.6 171.2 1131.7 171.2Z" fill="rgb(145,145,145)"/>
<path d="M1130.7 187.7C1137.9 187.7 1146.5 188.7 1153.1 189.8C1159.7 190.8 1164.6 192.2 1170.3 194.1C1176.0 195.9 1181.9 198.2 1187.6 200.9C1193.4 203.7 1199.1 206.7 1204.8 210.5C1210.6 214.2 1216.9 218.8 1222.1 223.4C1227.3 228.0 1231.6 232.7 1235.9 238.0C1240.2 243.3 1244.5 249.6 1248.0 255.3C1251.4 261.0 1254.1 266.7 1256.6 272.5C1259.0 278.2 1260.8 284.2 1262.6 289.8C1264.5 295.4 1266.4 299.0 1267.7 306.0C1268.9 313.0 1269.7 323.2 1269.9 331.9C1270.0 340.5 1270.0 349.6 1268.8 357.7C1267.5 365.8 1264.1 374.9 1262.2 380.2C1260.2 385.6 1259.4 385.8 1257.2 389.6C1255.0 393.4 1252.0 398.4 1249.0 402.8C1245.9 407.2 1242.9 411.7 1239.1 416.2C1235.2 420.6 1230.8 425.0 1225.8 429.4C1220.8 433.8 1214.7 438.8 1209.2 442.7C1203.7 446.5 1198.0 449.4 1192.6 452.6C1187.2 455.8 1182.3 459.2 1176.9 461.8C1171.5 464.3 1165.7 466.5 1160.1 468.1C1154.5 469.8 1148.4 470.8 1143.4 471.4C1138.3 472.1 1134.1 472.3 1129.6 472.2C1125.1 472.1 1121.4 471.8 1116.4 470.8C1111.4 469.9 1105.3 468.4 1099.8 466.6C1094.3 464.8 1088.8 462.6 1083.2 460.0C1077.7 457.4 1072.2 454.4 1066.7 451.0C1061.2 447.5 1055.6 443.8 1050.1 439.4C1044.5 434.9 1038.9 429.8 1033.4 424.2C1027.8 418.7 1021.2 412.7 1016.9 406.1C1012.5 399.5 1010.2 392.7 1006.9 384.7C1003.7 376.6 999.4 366.5 997.6 357.7C995.8 348.9 996.0 340.5 995.9 331.9C995.9 323.2 996.0 313.0 997.0 306.0C998.1 299.0 1000.7 294.8 1002.3 289.8C1003.9 284.8 1004.4 281.1 1006.6 276.0C1008.7 270.8 1011.7 264.4 1015.2 258.7C1018.7 253.0 1023.0 246.9 1027.3 241.5C1031.6 236.0 1035.9 231.0 1041.1 226.0C1046.2 221.0 1052.6 215.5 1058.3 211.3C1064.1 207.2 1069.8 203.8 1075.5 200.9C1081.3 198.1 1087.0 195.9 1092.8 194.1C1098.5 192.2 1103.7 190.8 1110.0 189.8C1116.3 188.7 1123.5 187.7 1130.7 187.7Z" fill="rgb(151,151,151)"/>
<path d="M1129.3 211.2C1135.2 211.2 1142.3 212.0 1147.7 212.9C1153.1 213.8 1157.0 214.9 1161.7 216.4C1166.4 217.9 1171.2 219.8 1175.9 222.0C1180.6 224.3 1185.3 226.8 1190.0 229.8C1194.7 232.9 1199.9 236.7 1204.1 240.4C1208.3 244.2 1211.9 248.0 1215.4 252.4C1218.9 256.7 1222.4 261.8 1225.2 266.5C1228.1 271.2 1230.3 275.8 1232.3 280.5C1234.3 285.3 1235.7 290.1 1237.3 294.7C1238.8 299.3 1240.4 302.3 1241.3 308.0C1242.3 313.7 1243.0 322.1 1243.1 329.1C1243.3 336.2 1243.3 343.7 1242.2 350.3C1241.2 356.9 1238.4 364.4 1236.8 368.8C1235.3 373.1 1234.6 373.3 1232.8 376.4C1231.0 379.5 1228.5 383.6 1226.0 387.2C1223.6 390.8 1221.1 394.5 1217.9 398.1C1214.8 401.8 1211.2 405.4 1207.1 409.0C1203.0 412.6 1198.0 416.7 1193.5 419.8C1189.0 423.0 1184.4 425.4 1180.0 428.0C1175.6 430.6 1171.5 433.3 1167.1 435.4C1162.7 437.6 1158.0 439.3 1153.4 440.7C1148.8 442.0 1143.8 442.8 1139.6 443.4C1135.5 443.9 1132.1 444.1 1128.4 444.0C1124.7 443.9 1121.7 443.6 1117.6 442.9C1113.5 442.1 1108.5 440.9 1104.0 439.4C1099.5 437.9 1095.0 436.1 1090.5 434.0C1085.9 431.9 1081.4 429.4 1076.9 426.6C1072.4 423.8 1067.9 420.8 1063.3 417.1C1058.8 413.5 1054.2 409.3 1049.6 404.8C1045.1 400.2 1039.7 395.3 1036.1 389.9C1032.5 384.5 1030.7 378.9 1028.0 372.3C1025.4 365.7 1021.9 357.5 1020.4 350.3C1018.9 343.1 1019.1 336.2 1019.1 329.1C1019.0 322.1 1019.1 313.7 1019.9 308.0C1020.8 302.3 1022.9 298.8 1024.2 294.7C1025.5 290.6 1026.0 287.7 1027.7 283.4C1029.5 279.2 1032.0 274.0 1034.8 269.3C1037.6 264.6 1041.2 259.7 1044.7 255.2C1048.2 250.8 1051.7 246.6 1055.9 242.5C1060.2 238.4 1065.4 234.0 1070.1 230.6C1074.8 227.1 1079.5 224.4 1084.2 222.0C1088.9 219.7 1093.5 217.9 1098.2 216.4C1103.0 214.9 1107.2 213.8 1112.4 212.9C1117.6 212.0 1123.4 211.2 1129.3 211.2Z" fill="rgb(155,155,155)"/>
<path d="M1127.2 246.5C1131.1 246.5 1135.8 247.0 1139.4 247.6C1143.0 248.2 1145.7 248.9 1148.8 250.0C1151.9 251.0 1155.1 252.2 1158.2 253.7C1161.4 255.2 1164.5 256.9 1167.6 258.9C1170.8 260.9 1174.2 263.4 1177.1 265.9C1179.9 268.4 1182.2 271.0 1184.6 273.9C1186.9 276.8 1189.3 280.2 1191.2 283.3C1193.0 286.5 1194.5 289.6 1195.9 292.7C1197.2 295.8 1198.2 299.1 1199.2 302.2C1200.2 305.2 1201.2 307.2 1201.9 311.0C1202.6 314.8 1203.0 320.4 1203.1 325.1C1203.2 329.8 1203.2 334.8 1202.5 339.2C1201.8 343.6 1200.0 348.6 1198.9 351.5C1197.9 354.4 1197.4 354.6 1196.2 356.6C1195.0 358.7 1193.3 361.4 1191.7 363.8C1190.1 366.2 1188.4 368.7 1186.3 371.1C1184.2 373.5 1181.8 375.9 1179.1 378.3C1176.4 380.7 1173.0 383.4 1170.0 385.6C1167.0 387.7 1163.9 389.2 1161.0 391.0C1158.0 392.7 1155.4 394.6 1152.4 396.0C1149.4 397.4 1146.3 398.6 1143.2 399.4C1140.2 400.3 1136.9 400.9 1134.1 401.2C1131.3 401.6 1129.1 401.7 1126.6 401.7C1124.2 401.6 1122.1 401.4 1119.4 400.9C1116.7 400.4 1113.4 399.6 1110.3 398.6C1107.3 397.6 1104.3 396.4 1101.3 395.0C1098.3 393.6 1095.3 392.0 1092.3 390.1C1089.3 388.2 1086.2 386.2 1083.2 383.8C1080.2 381.3 1077.1 378.5 1074.1 375.5C1071.1 372.5 1067.5 369.2 1065.1 365.6C1062.7 362.0 1061.5 358.3 1059.7 353.9C1058.0 349.5 1055.6 344.0 1054.6 339.2C1053.6 334.4 1053.8 329.8 1053.7 325.1C1053.7 320.4 1053.7 314.8 1054.3 311.0C1054.9 307.2 1056.3 304.9 1057.2 302.2C1058.0 299.4 1058.3 297.4 1059.5 294.6C1060.7 291.8 1062.3 288.3 1064.2 285.2C1066.1 282.1 1068.5 278.8 1070.8 275.8C1073.2 272.8 1075.5 270.1 1078.3 267.4C1081.1 264.6 1084.6 261.6 1087.7 259.4C1090.9 257.1 1094.0 255.3 1097.1 253.7C1100.2 252.1 1103.4 251.0 1106.5 250.0C1109.6 248.9 1112.5 248.2 1115.9 247.6C1119.4 247.0 1123.3 246.5 1127.2 246.5Z" fill="rgb(158,158,158)"/>
</g>
<rect x="880" y="70" width="520" height="540" fill="url(#toplight)"/>
<g filter="url(#soft)"><path d="M1086 338 1088 337 1136 342 1155 370 1146 393 1084 400 1081 398Z" fill="#000" fill-opacity="0.102"/><path d="M1344 348 1321 315 1350 288 1395 323 1357 350Z" fill="#000" fill-opacity="0.029"/><path d="M1292 60 1410 60 1410 82 1321 150 1263 140Z" fill="#fff" fill-opacity="0.050"/><path d="M946 60 1064 60 1082 144 1076 150 1013 143Z" fill="#fff" fill-opacity="0.014"/><path d="M1293 416 1335 421 1343 453 1307 480 1301 480 1265 453Z" fill="#fff" fill-opacity="0.007"/><path d="M1410 394 1410 485 1343 453 1335 421 1337 415 1376 390Z" fill="#000" fill-opacity="0.070"/><path d="M1215 123 1233 143 1203 191 1178 191 1176 126Z" fill="#000" fill-opacity="0.001"/><path d="M870 403 870 315 922 314 912 380Z" fill="#fff" fill-opacity="0.035"/><path d="M1136 342 1088 337 1109 271 1123 274 1152 312Z" fill="#fff" fill-opacity="0.005"/><path d="M1321 315 1344 348 1323 374 1285 365 1308 315Z" fill="#000" fill-opacity="0.021"/><path d="M1194 323 1236 304 1242 311 1246 350 1206 373 1189 365Z" fill="#000" fill-opacity="0.043"/><path d="M1250 209 1279 253 1233 283 1211 262 1230 213Z" fill="#000" fill-opacity="0.120"/><path d="M1242 311 1236 304 1233 283 1279 253 1291 254 1301 310Z" fill="#fff" fill-opacity="0.041"/><path d="M1350 288 1321 315 1308 315 1301 310 1291 254 1325 234 1353 260Z" fill="#fff" fill-opacity="0.052"/><path d="M1410 246 1410 323 1395 323 1350 288 1353 260Z" fill="#000" fill-opacity="0.062"/><path d="M962 425 950 438 870 445 870 403 912 380 965 397 967 402Z" fill="#fff" fill-opacity="0.039"/><path d="M1325 234 1291 254 1279 253 1250 209 1265 190 1302 190 1325 230Z" fill="#fff" fill-opacity="0.120"/><path d="M870 198 870 148 953 204 950 306 937 306Z" fill="#000" fill-opacity="0.063"/><path d="M950 438 962 425 1011 456 987 494 958 484Z" fill="#fff" fill-opacity="0.082"/><path d="M1076 150 1082 144 1115 149 1140 200 1092 233 1060 202Z" fill="#000" fill-opacity="0.012"/><path d="M1410 82 1410 150 1325 230 1302 190 1321 150Z" fill="#fff" fill-opacity="0.003"/><path d="M1042 521 1064 486 1087 480 1107 494 1116 547 1085 564 1054 550Z" fill="#fff" fill-opacity="0.067"/><path d="M987 494 1011 456 1031 452 1064 486 1042 521 1004 521Z" fill="#fff" fill-opacity="0.120"/><path d="M1169 620 1090 620 1085 564 1116 547 1154 560Z" fill="#000" fill-opacity="0.045"/><path d="M1236 304 1194 323 1166 308 1189 260 1211 262 1233 283Z" fill="#000" fill-opacity="0.006"/><path d="M1335 421 1293 416 1272 386 1273 371 1285 365 1323 374 1337 415Z" fill="#000" fill-opacity="0.077"/><path d="M1013 143 1076 150 1060 202 1009 210Z" fill="#fff" fill-opacity="0.033"/><path d="M1238 60 1292 60 1263 140 1249 148 1233 143 1215 123Z" fill="#000" fill-opacity="0.017"/><path d="M967 402 965 397 977 314 980 314 1024 349 1030 398Z" fill="#fff" fill-opacity="0.013"/><path d="M1178 191 1203 191 1230 213 1211 262 1189 260 1172 249 1159 204Z" fill="#fff" fill-opacity="0.057"/><path d="M1064 60 1145 60 1156 115 1115 149 1082 144Z" fill="#fff" fill-opacity="0.029"/><path d="M1206 373 1246 350 1273 371 1272 386 1221 427 1218 426Z" fill="#000" fill-opacity="0.104"/><path d="M1161 433 1167 438 1165 464 1144 489 1107 494 1087 480 1099 447Z" fill="#fff" fill-opacity="0.004"/><path d="M1362 620 1240 620 1226 538 1248 519 1264 520 1359 615Z" fill="#000" fill-opacity="0.068"/><path d="M1040 405 1081 398 1084 400 1099 447 1087 480 1064 486 1031 452Z" fill="#fff" fill-opacity="0.026"/><path d="M1146 393 1155 370 1189 365 1206 373 1218 426 1167 438 1161 433Z" fill="#000" fill-opacity="0.031"/><path d="M870 561 870 445 950 438 958 484Z" fill="#000" fill-opacity="0.031"/><path d="M1240 620 1169 620 1154 560 1172 535 1192 527 1226 538Z" fill="#fff" fill-opacity="0.036"/><path d="M870 60 946 60 1013 143 1009 210 1005 213 953 204 870 148Z" fill="#000" fill-opacity="0.077"/><path d="M1116 547 1107 494 1144 489 1172 535 1154 560Z" fill="#000" fill-opacity="0.006"/><path d="M1410 150 1410 246 1353 260 1325 234 1325 230Z" fill="#000" fill-opacity="0.022"/><path d="M1123 274 1109 271 1091 250 1092 233 1140 200 1159 204 1172 249Z" fill="#fff" fill-opacity="0.027"/><path d="M1265 190 1250 209 1230 213 1203 191 1233 143 1249 148Z" fill="#fff" fill-opacity="0.007"/><path d="M1084 400 1146 393 1161 433 1099 447Z" fill="#fff" fill-opacity="0.115"/><path d="M1410 323 1410 394 1376 390 1357 350 1395 323Z" fill="#000" fill-opacity="0.112"/><path d="M1308 315 1285 365 1273 371 1246 350 1242 311 1301 310Z" fill="#fff" fill-opacity="0.036"/><path d="M950 306 953 204 1005 213 1014 280 980 314 977 314Z" fill="#000" fill-opacity="0.020"/><path d="M1145 60 1238 60 1215 123 1176 126 1156 115Z" fill="#000" fill-opacity="0.002"/><path d="M1155 370 1136 342 1152 312 1166 308 1194 323 1189 365Z" fill="#fff" fill-opacity="0.047"/><path d="M1088 337 1086 338 1081 336 1038 282 1091 250 1109 271Z" fill="#fff" fill-opacity="0.066"/><path d="M1176 126 1178 191 1159 204 1140 200 1115 149 1156 115Z" fill="#000" fill-opacity="0.031"/><path d="M1005 213 1009 210 1060 202 1092 233 1091 250 1038 282 1014 280Z" fill="#000" fill-opacity="0.009"/><path d="M1410 485 1410 620 1362 620 1359 615 1307 480 1343 453Z" fill="#000" fill-opacity="0.056"/><path d="M1002 620 923 620 1004 521 1042 521 1054 550Z" fill="#fff" fill-opacity="0.017"/><path d="M1265 453 1301 480 1264 520 1248 519 1234 470 1239 453Z" fill="#000" fill-opacity="0.064"/><path d="M1152 312 1123 274 1172 249 1189 260 1166 308Z" fill="#000" fill-opacity="0.014"/><path d="M1218 426 1221 427 1239 453 1234 470 1196 490 1165 464 1167 438Z" fill="#fff" fill-opacity="0.007"/><path d="M965 397 912 380 922 314 937 306 950 306 977 314Z" fill="#fff" fill-opacity="0.049"/><path d="M1086 338 1081 398 1040 405 1030 398 1024 349 1081 336Z" fill="#000" fill-opacity="0.001"/><path d="M1144 489 1165 464 1196 490 1192 527 1172 535Z" fill="#000" fill-opacity="0.069"/><path d="M1234 470 1248 519 1226 538 1192 527 1196 490Z" fill="#fff" fill-opacity="0.037"/><path d="M1272 386 1293 416 1265 453 1239 453 1221 427Z" fill="#000" fill-opacity="0.020"/><path d="M1090 620 1002 620 1054 550 1085 564Z" fill="#fff" fill-opacity="0.116"/><path d="M1359 615 1264 520 1301 480 1307 480Z" fill="#000" fill-opacity="0.034"/><path d="M923 620 870 620 870 561 958 484 987 494 1004 521Z" fill="#fff" fill-opacity="0.051"/><path d="M1024 349 980 314 1014 280 1038 282 1081 336Z" fill="#fff" fill-opacity="0.048"/><path d="M922 314 870 315 870 198 937 306Z" fill="#fff" fill-opacity="0.024"/><path d="M1031 452 1011 456 962 425 967 402 1030 398 1040 405Z" fill="#fff" fill-opacity="0.120"/><path d="M1249 148 1263 140 1321 150 1302 190 1265 190Z" fill="#fff" fill-opacity="0.002"/><path d="M1376 390 1337 415 1323 374 1344 348 1357 350Z" fill="#fff" fill-opacity="0.026"/></g>
<path d="M1088 337 L1136 342M1395 323 L1357 350M1082 144 L1076 150M1335 421 L1337 415M1109 271 L1123 274M1206 373 L1189 365M1321 315 L1308 315M1353 260 L1410 246M870 403 L912 380M950 438 L962 425M1087 480 L1107 494M1011 456 L1031 452M1169 620 L1090 620M980 314 L1024 349M1203 191 L1230 213M1115 149 L1082 144M1272 386 L1221 427M1087 480 L1099 447M1040 405 L1081 398M1189 365 L1206 373M870 445 L950 438M1116 547 L1107 494M1172 249 L1123 274M1230 213 L1203 191M1376 390 L1357 350M953 204 L1005 213M1238 60 L1215 123M1152 312 L1166 308M1038 282 L1091 250M1038 282 L1014 280M1234 470 L1239 453M1221 427 L1239 453M965 397 L912 380M1081 336 L1086 338M1144 489 L1165 464M1054 550 L1085 564M1307 480 L1359 615M870 561 L958 484M1014 280 L1038 282M870 315 L870 198M1040 405 L1031 452M1302 190 L1265 190" stroke="#fff" stroke-opacity="0.16" stroke-width="1.4" fill="none" filter="url(#soft)"/>
<path d="M1112 274L1147 249L1188 262L1218 302L1150 322L1098 300Z" fill="#fff" fill-opacity="0.07" filter="url(#soft)"/>
<path d="M1147 249L1188 262L1218 302" fill="none" stroke="#fff" stroke-opacity="0.25" stroke-width="1.5" filter="url(#soft)"/>
<path d="M1140.7 126.2C1151.4 126.2 1164.3 127.7 1174.2 129.3C1184.0 130.9 1191.2 132.9 1199.8 135.7C1208.3 138.5 1217.0 141.9 1225.6 145.9C1234.2 150.0 1242.7 154.6 1251.3 160.1C1259.8 165.7 1269.3 172.5 1277.0 179.4C1284.7 186.2 1291.2 193.3 1297.6 201.2C1304.0 209.1 1310.4 218.4 1315.5 227.0C1320.7 235.5 1324.8 244.0 1328.4 252.5C1332.1 261.1 1334.7 270.0 1337.4 278.4C1340.2 286.7 1343.1 292.1 1344.9 302.6C1346.7 313.0 1347.9 328.3 1348.2 341.1C1348.5 353.9 1348.5 367.6 1346.5 379.6C1344.6 391.7 1339.6 405.3 1336.7 413.3C1333.8 421.2 1332.6 421.6 1329.3 427.2C1326.0 432.8 1321.5 440.3 1317.0 446.9C1312.5 453.5 1308.0 460.2 1302.3 466.8C1296.5 473.4 1289.9 480.0 1282.5 486.6C1275.1 493.2 1266.0 500.6 1257.7 506.3C1249.5 512.1 1241.1 516.4 1233.1 521.2C1225.0 525.9 1217.7 530.9 1209.6 534.8C1201.5 538.6 1192.9 541.9 1184.6 544.3C1176.3 546.7 1167.2 548.2 1159.6 549.2C1152.0 550.2 1145.8 550.5 1139.1 550.4C1132.4 550.2 1126.8 549.7 1119.4 548.3C1112.0 546.9 1102.9 544.7 1094.6 542.0C1086.4 539.3 1078.2 536.0 1070.0 532.2C1061.7 528.3 1053.5 523.8 1045.3 518.7C1037.0 513.6 1028.8 508.1 1020.5 501.4C1012.2 494.8 1003.8 487.1 995.6 478.9C987.3 470.6 977.5 461.6 971.0 451.8C964.4 442.0 961.0 431.8 956.2 419.8C951.4 407.8 945.0 392.8 942.3 379.6C939.5 366.5 940.0 353.9 939.8 341.1C939.7 328.3 939.9 313.0 941.5 302.6C943.0 292.1 946.9 285.8 949.2 278.4C951.6 270.9 952.4 265.5 955.6 257.8C958.9 250.1 963.4 240.6 968.5 232.0C973.7 223.5 980.1 214.5 986.6 206.4C993.0 198.2 999.4 190.7 1007.1 183.2C1014.8 175.8 1024.2 167.7 1032.8 161.4C1041.4 155.2 1049.9 150.2 1058.5 145.9C1067.0 141.6 1075.6 138.5 1084.1 135.7C1092.7 132.9 1100.5 130.9 1109.9 129.3C1119.3 127.7 1130.0 126.2 1140.7 126.2Z" fill="none" stroke="#000" stroke-opacity="0.16" stroke-width="2.2" stroke-dasharray="60 14 25 9 90 20" filter="url(#soft)"/>
<path d="M1137.2 96.0C1149.6 96.0 1164.4 97.8 1175.8 99.6C1187.1 101.5 1195.4 103.8 1205.3 107.0C1215.1 110.2 1225.1 114.1 1235.0 118.8C1244.9 123.5 1254.7 128.7 1264.6 135.2C1274.5 141.6 1285.4 149.5 1294.3 157.4C1303.2 165.3 1310.6 173.4 1318.0 182.5C1325.4 191.6 1332.8 202.3 1338.7 212.2C1344.6 222.0 1349.3 231.8 1353.5 241.7C1357.7 251.5 1360.8 261.8 1363.9 271.4C1367.1 281.0 1370.5 287.3 1372.5 299.3C1374.6 311.4 1376.0 328.9 1376.3 343.7C1376.6 358.5 1376.6 374.3 1374.4 388.1C1372.2 402.0 1366.4 417.8 1363.1 426.9C1359.8 436.0 1358.3 436.5 1354.6 442.9C1350.8 449.4 1345.6 458.0 1340.4 465.6C1335.2 473.2 1330.0 481.0 1323.4 488.6C1316.8 496.2 1309.2 503.8 1300.6 511.4C1292.1 519.0 1281.6 527.5 1272.1 534.1C1262.6 540.8 1252.9 545.8 1243.6 551.2C1234.4 556.7 1225.9 562.5 1216.6 566.9C1207.3 571.4 1197.4 575.1 1187.8 577.9C1178.2 580.7 1167.7 582.4 1159.0 583.6C1150.2 584.7 1143.0 585.1 1135.3 584.9C1127.6 584.7 1121.2 584.1 1112.7 582.5C1104.1 580.9 1093.6 578.4 1084.1 575.2C1074.6 572.1 1065.1 568.4 1055.7 563.9C1046.2 559.4 1036.7 554.3 1027.2 548.4C1017.7 542.5 1008.2 536.1 998.7 528.5C989.1 520.8 979.5 512.0 970.0 502.5C960.4 493.0 949.2 482.6 941.6 471.3C934.0 460.0 930.1 448.3 924.6 434.4C919.1 420.6 911.7 403.3 908.5 388.1C905.4 373.0 905.9 358.5 905.7 343.7C905.5 328.9 905.8 311.4 907.6 299.3C909.4 287.3 913.8 280.0 916.6 271.4C919.3 262.8 920.2 256.6 923.9 247.7C927.6 238.8 932.8 227.9 938.8 218.0C944.7 208.2 952.2 197.8 959.6 188.5C967.0 179.1 974.3 170.4 983.2 161.8C992.1 153.2 1003.0 143.8 1012.9 136.7C1022.7 129.5 1032.6 123.8 1042.4 118.8C1052.3 113.9 1062.1 110.2 1072.0 107.0C1081.9 103.8 1090.8 101.5 1101.7 99.6C1112.6 97.8 1124.9 96.0 1137.2 96.0Z" fill="none" stroke="#fff" stroke-opacity="0.15" stroke-width="2.0" stroke-dasharray="22 30 8 44 35 26 12 60" filter="url(#soft)"/>
<path d="M1137.4 106.3C1149.2 106.3 1163.4 108.0 1174.3 109.8C1185.2 111.5 1193.1 113.8 1202.5 116.8C1212.0 119.9 1221.6 123.6 1231.0 128.1C1240.5 132.6 1249.9 137.6 1259.4 143.8C1268.8 149.9 1279.3 157.5 1287.8 165.1C1296.3 172.6 1303.4 180.4 1310.5 189.1C1317.6 197.9 1324.7 208.1 1330.3 217.5C1336.0 227.0 1340.5 236.3 1344.5 245.8C1348.6 255.2 1351.5 265.1 1354.5 274.3C1357.5 283.5 1360.7 289.5 1362.7 301.0C1364.7 312.5 1366.0 329.3 1366.3 343.5C1366.6 357.7 1366.6 372.8 1364.5 386.1C1362.4 399.3 1356.8 414.4 1353.7 423.2C1350.5 431.9 1349.2 432.4 1345.5 438.6C1341.9 444.7 1336.9 453.0 1332.0 460.3C1327.0 467.6 1322.0 475.0 1315.7 482.3C1309.3 489.6 1302.0 496.8 1293.9 504.1C1285.7 511.3 1275.6 519.5 1266.5 525.9C1257.4 532.2 1248.1 537.0 1239.3 542.3C1230.4 547.5 1222.3 553.0 1213.4 557.3C1204.5 561.5 1195.0 565.1 1185.8 567.8C1176.6 570.4 1166.6 572.1 1158.2 573.2C1149.8 574.3 1143.0 574.6 1135.6 574.5C1128.2 574.3 1122.0 573.8 1113.8 572.2C1105.7 570.7 1095.6 568.2 1086.5 565.2C1077.4 562.3 1068.4 558.7 1059.3 554.4C1050.2 550.1 1041.1 545.2 1032.0 539.5C1022.9 533.9 1013.8 527.8 1004.7 520.5C995.6 513.1 986.3 504.7 977.2 495.6C968.1 486.4 957.3 476.6 950.0 465.7C942.8 454.8 939.0 443.7 933.8 430.4C928.5 417.1 921.4 400.5 918.4 386.1C915.4 371.6 915.8 357.7 915.7 343.5C915.5 329.3 915.7 312.5 917.5 301.0C919.2 289.5 923.5 282.5 926.1 274.3C928.7 266.1 929.6 260.1 933.1 251.6C936.7 243.1 941.6 232.6 947.3 223.2C953.0 213.7 960.2 203.8 967.2 194.8C974.3 185.9 981.4 177.6 989.9 169.3C998.4 161.0 1008.8 152.1 1018.3 145.2C1027.7 138.4 1037.2 132.9 1046.6 128.1C1056.1 123.4 1065.5 119.9 1074.9 116.8C1084.4 113.8 1092.9 111.5 1103.4 109.8C1113.8 108.0 1125.6 106.3 1137.4 106.3Z" fill="none" stroke="#fff" stroke-opacity="0.12" stroke-width="2.4" stroke-dasharray="40 22 10 36 18 50 28 30" filter="url(#soft)"/>
<path d="M1137.5 116.6C1148.8 116.6 1162.5 118.2 1172.8 119.9C1183.2 121.6 1190.8 123.7 1199.8 126.6C1208.9 129.6 1218.0 133.2 1227.1 137.5C1236.1 141.8 1245.1 146.5 1254.1 152.4C1263.2 158.3 1273.2 165.5 1281.3 172.7C1289.4 180.0 1296.2 187.4 1303.0 195.8C1309.8 204.1 1316.5 213.9 1322.0 222.9C1327.4 231.9 1331.7 240.9 1335.5 249.9C1339.4 258.9 1342.2 268.4 1345.1 277.2C1348.0 285.9 1351.0 291.6 1352.9 302.7C1354.8 313.7 1356.1 329.8 1356.4 343.3C1356.7 356.9 1356.7 371.3 1354.7 384.0C1352.6 396.7 1347.3 411.1 1344.3 419.4C1341.2 427.8 1340.0 428.2 1336.5 434.1C1333.0 440.1 1328.3 447.9 1323.5 454.9C1318.8 461.9 1314.0 469.0 1307.9 475.9C1301.9 482.9 1294.9 489.8 1287.1 496.8C1279.3 503.7 1269.7 511.5 1261.0 517.6C1252.3 523.7 1243.4 528.3 1234.9 533.3C1226.5 538.3 1218.7 543.6 1210.2 547.6C1201.7 551.7 1192.6 555.1 1183.8 557.7C1175.0 560.2 1165.4 561.8 1157.4 562.9C1149.4 563.9 1142.9 564.2 1135.8 564.1C1128.7 563.9 1122.9 563.4 1115.0 561.9C1107.2 560.4 1097.6 558.1 1088.9 555.2C1080.2 552.4 1071.6 549.0 1062.9 544.9C1054.2 540.8 1045.5 536.1 1036.9 530.7C1028.2 525.3 1019.5 519.4 1010.7 512.4C1002.0 505.4 993.1 497.4 984.4 488.6C975.7 479.9 965.4 470.5 958.5 460.1C951.6 449.7 948.0 439.1 942.9 426.4C937.9 413.7 931.1 397.8 928.2 384.0C925.3 370.1 925.8 356.9 925.6 343.3C925.5 329.8 925.7 313.7 927.3 302.7C929.0 291.6 933.1 285.0 935.6 277.2C938.1 269.3 938.9 263.6 942.3 255.4C945.7 247.3 950.5 237.3 955.9 228.3C961.3 219.2 968.1 209.8 974.9 201.2C981.7 192.6 988.4 184.7 996.5 176.8C1004.7 168.9 1014.7 160.4 1023.7 153.8C1032.7 147.2 1041.8 142.0 1050.8 137.5C1059.8 132.9 1068.8 129.6 1077.9 126.6C1086.9 123.7 1095.1 121.6 1105.0 119.9C1115.0 118.2 1126.2 116.6 1137.5 116.6Z" fill="none" stroke="#fff" stroke-opacity="0.10" stroke-width="2.0" stroke-dasharray="14 40 30 28 9 52 24 34" filter="url(#soft)"/>
<path d="M1137.3 101.2C1149.4 101.2 1163.9 102.9 1175.0 104.7C1186.1 106.5 1194.2 108.8 1203.9 111.9C1213.6 115.0 1223.4 118.9 1233.0 123.5C1242.7 128.1 1252.3 133.2 1262.0 139.5C1271.7 145.8 1282.3 153.5 1291.0 161.2C1299.7 168.9 1307.0 176.9 1314.3 185.8C1321.5 194.8 1328.7 205.2 1334.5 214.9C1340.3 224.5 1344.9 234.1 1349.0 243.7C1353.1 253.4 1356.1 263.5 1359.2 272.9C1362.3 282.3 1365.6 288.4 1367.6 300.1C1369.6 311.9 1371.0 329.1 1371.3 343.6C1371.6 358.1 1371.6 373.5 1369.5 387.1C1367.3 400.7 1361.6 416.1 1358.4 425.0C1355.1 434.0 1353.8 434.4 1350.0 440.8C1346.3 447.1 1341.3 455.5 1336.2 462.9C1331.1 470.4 1326.0 478.0 1319.5 485.4C1313.0 492.9 1305.6 500.3 1297.2 507.7C1288.9 515.2 1278.6 523.5 1269.3 530.0C1260.0 536.5 1250.5 541.4 1241.5 546.8C1232.4 552.1 1224.1 557.8 1215.0 562.1C1205.9 566.5 1196.2 570.1 1186.8 572.8C1177.4 575.6 1167.1 577.2 1158.6 578.4C1150.0 579.5 1143.0 579.9 1135.5 579.7C1127.9 579.5 1121.6 578.9 1113.2 577.4C1104.9 575.8 1094.6 573.3 1085.3 570.2C1076.0 567.2 1066.8 563.5 1057.5 559.1C1048.2 554.8 1038.9 549.8 1029.6 544.0C1020.3 538.2 1011.0 532.0 1001.7 524.5C992.4 517.0 982.9 508.4 973.6 499.0C964.3 489.7 953.2 479.6 945.8 468.5C938.4 457.4 934.6 446.0 929.2 432.4C923.8 418.9 916.5 401.9 913.5 387.1C910.4 372.3 910.8 358.1 910.7 343.6C910.5 329.1 910.8 311.9 912.5 300.1C914.3 288.4 918.6 281.3 921.3 272.9C924.0 264.4 924.9 258.4 928.5 249.6C932.2 240.9 937.2 230.3 943.0 220.6C948.9 210.9 956.2 200.8 963.4 191.6C970.6 182.5 977.8 174.0 986.5 165.6C995.2 157.1 1005.9 148.0 1015.6 141.0C1025.2 133.9 1034.9 128.3 1044.5 123.5C1054.2 118.6 1063.8 115.0 1073.5 111.9C1083.1 108.8 1091.9 106.5 1102.5 104.7C1113.2 102.9 1125.2 101.2 1137.3 101.2Z" fill="none" stroke="#000" stroke-opacity="0.22" stroke-width="2.4" stroke-dasharray="70 18 30 12 110 25" filter="url(#soft)"/>
<rect x="880" y="70" width="520" height="540" filter="url(#grain)" opacity="0.11"/>
<rect x="880" y="70" width="520" height="540" filter="url(#grainw)" opacity="0.09"/>
<g filter="url(#soft3)" fill="none" stroke="#fff" stroke-linecap="round">
<path d="M1220.5 244.3h.01M1223.3 242.3h.01M1226.2 241.0h.01M1229.5 240.3h.01M1231.9 238.8h.01M1235.3 238.5h.01M1223.2 279.9h.01M1225.1 279.8h.01M1239.5 278.2h.01M1242.7 277.2h.01M1287.2 177.7h.01M1308.1 207.3h.01M1309.0 203.9h.01M1309.5 199.7h.01M1208.4 280.2h.01M1211.7 279.3h.01M1211.4 285.1h.01M1212.0 287.7h.01M1212.7 292.2h.01M1213.1 295.3h.01M1214.7 297.2h.01M1215.1 300.3h.01M1216.2 303.9h.01M1218.4 310.6h.01M1218.9 313.7h.01M1202.5 266.1h.01M1204.0 268.8h.01M1248.9 281.4h.01M1250.3 283.9h.01M1250.4 286.9h.01M1203.7 273.0h.01M1209.7 271.0h.01M1216.0 269.4h.01M1224.7 266.9h.01M1228.7 266.0h.01M1232.3 264.1h.01M1286.9 280.6h.01M1290.9 279.0h.01M1299.7 278.5h.01M1244.4 239.9h.01M1245.7 236.5h.01M1249.7 233.0h.01M1337.3 218.8h.01M1338.6 221.5h.01M1340.8 225.2h.01M1342.9 231.1h.01M1232.3 256.2h.01M1237.0 260.3h.01M1239.7 261.8h.01M1242.4 263.4h.01M1244.2 266.6h.01M1246.4 269.7h.01M1248.5 271.0h.01M1248.8 201.4h.01M1252.2 201.9h.01M1255.8 203.0h.01M1258.8 203.2h.01M1240.3 253.3h.01M1238.7 256.3h.01M1252.5 169.3h.01M1253.5 170.9h.01M1257.0 172.4h.01M1221.7 203.9h.01M1222.3 206.6h.01M1224.0 210.3h.01M1334.0 277.1h.01M1331.2 280.7h.01M1330.3 282.3h.01M1329.2 284.0h.01M1201.7 268.1h.01M1199.7 270.8h.01M1226.0 189.6h.01M1224.9 191.8h.01M1221.7 192.9h.01M1219.9 196.4h.01M1221.7 224.8h.01M1218.8 227.9h.01M1236.8 243.7h.01M1239.5 250.1h.01M1240.2 252.3h.01M1222.3 252.0h.01M1202.2 298.8h.01M1205.8 300.4h.01M1202.4 342.6h.01M1203.5 346.3h.01M1206.3 352.4h.01M1207.5 355.8h.01M1208.8 358.6h.01M1211.4 363.8h.01M1317.7 361.1h.01M1314.7 400.6h.01M1320.0 402.8h.01M1337.4 394.5h.01M1342.7 396.1h.01M1340.2 324.9h.01M1235.8 311.8h.01M1238.8 312.9h.01M1242.0 315.5h.01M1243.7 314.9h.01M1289.2 310.4h.01M1286.8 312.7h.01M1281.8 316.7h.01M1292.7 347.4h.01M1285.8 356.4h.01M1278.4 347.2h.01M1281.9 351.4h.01M1286.8 356.7h.01M1301.3 349.5h.01M1298.0 355.4h.01M1296.5 358.3h.01M1295.3 359.8h.01M1292.4 364.1h.01M1292.5 366.3h.01M1290.1 368.9h.01M1287.3 375.4h.01M1247.6 345.0h.01M1315.7 297.2h.01M1317.5 300.1h.01M1323.2 305.1h.01M1277.9 349.3h.01M1281.8 348.7h.01M1284.9 348.9h.01M1288.1 348.2h.01M1292.8 348.7h.01M1301.0 348.1h.01M1306.1 348.0h.01M1312.3 347.6h.01M1273.3 386.6h.01M1278.0 382.7h.01M1280.6 380.9h.01M1239.0 285.2h.01M1316.5 248.4h.01M1318.2 245.9h.01M1319.7 315.1h.01M1322.7 314.6h.01M1326.5 314.7h.01M1329.2 314.3h.01M1331.8 314.1h.01M1335.4 312.5h.01M1320.7 392.0h.01M1321.7 393.5h.01M1324.0 396.9h.01M1305.9 377.4h.01M1293.1 310.7h.01M1293.1 312.8h.01M1288.1 318.8h.01M1286.7 321.2h.01M1327.1 357.4h.01M1329.1 358.4h.01M1331.9 361.3h.01M1334.9 364.1h.01M1280.2 311.8h.01M1282.4 313.9h.01M1288.1 317.7h.01M1295.7 294.7h.01M1297.9 292.5h.01M1301.3 286.8h.01M1303.2 283.2h.01M1296.2 369.9h.01M1236.2 415.1h.01M1281.8 438.4h.01M1286.7 445.5h.01M1200.9 396.9h.01M1198.8 400.3h.01M1196.8 402.5h.01M1206.2 407.1h.01M1207.7 411.6h.01M1208.9 417.2h.01M1210.2 420.1h.01M1211.7 423.6h.01M1211.4 427.1h.01M1257.4 374.3h.01M1260.3 371.4h.01M1263.4 370.6h.01M1267.6 369.6h.01M1269.8 369.5h.01M1273.0 367.4h.01M1276.2 366.8h.01M1280.0 366.3h.01M1282.1 364.1h.01M1285.2 364.0h.01M1220.6 395.7h.01M1160.5 431.9h.01M1162.6 435.4h.01M1166.1 442.2h.01M1168.4 444.1h.01M1168.9 446.5h.01M1244.6 381.0h.01M1173.0 363.2h.01M1170.0 365.1h.01M1168.7 368.3h.01M1235.9 421.2h.01M1253.0 452.0h.01M1184.6 422.7h.01M1188.0 422.7h.01M1190.9 422.0h.01M1194.0 422.0h.01M1200.9 422.0h.01M1250.2 383.5h.01M1251.4 386.4h.01M1255.1 396.8h.01M1256.6 400.5h.01M1255.9 402.9h.01M1257.7 406.0h.01M1258.6 410.2h.01M1258.9 412.7h.01M1230.5 463.0h.01M1228.9 465.8h.01M1228.0 467.5h.01M1226.2 470.4h.01M1223.9 477.5h.01M1233.4 386.3h.01M1241.7 393.2h.01M1245.5 398.0h.01M1223.3 373.6h.01M1222.0 376.9h.01M1219.7 381.8h.01M1217.7 385.4h.01M1218.0 389.1h.01M1216.4 390.2h.01M1210.9 431.6h.01M1272.2 435.1h.01M1278.6 434.8h.01M1282.2 434.6h.01M1284.9 434.5h.01M1288.5 434.6h.01M1291.7 434.2h.01M1294.8 434.3h.01M1293.9 342.4h.01M1295.9 342.6h.01M1299.9 341.7h.01M1225.9 378.2h.01M1224.5 380.8h.01M1219.4 385.4h.01M1219.1 387.7h.01M1216.6 391.2h.01M1188.1 367.7h.01M1191.1 370.1h.01M1179.5 476.1h.01M1178.6 478.0h.01M1176.5 481.4h.01M1105.3 457.8h.01M1105.7 459.6h.01M1111.5 469.1h.01M1114.3 471.5h.01M1116.7 477.5h.01M1119.0 419.1h.01M1120.9 417.7h.01M1126.3 412.7h.01M1128.2 410.5h.01M1130.4 406.8h.01M1215.5 453.6h.01M1216.4 456.9h.01M1183.4 443.0h.01M1152.3 486.6h.01M1153.5 493.0h.01M1155.4 496.6h.01M1155.6 499.8h.01M1184.8 484.1h.01M1180.0 492.9h.01M1207.3 440.1h.01M1208.1 443.4h.01M1209.1 445.7h.01M1164.2 470.6h.01M1167.8 470.1h.01M1173.7 469.1h.01M1252.6 472.0h.01M1256.1 470.1h.01M1184.4 489.6h.01M1185.4 491.6h.01M1186.0 495.2h.01M1182.4 477.6h.01M1170.0 494.1h.01M1174.3 489.5h.01M1176.2 486.5h.01M1178.1 484.4h.01M1181.3 482.7h.01M1218.9 432.0h.01M1221.4 430.8h.01M1224.0 429.7h.01M1080.9 488.8h.01M1085.6 492.3h.01M1192.1 407.9h.01M1192.3 412.3h.01M1192.9 416.2h.01M1168.4 453.3h.01M1161.4 449.5h.01M1161.0 452.4h.01M1160.5 456.0h.01M1159.6 459.7h.01M1159.6 462.7h.01M1158.3 465.2h.01M1220.4 471.4h.01M1223.8 470.1h.01M1227.1 470.3h.01M1233.1 468.3h.01M1237.1 467.9h.01M1005.1 481.9h.01M1006.7 485.8h.01M1006.4 491.7h.01M1007.3 493.7h.01M1007.1 501.2h.01M1109.3 476.3h.01M1110.7 473.1h.01M1111.8 470.0h.01M1113.7 466.8h.01M1163.2 457.5h.01M1164.7 460.2h.01M1167.2 461.4h.01M1172.9 464.3h.01M1175.0 467.5h.01M1178.6 469.9h.01M1181.3 471.2h.01M1039.6 498.4h.01M1040.1 501.7h.01M1039.6 504.5h.01M1042.0 507.0h.01M1042.8 512.4h.01M1046.0 523.7h.01M977.9 446.3h.01M979.8 443.7h.01M984.3 440.3h.01M987.5 437.6h.01M992.2 431.6h.01M1093.1 479.8h.01M1096.6 474.1h.01M1097.3 470.3h.01M1098.5 467.3h.01M1099.6 464.4h.01M1102.4 458.5h.01M1104.0 455.3h.01M1105.4 452.7h.01M1119.6 432.6h.01M1123.4 429.8h.01M1125.5 428.6h.01M1130.4 425.5h.01M1133.9 424.5h.01M1137.1 422.0h.01M1139.4 420.7h.01M1161.4 492.9h.01M1163.0 492.8h.01M1166.8 492.2h.01M1177.2 490.5h.01M1182.4 489.8h.01M1185.7 490.3h.01M1189.1 490.1h.01M1079.7 453.1h.01M1093.4 450.8h.01M1095.4 450.5h.01M1099.7 449.6h.01M1102.2 449.1h.01M1078.5 467.3h.01M1103.6 459.9h.01M1068.1 426.7h.01M1066.1 429.1h.01M1062.0 433.9h.01M1124.5 513.3h.01M1096.1 467.5h.01M1105.8 466.3h.01M1109.3 466.4h.01M997.0 436.5h.01M999.1 433.9h.01M1003.1 432.0h.01M1006.6 427.2h.01M1031.4 473.1h.01M1034.0 471.4h.01M1010.6 478.0h.01M989.4 446.0h.01M991.5 443.6h.01M994.6 441.1h.01M999.0 438.1h.01M1002.7 435.7h.01M1007.5 432.2h.01M1016.0 454.7h.01M1015.6 457.7h.01M1061.6 411.2h.01M1064.8 410.5h.01M981.2 456.8h.01M939.4 444.6h.01M940.0 449.0h.01M941.5 453.7h.01M943.1 457.6h.01M1240.8 425.0h.01M1243.0 426.0h.01M1246.3 428.7h.01M1248.0 429.5h.01M1252.3 431.6h.01M1253.5 434.4h.01M1257.7 436.0h.01M1262.7 439.5h.01M1265.3 441.7h.01M1221.4 477.3h.01M1220.9 480.8h.01M1219.5 483.2h.01M1217.8 490.2h.01M1295.6 425.9h.01M1298.2 425.5h.01M1301.6 425.5h.01M1305.0 425.4h.01M1308.5 424.9h.01M1311.2 426.2h.01M1313.9 425.1h.01M1236.3 460.6h.01M1238.1 467.1h.01M1240.4 470.2h.01M1245.8 482.0h.01M1245.1 485.3h.01M1258.5 478.0h.01M1280.2 435.4h.01M1275.4 439.8h.01M1273.8 443.7h.01M1345.6 420.9h.01M1242.6 445.8h.01M1243.6 449.8h.01M1320.3 454.7h.01M1323.9 455.2h.01M1302.7 471.2h.01M1304.3 474.7h.01M1305.8 476.6h.01M1307.5 483.7h.01M1308.8 486.8h.01M1308.6 490.1h.01M1261.7 446.5h.01M1264.3 452.1h.01M1265.2 456.3h.01M1267.0 462.1h.01M1268.4 468.9h.01M1268.7 472.6h.01M1307.4 465.7h.01M1239.4 340.5h.01M1208.6 359.2h.01M1220.8 358.0h.01M1224.1 352.4h.01M1226.9 346.4h.01M1175.9 346.3h.01M1179.9 345.9h.01M1184.1 346.6h.01M1174.9 344.2h.01M1178.6 343.2h.01M1180.0 342.4h.01M1184.2 340.5h.01M1190.6 338.7h.01M1194.2 337.6h.01M1197.5 338.0h.01M1171.0 343.9h.01M1168.1 349.9h.01M1177.5 360.7h.01M1177.6 357.2h.01M1178.6 355.4h.01M1180.1 351.4h.01M1180.4 347.5h.01M1182.3 341.4h.01M1183.2 338.9h.01M1125.5 369.7h.01M1128.0 366.2h.01M1134.9 360.1h.01M1137.4 356.4h.01M1139.7 354.8h.01M1144.6 349.4h.01M1147.7 347.3h.01M1129.9 374.8h.01M1132.0 374.5h.01M1136.5 374.2h.01M1147.0 375.1h.01M1201.9 380.4h.01M1199.9 381.8h.01M1197.8 383.4h.01M1191.8 389.4h.01M1189.9 390.4h.01M1201.4 415.4h.01M1176.7 393.0h.01M1179.7 391.1h.01M1183.3 390.7h.01M1186.0 388.6h.01M1194.4 385.6h.01M1201.7 382.2h.01M1204.4 380.5h.01M1234.0 378.3h.01M1234.9 384.6h.01M1236.9 387.5h.01M1237.1 391.1h.01M1237.6 394.4h.01M1238.6 397.9h.01M1240.3 401.1h.01M1240.7 403.9h.01M1241.7 406.8h.01M1226.3 345.9h.01M1229.3 344.7h.01M1232.7 343.8h.01M1238.3 343.0h.01M1241.7 342.0h.01M1244.6 342.4h.01M1249.7 340.2h.01M1252.0 339.8h.01M1255.1 340.1h.01M1174.6 391.3h.01M1177.2 390.4h.01M1180.1 389.3h.01M1175.8 340.3h.01M1177.0 342.2h.01M1179.3 345.5h.01M1180.4 348.4h.01M1244.9 366.7h.01M1246.9 368.0h.01M1250.5 369.5h.01M1029.1 533.4h.01M1032.7 531.6h.01M1034.8 530.1h.01M1037.5 527.8h.01M1039.9 525.3h.01M1045.7 521.2h.01M1119.8 517.1h.01M1119.8 519.9h.01M1121.3 530.4h.01M1085.0 541.1h.01M1089.9 545.5h.01M1095.5 548.6h.01M1098.7 549.7h.01M1101.9 552.1h.01M1107.2 555.7h.01M1110.6 556.7h.01M1137.1 526.5h.01M1136.2 530.2h.01M1168.9 508.8h.01M1170.6 506.5h.01M1133.3 538.2h.01M1122.5 516.3h.01M1128.3 511.2h.01M1130.1 508.7h.01M1132.1 506.8h.01M1133.2 504.4h.01M921.4 305.9h.01M910.6 336.0h.01M913.6 337.4h.01M917.2 340.6h.01M918.7 340.6h.01M925.0 345.3h.01M927.7 347.3h.01M929.6 349.2h.01M934.4 353.0h.01M932.9 305.0h.01M939.6 306.8h.01M943.0 308.4h.01M945.9 309.1h.01M933.8 272.3h.01M934.5 270.0h.01M939.6 262.4h.01M943.8 256.1h.01M945.3 253.5h.01M914.4 276.5h.01M909.8 281.8h.01M907.8 284.7h.01M907.2 288.4h.01M922.3 323.9h.01M920.0 327.8h.01M917.2 332.3h.01M915.2 335.4h.01M912.4 340.5h.01M909.3 342.8h.01M920.5 358.4h.01M919.5 360.7h.01M916.5 370.4h.01M926.7 276.0h.01M932.1 279.0h.01M937.7 281.7h.01M913.6 288.2h.01M915.4 284.8h.01M917.1 282.6h.01M918.7 361.1h.01M921.4 360.4h.01M928.6 357.0h.01M931.1 356.8h.01M935.1 355.0h.01M933.6 279.6h.01M930.8 285.7h.01M927.1 295.4h.01M925.7 298.1h.01M924.2 301.0h.01M938.4 257.7h.01M940.7 255.8h.01M943.3 253.2h.01M945.9 250.4h.01M925.9 331.9h.01M927.5 330.5h.01M928.6 326.8h.01M931.6 323.3h.01M935.5 319.2h.01M937.8 317.1h.01M939.0 313.3h.01M941.7 310.6h.01M944.7 308.5h.01M1342.9 289.7h.01M1346.3 288.8h.01M1349.3 287.3h.01M1352.2 287.8h.01M1355.2 286.0h.01M1349.7 350.5h.01M1348.6 351.6h.01M1345.8 354.5h.01M1343.2 356.2h.01M1341.0 359.6h.01M1333.5 366.6h.01M1364.5 337.8h.01M1368.4 337.6h.01M1358.7 267.1h.01M1358.1 288.6h.01M1362.2 288.0h.01M1350.6 269.2h.01M1356.8 268.9h.01M1363.0 270.0h.01M1357.7 339.3h.01M1360.1 308.5h.01M1362.7 309.8h.01M1365.6 310.6h.01M1368.9 312.6h.01M1371.9 313.3h.01M1352.9 316.9h.01M1349.7 322.1h.01M1347.5 325.6h.01M1345.3 327.0h.01M1231.2 169.8h.01M1229.2 172.3h.01M1227.2 174.1h.01M1245.3 185.5h.01M1242.4 187.1h.01M1237.1 196.0h.01M1234.3 197.6h.01M1176.7 207.2h.01M1174.7 211.1h.01M1172.9 214.1h.01M1170.8 220.8h.01M1169.2 223.3h.01M1168.2 225.9h.01M1167.0 228.8h.01M1165.3 231.3h.01M1163.8 235.5h.01M1200.3 220.6h.01M1203.8 220.5h.01M1127.4 158.5h.01M1221.6 172.2h.01M1225.2 172.6h.01M1228.7 172.8h.01M1231.7 172.4h.01M1235.4 174.7h.01M1237.4 174.6h.01M1242.5 174.5h.01M1245.1 174.7h.01M1248.6 175.0h.01M1224.7 180.2h.01M1228.7 175.1h.01M1232.1 169.4h.01M1233.1 166.5h.01M1152.0 155.6h.01M1154.6 157.3h.01M1266.0 189.5h.01M1267.5 192.5h.01M1268.7 198.2h.01M1277.4 160.6h.01M1283.4 152.9h.01M1285.9 150.1h.01M1287.3 147.4h.01M1288.8 145.2h.01M1205.6 186.6h.01M1201.6 192.9h.01M1199.1 195.4h.01M1198.1 197.6h.01M1196.0 200.4h.01M1192.5 204.4h.01M1190.9 208.6h.01M1195.6 155.7h.01M1196.3 162.4h.01M1272.7 178.9h.01M1275.0 181.1h.01M1277.2 182.7h.01M1280.9 184.0h.01M1283.1 186.9h.01M1198.5 157.2h.01M1200.0 155.7h.01M1203.4 152.0h.01M1169.9 158.7h.01M1125.1 191.9h.01M1126.3 194.5h.01M1005.6 153.5h.01M1006.9 160.0h.01M1009.5 164.3h.01M1008.5 165.9h.01M1011.0 170.1h.01M1040.8 139.1h.01M1044.6 132.5h.01M1046.1 129.4h.01M1032.4 149.3h.01M1079.1 137.2h.01M1084.0 129.4h.01M1087.3 124.3h.01M1090.9 119.0h.01M1047.0 173.3h.01M1056.1 167.6h.01M1059.1 167.6h.01M1061.7 165.8h.01M1065.6 164.8h.01M1067.8 163.3h.01M1070.7 160.8h.01M1074.8 160.9h.01M1163.3 128.4h.01M1164.7 131.7h.01M1163.5 136.0h.01M1165.0 145.7h.01M1165.8 148.1h.01M1165.6 151.4h.01M1038.4 138.6h.01M1008.0 180.5h.01M1006.3 182.7h.01M935.7 458.0h.01M984.2 476.6h.01M986.5 479.3h.01M989.0 481.9h.01M990.0 483.5h.01M994.7 489.6h.01M997.1 492.6h.01M929.7 447.8h.01M932.5 445.0h.01M934.2 442.8h.01M936.8 441.9h.01M939.3 438.9h.01M967.7 456.4h.01M969.8 459.4h.01M971.3 462.6h.01M973.0 465.1h.01M974.8 468.1h.01M975.9 470.3h.01M977.7 473.7h.01M978.8 476.5h.01M983.2 463.9h.01M986.4 462.6h.01M988.6 460.3h.01M1220.0 515.0h.01M1226.2 512.8h.01M1229.4 512.6h.01M1236.8 511.5h.01M1245.3 550.0h.01M1250.9 542.6h.01M1253.0 538.9h.01M1254.5 535.5h.01M1228.5 525.3h.01M1231.3 527.4h.01M1234.0 526.8h.01M1237.5 529.5h.01M1241.2 529.4h.01M1231.8 492.8h.01M1231.6 497.3h.01M1216.8 525.7h.01M1220.1 528.1h.01M1222.0 530.0h.01M1225.4 532.7h.01M1211.2 525.2h.01M1215.1 539.7h.01M1215.2 542.7h.01M1215.8 546.0h.01M1216.9 552.7h.01M1216.7 559.0h.01M1217.6 562.8h.01M1218.4 566.6h.01M1202.5 283.1h.01M1206.3 284.0h.01M1208.1 283.1h.01M1211.6 285.2h.01M1216.1 285.6h.01M1152.6 304.1h.01M1155.4 305.3h.01M1103.3 311.3h.01M1113.5 307.3h.01M1114.3 313.1h.01M1115.7 315.9h.01M1201.3 280.1h.01M1205.2 279.9h.01M1210.3 278.8h.01M1213.8 279.1h.01M1224.4 275.6h.01M1178.1 298.6h.01M1181.0 297.6h.01M1185.2 296.7h.01M1188.0 295.9h.01M1193.4 295.7h.01M1016.5 527.6h.01M1019.6 528.8h.01M1028.7 533.4h.01M1034.7 535.2h.01M1037.6 537.2h.01M968.5 505.8h.01M971.1 509.5h.01M979.1 511.2h.01M978.2 513.7h.01M997.9 518.3h.01M995.7 519.7h.01M970.8 504.1h.01M1004.6 520.8h.01M1007.8 521.2h.01M1010.8 521.3h.01M988.2 520.4h.01M989.5 518.8h.01M1011.7 181.3h.01M1014.5 182.8h.01M1016.8 184.9h.01M1019.7 185.8h.01M1021.7 189.1h.01M985.4 153.3h.01M988.0 153.5h.01M992.4 152.8h.01M997.8 150.8h.01M967.6 171.7h.01M969.4 168.6h.01M973.7 163.6h.01M975.8 161.1h.01M978.5 158.1h.01" stroke-opacity="0.45" stroke-width="2.0"/>
<path d="M1237.6 236.2h.01M1242.1 235.6h.01M1229.8 278.3h.01M1232.3 278.5h.01M1235.8 277.8h.01M1246.4 276.1h.01M1216.7 307.0h.01M1201.1 263.6h.01M1206.1 272.0h.01M1212.3 270.6h.01M1219.2 268.4h.01M1222.0 267.8h.01M1293.6 278.3h.01M1297.1 278.5h.01M1249.4 235.0h.01M1253.3 230.2h.01M1341.4 228.3h.01M1344.0 234.6h.01M1235.4 257.4h.01M1274.0 205.8h.01M1241.8 250.6h.01M1219.2 200.5h.01M1337.7 272.2h.01M1335.4 274.0h.01M1202.5 260.7h.01M1201.5 263.6h.01M1238.3 246.9h.01M1242.6 255.3h.01M1204.0 349.8h.01M1209.2 360.9h.01M1312.4 398.3h.01M1317.4 401.9h.01M1323.1 404.5h.01M1339.9 395.9h.01M1285.7 314.8h.01M1290.4 350.1h.01M1288.9 352.9h.01M1279.9 350.2h.01M1284.6 354.0h.01M1289.3 359.7h.01M1300.1 352.3h.01M1289.1 372.1h.01M1244.6 347.7h.01M1320.2 303.5h.01M1295.0 348.6h.01M1298.4 347.9h.01M1309.3 346.6h.01M1275.3 385.2h.01M1241.4 282.2h.01M1237.4 287.8h.01M1320.8 242.9h.01M1305.6 374.3h.01M1291.1 315.0h.01M1324.8 355.1h.01M1285.5 316.3h.01M1299.8 289.1h.01M1294.1 368.5h.01M1246.0 367.6h.01M1246.2 371.3h.01M1236.4 414.1h.01M1238.6 409.2h.01M1283.7 440.6h.01M1283.8 443.3h.01M1287.6 449.4h.01M1205.3 404.3h.01M1208.2 414.1h.01M1219.4 399.2h.01M1218.9 401.9h.01M1164.0 438.3h.01M1216.7 369.1h.01M1218.0 372.5h.01M1243.5 447.4h.01M1247.2 449.5h.01M1250.8 451.1h.01M1255.7 454.0h.01M1258.8 456.0h.01M1178.0 424.3h.01M1181.5 423.4h.01M1198.0 422.9h.01M1253.6 390.4h.01M1254.3 393.6h.01M1231.3 459.1h.01M1225.2 474.5h.01M1223.5 481.1h.01M1235.9 389.2h.01M1237.8 391.8h.01M1243.1 395.8h.01M1224.8 369.1h.01M1221.0 379.0h.01M1208.9 429.8h.01M1275.8 435.1h.01M1285.7 342.1h.01M1290.3 343.5h.01M1221.7 382.5h.01M1194.1 371.0h.01M1109.1 462.9h.01M1109.9 466.5h.01M1114.6 475.5h.01M1122.9 416.3h.01M1218.0 460.0h.01M1219.1 462.8h.01M1187.1 440.9h.01M1188.5 438.9h.01M1152.8 491.0h.01M1157.5 503.5h.01M1187.2 482.6h.01M1182.7 487.8h.01M1181.3 489.6h.01M1171.0 470.1h.01M1171.4 491.5h.01M1228.0 428.9h.01M1230.1 428.2h.01M1083.2 490.2h.01M1088.3 493.6h.01M1227.8 486.1h.01M1230.3 469.2h.01M1005.6 477.6h.01M1006.1 487.7h.01M1007.6 498.1h.01M1159.4 455.2h.01M1169.0 464.1h.01M1183.7 473.4h.01M1038.8 494.6h.01M1043.6 514.0h.01M1043.7 517.6h.01M1045.1 520.3h.01M982.5 442.1h.01M988.3 434.6h.01M993.6 430.5h.01M1094.4 476.6h.01M1101.1 461.8h.01M1116.1 433.7h.01M1129.0 427.8h.01M1142.7 419.5h.01M1170.3 490.8h.01M1173.3 491.7h.01M1179.9 491.1h.01M1082.8 453.9h.01M1086.0 452.5h.01M1089.8 452.5h.01M1099.5 458.2h.01M1063.8 431.2h.01M1038.4 502.9h.01M1099.5 466.5h.01M1102.0 467.6h.01M1003.8 428.8h.01M1009.4 480.4h.01M987.1 448.5h.01M996.3 440.8h.01M1004.5 434.0h.01M1010.8 430.4h.01M1057.0 413.2h.01M941.7 451.4h.01M943.7 460.8h.01M1033.5 399.4h.01M1003.0 457.8h.01M1260.5 437.8h.01M1218.6 487.1h.01M1222.4 411.0h.01M1317.9 425.0h.01M1321.7 425.2h.01M1325.4 423.9h.01M1234.5 457.5h.01M1238.0 463.7h.01M1241.7 472.3h.01M1242.9 476.2h.01M1243.9 478.9h.01M1281.7 432.1h.01M1278.4 438.3h.01M1340.2 424.8h.01M1343.2 423.1h.01M1349.0 418.9h.01M1317.9 455.6h.01M1302.7 467.8h.01M1306.3 480.5h.01M1261.6 443.8h.01M1263.4 448.3h.01M1264.6 459.3h.01M1266.0 466.2h.01M1224.8 427.0h.01M1227.8 429.2h.01M1305.9 468.8h.01M1216.3 348.2h.01M1214.7 351.9h.01M1212.4 355.0h.01M1209.5 358.0h.01M1206.0 362.7h.01M1219.5 361.6h.01M1222.3 354.6h.01M1225.8 349.0h.01M1166.3 346.3h.01M1170.3 346.4h.01M1173.1 346.5h.01M1188.3 340.3h.01M1199.9 336.5h.01M1203.8 335.5h.01M1169.6 346.6h.01M1181.3 345.0h.01M1131.3 365.0h.01M1132.7 361.2h.01M1142.6 352.1h.01M1139.8 375.0h.01M1143.9 374.4h.01M1194.8 386.5h.01M1187.9 392.8h.01M1185.0 395.4h.01M1181.8 398.2h.01M1180.2 399.5h.01M1145.6 359.2h.01M1189.3 387.2h.01M1191.9 385.8h.01M1198.1 383.1h.01M1235.3 380.8h.01M1235.8 344.0h.01M1170.8 392.6h.01M1182.4 351.3h.01M1027.2 536.2h.01M1042.6 523.8h.01M1121.0 523.5h.01M1119.9 526.4h.01M1121.7 533.4h.01M1122.2 537.1h.01M1122.7 540.0h.01M1086.7 544.0h.01M1093.9 546.8h.01M1105.2 552.9h.01M1049.1 526.4h.01M1175.0 507.6h.01M1177.8 504.9h.01M1125.3 513.9h.01M922.4 344.1h.01M932.8 350.1h.01M936.8 307.2h.01M936.7 267.1h.01M938.5 264.2h.01M942.8 259.4h.01M912.5 279.1h.01M925.7 319.0h.01M923.7 321.5h.01M918.9 329.9h.01M913.0 338.3h.01M920.9 354.7h.01M917.3 364.5h.01M917.1 367.9h.01M929.6 276.5h.01M935.6 280.4h.01M925.2 359.2h.01M932.0 282.9h.01M929.6 289.3h.01M927.0 292.2h.01M935.7 259.7h.01M933.6 321.2h.01M1338.2 361.1h.01M1336.6 364.2h.01M1355.2 337.8h.01M1357.9 337.3h.01M1361.6 336.7h.01M1355.3 287.5h.01M1353.3 268.8h.01M1359.0 270.2h.01M1366.7 272.2h.01M1351.3 319.6h.01M1343.4 329.9h.01M1340.8 332.3h.01M1339.4 335.0h.01M1240.8 190.7h.01M1238.3 192.8h.01M1172.4 217.4h.01M1197.4 221.1h.01M1126.1 161.0h.01M1219.6 171.4h.01M1226.0 176.9h.01M1230.8 172.0h.01M1157.4 159.2h.01M1159.3 161.5h.01M1268.3 197.0h.01M1269.8 202.3h.01M1280.3 159.3h.01M1280.7 156.8h.01M1271.4 173.0h.01M1207.6 184.1h.01M1203.5 188.7h.01M1193.7 202.6h.01M1194.9 158.7h.01M1196.5 165.7h.01M1203.8 152.2h.01M1201.9 149.3h.01M1124.5 185.1h.01M1124.9 188.2h.01M1006.5 156.9h.01M1042.9 136.2h.01M1080.4 135.5h.01M1081.3 132.5h.01M1085.7 126.9h.01M1089.6 121.9h.01M1050.1 171.4h.01M1052.7 170.4h.01M1164.9 139.1h.01M1164.5 141.8h.01M1041.7 139.1h.01M1004.3 186.0h.01M982.5 473.6h.01M993.1 487.7h.01M1224.0 513.8h.01M1232.5 511.4h.01M1247.4 547.3h.01M1249.5 544.5h.01M1232.0 499.0h.01M1232.7 502.0h.01M1207.7 522.0h.01M1214.0 536.8h.01M1216.2 549.4h.01M1217.4 555.1h.01M1218.7 285.8h.01M1104.3 308.3h.01M1113.3 310.1h.01M1116.8 319.2h.01M1118.7 322.1h.01M1207.9 280.3h.01M1218.3 277.4h.01M1220.1 276.5h.01M1190.9 295.5h.01M1021.3 530.4h.01M1025.4 531.7h.01M1032.3 533.2h.01M971.9 512.4h.01M973.6 515.2h.01M995.1 522.7h.01M967.5 503.2h.01M983.4 524.7h.01M1009.9 179.2h.01M994.7 151.4h.01M972.9 166.6h.01" stroke-opacity="0.62" stroke-width="2.8"/>
</g>
<path d="M989.5 442.8l12.1 -2.2M1192.5 358.8l8.6 4.9M1269.2 235.8l-6.6 5.8M1023.3 397.9l13.2 6.8M1167.4 497.7l6.4 13.3M1180.9 393.3l9.3 4.1M1299.1 334.7l7.9 -2.0M1274.1 252.2l-4.6 7.9M1147.9 395.3l4.0 -5.7M1227.7 211.0l-4.0 6.9M1186.6 365.5l11.9 -1.1M1003.7 451.0l5.4 -8.6M997.3 456.7l3.9 9.2M1206.6 420.9l8.5 8.6M1268.7 498.7l-6.4 9.9M1226.4 373.6l8.1 -2.2M1144.6 493.3l9.7 -11.3M1319.8 454.5l2.4 12.2M1229.3 443.6l11.7 5.8M1224.5 300.8l-7.4 11.7M992.0 449.8l5.9 -8.6M1253.4 280.3l4.4 10.1M1316.3 465.7l2.6 12.3M1025.7 536.3l12.5 -1.1M1062.7 477.0l6.6 2.8M1266.5 218.0l-4.9 7.0M1160.0 369.8l6.1 -2.6M1059.0 505.0l7.4 -6.3M1221.0 332.4l14.7 0.1M1026.3 453.3l1.1 8.5M1179.5 342.8l-3.8 11.5M1186.4 365.6l5.2 -6.6M1080.7 444.2l9.2 -2.2M1289.3 359.5l11.4 8.5" stroke="#fff" stroke-opacity="0.42" stroke-width="1.6" stroke-linecap="round" fill="none" filter="url(#soft3)"/>
<path d="M1052.6 302.5C1051.4 299.8 1053.7 290.9 1054.4 284.0C1055.2 277.1 1056.0 268.2 1057.1 261.4C1058.1 254.6 1060.0 248.4 1060.7 243.3C1061.5 238.2 1060.4 234.7 1061.6 230.6C1062.8 226.5 1065.0 222.2 1068.0 218.9C1071.0 215.6 1075.5 212.9 1079.7 210.7C1083.9 208.5 1089.5 206.9 1093.3 205.8C1097.1 204.7 1098.5 204.0 1102.3 204.2C1106.1 204.4 1111.4 205.4 1115.9 207.1C1120.4 208.8 1125.4 211.4 1129.5 214.4C1133.6 217.4 1137.7 221.3 1140.3 225.2C1142.9 229.1 1144.2 234.0 1145.3 237.9C1146.3 241.8 1148.0 246.4 1146.6 248.7C1145.2 250.9 1139.9 249.7 1136.7 251.4C1133.5 253.1 1131.8 254.9 1127.6 258.7C1123.4 262.5 1116.4 269.5 1111.4 274.0C1106.4 278.5 1102.0 282.3 1097.8 285.8C1093.6 289.3 1090.2 292.2 1086.1 294.8C1082.0 297.4 1077.5 300.3 1073.4 301.2C1069.3 302.1 1065.1 300.1 1061.6 300.3C1058.1 300.5 1053.8 305.2 1052.6 302.5Z" fill="#fff" fill-opacity="0.10" stroke="#fff" stroke-opacity="0.18" stroke-width="5" filter="url(#soft2)"/>
<path d="M1052.6 302.5C1051.4 299.8 1053.7 290.9 1054.4 284.0C1055.2 277.1 1056.0 268.2 1057.1 261.4C1058.1 254.6 1060.0 248.4 1060.7 243.3C1061.5 238.2 1060.4 234.7 1061.6 230.6C1062.8 226.5 1065.0 222.2 1068.0 218.9C1071.0 215.6 1075.5 212.9 1079.7 210.7C1083.9 208.5 1089.5 206.9 1093.3 205.8C1097.1 204.7 1098.5 204.0 1102.3 204.2C1106.1 204.4 1111.4 205.4 1115.9 207.1C1120.4 208.8 1125.4 211.4 1129.5 214.4C1133.6 217.4 1137.7 221.3 1140.3 225.2C1142.9 229.1 1144.2 234.0 1145.3 237.9C1146.3 241.8 1148.0 246.4 1146.6 248.7C1145.2 250.9 1139.9 249.7 1136.7 251.4C1133.5 253.1 1131.8 254.9 1127.6 258.7C1123.4 262.5 1116.4 269.5 1111.4 274.0C1106.4 278.5 1102.0 282.3 1097.8 285.8C1093.6 289.3 1090.2 292.2 1086.1 294.8C1082.0 297.4 1077.5 300.3 1073.4 301.2C1069.3 302.1 1065.1 300.1 1061.6 300.3C1058.1 300.5 1053.8 305.2 1052.6 302.5Z" fill="url(#holeg)" filter="url(#soft)"/>
<path d="M1085 221l12 3M1086 227l12 3M1088 233l11 3M1090 239l9 2" stroke="#3a3a3a" stroke-width="1.6" fill="none"/>
<g transform="translate(-1.5 -1) rotate(-3 1192 576)" filter="url(#soft)"><ellipse cx="1192" cy="576" rx="32" ry="11.5" fill="url(#cavg)"/><path d="M1161 578A32 11.5 0 0 0 1223.5 577" fill="none" stroke="#c4c4c4" stroke-width="2.2"/><path d="M1164 572A32 11.5 0 0 1 1220 571" fill="none" stroke="#262626" stroke-opacity="0.6" stroke-width="1.6"/></g>
<path d="M1057 452h.01M1184 510h.01M1088 545h.01M1291 517h.01M1120 468h.01M1215 399h.01" stroke="#1a1a1a" stroke-width="3.2" stroke-linecap="round"/>
</g>
<ellipse cx="1169.8" cy="377.4" rx="75.2" ry="66.7" fill="none" stroke="#e2e25a" stroke-width="1.1"/>
<path d="M1194.0 305.8h-6M1199.0 305.8h6M1196.5 303.3v-6M1196.5 308.3v6M1162.7 349.0h-6M1167.7 349.0h6M1165.2 346.5v-6M1165.2 351.5v6M1125.6 418.7h-6M1130.6 418.7h6M1128.1 416.2v-6M1128.1 421.2v6" stroke="#e6e03c" stroke-width="2" fill="none"/>
<g font-family="Liberation Sans, sans-serif" font-size="15.1" fill="#27cf27">
<text x="1183.5" y="291" textLength="108" lengthAdjust="spacingAndGlyphs">Set18-70_matrix</text>
<text x="1098.8" y="300.2" textLength="132.5" lengthAdjust="spacingAndGlyphs">Set18-70_body_bulk</text>
<text x="1152.5" y="333.4" textLength="156.3" lengthAdjust="spacingAndGlyphs">Set18-70_olivine-crystal</text>
<text x="1115.8" y="403.4" textLength="130.2" lengthAdjust="spacingAndGlyphs">Set18-70_magnetite</text>
</g>
<rect x="762.0" y="622.4" width="800.0" height="42" fill="#000"/>
<g font-family="Liberation Sans, sans-serif" font-size="14" font-weight="bold" fill="#ffffff">
<text x="779" y="637.2" textLength="22.5" lengthAdjust="spacingAndGlyphs">161</text>
<text x="774" y="655.5" textLength="31" lengthAdjust="spacingAndGlyphs">Ch 1</text>
<text x="823.5" y="655.5" textLength="77.5" lengthAdjust="spacingAndGlyphs">MAG: 430x</text>
<text x="918.5" y="655.5" textLength="66.5" lengthAdjust="spacingAndGlyphs">HV: 15 kV</text>
<text x="1004" y="655.5" textLength="91" lengthAdjust="spacingAndGlyphs">WD: 13,3 mm</text>
<text x="1113.5" y="655.5" textLength="80.5" lengthAdjust="spacingAndGlyphs">Px: 0,37 µm</text>
<text x="1435" y="637.5" textLength="42" lengthAdjust="spacingAndGlyphs">60 µm</text>
</g>
<path d="M1376.7 645.5H1537.7M1376.7 636.4v18.2M1537.7 636.4v18.2" stroke="#fff" stroke-width="2" fill="none"/>
</g>
<rect x="14.5" y="1467.5" width="1618.8" height="30.5" fill="#d9d9d9"/>
<rect x="14.5" y="1467.5" width="1618.8" height="154.5" fill="none" stroke="#000" stroke-width="1.3"/>
<path d="M14.5 1498.0H1633.3" stroke="#000" stroke-width="1.3"/>
<g font-family="Liberation Sans, sans-serif" font-size="21.6" fill="#000">
<text x="54.0" y="1490.8" textLength="41.5" lengthAdjust="spacingAndGlyphs">MM</text>
<text x="138.4" y="1490.8" textLength="155.6" lengthAdjust="spacingAndGlyphs">Spectrum name</text>
<text x="525.3" y="1490.8" textLength="67.5" lengthAdjust="spacingAndGlyphs">setting</text>
<text x="599.6" y="1490.8" textLength="13.8" lengthAdjust="spacingAndGlyphs">C</text>
<text x="622.9" y="1490.8" textLength="16.5" lengthAdjust="spacingAndGlyphs">O</text>
<text x="648.2" y="1490.8" textLength="56.0" lengthAdjust="spacingAndGlyphs">Na2O</text>
<text x="717.4" y="1490.8" textLength="47.6" lengthAdjust="spacingAndGlyphs">MgO</text>
<text x="775.8" y="1490.8" textLength="60.1" lengthAdjust="spacingAndGlyphs">Al2O3</text>
<text x="848.4" y="1490.8" textLength="45.8" lengthAdjust="spacingAndGlyphs">SiO2</text>
<text x="909.8" y="1490.8" textLength="52.0" lengthAdjust="spacingAndGlyphs">P2O5</text>
<text x="981.7" y="1490.8" textLength="39.1" lengthAdjust="spacingAndGlyphs">SO3</text>
<text x="1035.0" y="1490.8" textLength="41.4" lengthAdjust="spacingAndGlyphs">K2O</text>
<text x="1089.4" y="1490.8" textLength="41.9" lengthAdjust="spacingAndGlyphs">CaO</text>
<text x="1147.2" y="1490.8" textLength="45.7" lengthAdjust="spacingAndGlyphs">TiO2</text>
<text x="1199.4" y="1490.8" textLength="61.7" lengthAdjust="spacingAndGlyphs">Cr2O3</text>
<text x="1270.3" y="1490.8" textLength="49.8" lengthAdjust="spacingAndGlyphs">MnO</text>
<text x="1341.2" y="1490.8" textLength="39.4" lengthAdjust="spacingAndGlyphs">FeO</text>
<text x="1392.7" y="1490.8" textLength="26.3" lengthAdjust="spacingAndGlyphs">Co</text>
<text x="1441.2" y="1490.8" textLength="21.4" lengthAdjust="spacingAndGlyphs">Ni</text>
<text x="1493.1" y="1490.8" textLength="25.5" lengthAdjust="spacingAndGlyphs">Cu</text>
<text x="1535.3" y="1490.8" textLength="24.4" lengthAdjust="spacingAndGlyphs">Zn</text>
<text x="1579.3" y="1490.8" textLength="43.8" lengthAdjust="spacingAndGlyphs">Sum</text>
<text x="17.6" y="1521.5" textLength="105.6" lengthAdjust="spacingAndGlyphs">THMM618</text>
<text x="138.4" y="1521.5" textLength="204.2" lengthAdjust="spacingAndGlyphs">Set18-70_body_bulk</text>
<text x="554.3" y="1521.5" textLength="10.0" lengthAdjust="spacingAndGlyphs">1</text>
<text x="599.6" y="1521.5" textLength="12.5" lengthAdjust="spacingAndGlyphs">0</text>
<text x="624.9" y="1521.5" textLength="12.5" lengthAdjust="spacingAndGlyphs">0</text>
<text x="719.6" y="1521.5" textLength="42.8" lengthAdjust="spacingAndGlyphs">21,6</text>
<text x="790.6" y="1521.5" textLength="30.7" lengthAdjust="spacingAndGlyphs">4,1</text>
<text x="849.6" y="1521.5" textLength="42.8" lengthAdjust="spacingAndGlyphs">45,3</text>
<text x="920.4" y="1521.5" textLength="30.7" lengthAdjust="spacingAndGlyphs">0,2</text>
<text x="1095.0" y="1521.5" textLength="30.7" lengthAdjust="spacingAndGlyphs">2,3</text>
<text x="1214.7" y="1521.5" textLength="30.7" lengthAdjust="spacingAndGlyphs">0,5</text>
<text x="1338.6" y="1521.5" textLength="42.8" lengthAdjust="spacingAndGlyphs">25,7</text>
<text x="1436.5" y="1521.5" textLength="30.7" lengthAdjust="spacingAndGlyphs">0,3</text>
<text x="1574.1" y="1521.5" textLength="55.0" lengthAdjust="spacingAndGlyphs">100,0</text>
<text x="17.6" y="1552.5" textLength="105.6" lengthAdjust="spacingAndGlyphs">THMM618</text>
<text x="138.4" y="1552.5" textLength="236.6" lengthAdjust="spacingAndGlyphs">Set18-70_olivine-crystal</text>
<text x="554.3" y="1552.5" textLength="10.0" lengthAdjust="spacingAndGlyphs">1</text>
<text x="599.6" y="1552.5" textLength="12.5" lengthAdjust="spacingAndGlyphs">0</text>
<text x="624.9" y="1552.5" textLength="12.5" lengthAdjust="spacingAndGlyphs">0</text>
<text x="719.6" y="1552.5" textLength="42.8" lengthAdjust="spacingAndGlyphs">44,4</text>
<text x="790.6" y="1552.5" textLength="30.7" lengthAdjust="spacingAndGlyphs">0,2</text>
<text x="849.6" y="1552.5" textLength="42.8" lengthAdjust="spacingAndGlyphs">40,9</text>
<text x="1095.0" y="1552.5" textLength="30.7" lengthAdjust="spacingAndGlyphs">0,0</text>
<text x="1214.7" y="1552.5" textLength="30.7" lengthAdjust="spacingAndGlyphs">0,2</text>
<text x="1338.6" y="1552.5" textLength="42.8" lengthAdjust="spacingAndGlyphs">13,6</text>
<text x="1436.5" y="1552.5" textLength="30.7" lengthAdjust="spacingAndGlyphs">0,6</text>
<text x="1574.1" y="1552.5" textLength="55.0" lengthAdjust="spacingAndGlyphs">100,0</text>
<text x="17.6" y="1583.4" textLength="105.6" lengthAdjust="spacingAndGlyphs">THMM618</text>
<text x="138.4" y="1583.4" textLength="199.5" lengthAdjust="spacingAndGlyphs">Set18-70_magnetite</text>
<text x="554.3" y="1583.4" textLength="10.0" lengthAdjust="spacingAndGlyphs">1</text>
<text x="599.6" y="1583.4" textLength="12.5" lengthAdjust="spacingAndGlyphs">0</text>
<text x="624.9" y="1583.4" textLength="12.5" lengthAdjust="spacingAndGlyphs">0</text>
<text x="725.6" y="1583.4" textLength="30.7" lengthAdjust="spacingAndGlyphs">4,4</text>
<text x="790.6" y="1583.4" textLength="30.7" lengthAdjust="spacingAndGlyphs">3,7</text>
<text x="849.6" y="1583.4" textLength="42.8" lengthAdjust="spacingAndGlyphs">33,1</text>
<text x="1095.0" y="1583.4" textLength="30.7" lengthAdjust="spacingAndGlyphs">2,2</text>
<text x="1154.7" y="1583.4" textLength="30.7" lengthAdjust="spacingAndGlyphs">0,3</text>
<text x="1214.7" y="1583.4" textLength="30.7" lengthAdjust="spacingAndGlyphs">2,3</text>
<text x="1279.7" y="1583.4" textLength="30.7" lengthAdjust="spacingAndGlyphs">1,9</text>
<text x="1338.6" y="1583.4" textLength="42.8" lengthAdjust="spacingAndGlyphs">51,9</text>
<text x="1436.5" y="1583.4" textLength="30.7" lengthAdjust="spacingAndGlyphs">0,1</text>
<text x="1574.1" y="1583.4" textLength="55.0" lengthAdjust="spacingAndGlyphs">100,0</text>
<text x="17.6" y="1614.4" textLength="105.6" lengthAdjust="spacingAndGlyphs">THMM618</text>
<text x="138.4" y="1614.4" textLength="162.3" lengthAdjust="spacingAndGlyphs">Set18-70_matrix</text>
<text x="554.3" y="1614.4" textLength="10.0" lengthAdjust="spacingAndGlyphs">1</text>
<text x="599.6" y="1614.4" textLength="12.5" lengthAdjust="spacingAndGlyphs">0</text>
<text x="624.9" y="1614.4" textLength="12.5" lengthAdjust="spacingAndGlyphs">0</text>
<text x="719.6" y="1614.4" textLength="42.8" lengthAdjust="spacingAndGlyphs">25,2</text>
<text x="790.6" y="1614.4" textLength="30.7" lengthAdjust="spacingAndGlyphs">3,3</text>
<text x="849.6" y="1614.4" textLength="42.8" lengthAdjust="spacingAndGlyphs">44,6</text>
<text x="920.4" y="1614.4" textLength="30.7" lengthAdjust="spacingAndGlyphs">0,2</text>
<text x="1095.0" y="1614.4" textLength="30.7" lengthAdjust="spacingAndGlyphs">1,4</text>
<text x="1214.7" y="1614.4" textLength="30.7" lengthAdjust="spacingAndGlyphs">0,5</text>
<text x="1338.6" y="1614.4" textLength="42.8" lengthAdjust="spacingAndGlyphs">24,5</text>
<text x="1436.5" y="1614.4" textLength="30.7" lengthAdjust="spacingAndGlyphs">0,3</text>
<text x="1574.1" y="1614.4" textLength="55.0" lengthAdjust="spacingAndGlyphs">100,0</text>
</g>
<text x="17.6" y="1645.7" font-family="Liberation Sans, sans-serif" font-size="18" fill="#000" textLength="1437.6" lengthAdjust="spacingAndGlyphs">setting 1: preset elements: C(not unfolding),O,Mg,Al,Si,Ca,Cr,Fe,Ni; optional elements: Na,P,S,K,Ti,Mn,Co,Cu,Zn (values normalized to 100%; measurement poorly calibrated)</text>
</svg>
</body></html>
